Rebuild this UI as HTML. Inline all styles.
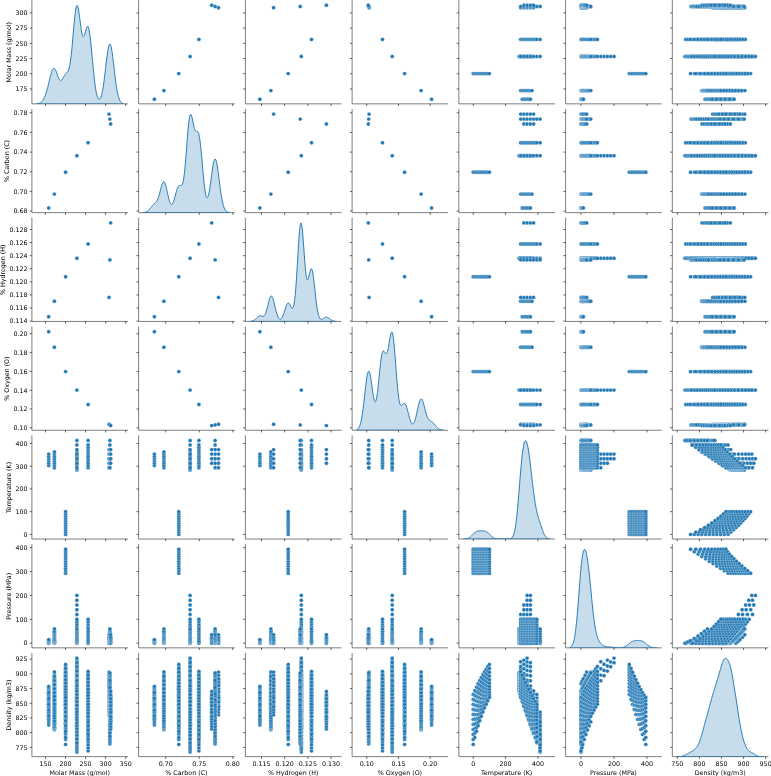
<!DOCTYPE html>
<html><head><meta charset="utf-8"><title>Pairplot</title>
<style>html,body{margin:0;padding:0;background:#fff}svg{display:block}</style></head>
<body>
<svg width="771" height="776" viewBox="0 0 771 776" font-family="'DejaVu Sans', 'Liberation Sans', sans-serif" font-size="6.33px" fill="#000">
<defs><marker id="d" markerUnits="userSpaceOnUse" markerWidth="6" markerHeight="6" refX="3" refY="3" viewBox="0 0 6 6"><circle cx="3" cy="3" r="1.95" fill="#1f77b4" stroke="#fff" stroke-width="0.3"/></marker></defs>
<rect width="771" height="776" fill="#fff"/>
<g>
<path d="M31.90,0.60V103.85H127.50" fill="none" stroke="#000" stroke-width="0.507" stroke-linecap="square"/>
<clipPath id="c0"><rect x="31.90" y="0.60" width="95.6" height="103.25"/></clipPath>
<path d="M36.25,103.76 36.25,103.85 36.68,103.85 37.12,103.85 37.56,103.85 37.99,103.85 38.43,103.85 38.87,103.85 39.30,103.85 39.74,103.85 40.18,103.85 40.61,103.85 41.05,103.85 41.49,103.85 41.92,103.85 42.36,103.85 42.80,103.85 43.23,103.85 43.67,103.85 44.11,103.85 44.54,103.85 44.98,103.85 45.42,103.85 45.85,103.85 46.29,103.85 46.73,103.85 47.16,103.85 47.60,103.85 48.04,103.85 48.47,103.85 48.91,103.85 49.35,103.85 49.78,103.85 50.22,103.85 50.66,103.85 51.09,103.85 51.53,103.85 51.97,103.85 52.40,103.85 52.84,103.85 53.28,103.85 53.71,103.85 54.15,103.85 54.59,103.85 55.02,103.85 55.46,103.85 55.90,103.85 56.33,103.85 56.77,103.85 57.21,103.85 57.65,103.85 58.08,103.85 58.52,103.85 58.96,103.85 59.39,103.85 59.83,103.85 60.27,103.85 60.70,103.85 61.14,103.85 61.58,103.85 62.01,103.85 62.45,103.85 62.89,103.85 63.32,103.85 63.76,103.85 64.20,103.85 64.63,103.85 65.07,103.85 65.51,103.85 65.94,103.85 66.38,103.85 66.82,103.85 67.25,103.85 67.69,103.85 68.13,103.85 68.56,103.85 69.00,103.85 69.44,103.85 69.87,103.85 70.31,103.85 70.75,103.85 71.18,103.85 71.62,103.85 72.06,103.85 72.49,103.85 72.93,103.85 73.37,103.85 73.80,103.85 74.24,103.85 74.68,103.85 75.11,103.85 75.55,103.85 75.99,103.85 76.42,103.85 76.86,103.85 77.30,103.85 77.73,103.85 78.17,103.85 78.61,103.85 79.04,103.85 79.48,103.85 79.92,103.85 80.36,103.85 80.79,103.85 81.23,103.85 81.67,103.85 82.10,103.85 82.54,103.85 82.98,103.85 83.41,103.85 83.85,103.85 84.29,103.85 84.72,103.85 85.16,103.85 85.60,103.85 86.03,103.85 86.47,103.85 86.91,103.85 87.34,103.85 87.78,103.85 88.22,103.85 88.65,103.85 89.09,103.85 89.53,103.85 89.96,103.85 90.40,103.85 90.84,103.85 91.27,103.85 91.71,103.85 92.15,103.85 92.58,103.85 93.02,103.85 93.46,103.85 93.89,103.85 94.33,103.85 94.77,103.85 95.20,103.85 95.64,103.85 96.08,103.85 96.51,103.85 96.95,103.85 97.39,103.85 97.82,103.85 98.26,103.85 98.70,103.85 99.13,103.85 99.57,103.85 100.01,103.85 100.44,103.85 100.88,103.85 101.32,103.85 101.75,103.85 102.19,103.85 102.63,103.85 103.07,103.85 103.50,103.85 103.94,103.85 104.38,103.85 104.81,103.85 105.25,103.85 105.69,103.85 106.12,103.85 106.56,103.85 107.00,103.85 107.43,103.85 107.87,103.85 108.31,103.85 108.74,103.85 109.18,103.85 109.62,103.85 110.05,103.85 110.49,103.85 110.93,103.85 111.36,103.85 111.80,103.85 112.24,103.85 112.67,103.85 113.11,103.85 113.55,103.85 113.98,103.85 114.42,103.85 114.86,103.85 115.29,103.85 115.73,103.85 116.17,103.85 116.60,103.85 117.04,103.85 117.48,103.85 117.91,103.85 118.35,103.85 118.79,103.85 119.22,103.85 119.66,103.85 120.10,103.85 120.53,103.85 120.97,103.85 121.41,103.85 121.84,103.85 122.28,103.85 122.72,103.85 123.15,103.85 123.15,103.47 123.15,103.47 122.72,103.33 122.28,103.13 121.84,102.88 121.41,102.55 120.97,102.12 120.53,101.58 120.10,100.90 119.66,100.05 119.22,99.03 118.79,97.79 118.35,96.31 117.91,94.58 117.48,92.57 117.04,90.27 116.60,87.68 116.17,84.81 115.73,81.68 115.29,78.31 114.86,74.74 114.42,71.04 113.98,67.27 113.55,63.50 113.11,59.83 112.67,56.35 112.24,53.15 111.80,50.32 111.36,47.95 110.93,46.11 110.49,44.85 110.05,44.22 109.62,44.23 109.18,44.90 108.74,46.18 108.31,48.06 107.87,50.45 107.43,53.30 107.00,56.52 106.56,60.01 106.12,63.68 105.69,67.44 105.25,71.21 104.81,74.90 104.38,78.44 103.94,81.78 103.50,84.88 103.07,87.70 102.63,90.21 102.19,92.42 101.75,94.31 101.32,95.89 100.88,97.16 100.44,98.13 100.01,98.81 99.57,99.20 99.13,99.31 98.70,99.13 98.26,98.66 97.82,97.88 97.39,96.79 96.95,95.36 96.51,93.57 96.08,91.42 95.64,88.89 95.20,85.98 94.77,82.68 94.33,79.01 93.89,75.01 93.46,70.71 93.02,66.17 92.58,61.47 92.15,56.69 91.71,51.94 91.27,47.31 90.84,42.93 90.40,38.89 89.96,35.30 89.53,32.24 89.09,29.79 88.65,27.98 88.22,26.84 87.78,26.35 87.34,26.47 86.91,27.12 86.47,28.21 86.03,29.61 85.60,31.19 85.16,32.79 84.72,34.27 84.29,35.49 83.85,36.31 83.41,36.65 82.98,36.40 82.54,35.55 82.10,34.07 81.67,32.01 81.23,29.42 80.79,26.42 80.36,23.13 79.92,19.71 79.48,16.32 79.04,13.13 78.61,10.32 78.17,8.03 77.73,6.41 77.30,5.54 76.86,5.52 76.42,6.36 75.99,8.06 75.55,10.59 75.11,13.86 74.68,17.78 74.24,22.20 73.80,26.99 73.37,32.00 72.93,37.08 72.49,42.08 72.06,46.87 71.62,51.35 71.18,55.44 70.75,59.06 70.31,62.20 69.87,64.84 69.44,67.00 69.00,68.72 68.56,70.05 68.13,71.05 67.69,71.81 67.25,72.38 66.82,72.84 66.38,73.25 65.94,73.66 65.51,74.12 65.07,74.64 64.63,75.24 64.20,75.92 63.76,76.65 63.32,77.42 62.89,78.19 62.45,78.90 62.01,79.54 61.58,80.04 61.14,80.38 60.70,80.52 60.27,80.44 59.83,80.13 59.39,79.59 58.96,78.84 58.52,77.90 58.08,76.81 57.65,75.61 57.21,74.34 56.77,73.08 56.33,71.86 55.90,70.75 55.46,69.80 55.02,69.05 54.59,68.53 54.15,68.28 53.71,68.30 53.28,68.61 52.84,69.18 52.40,70.02 51.97,71.10 51.53,72.38 51.09,73.84 50.66,75.45 50.22,77.15 49.78,78.92 49.35,80.73 48.91,82.55 48.47,84.35 48.04,86.10 47.60,87.79 47.16,89.41 46.73,90.94 46.29,92.38 45.85,93.72 45.42,94.96 44.98,96.10 44.54,97.14 44.11,98.07 43.67,98.92 43.23,99.67 42.80,100.33 42.36,100.91 41.92,101.42 41.49,101.85 41.05,102.22 40.61,102.54 40.18,102.80 39.74,103.02 39.30,103.20 38.87,103.34 38.43,103.46 37.99,103.55 37.56,103.63 37.12,103.68 36.68,103.73 36.25,103.76 36.25,103.76Z" clip-path="url(#c0)" fill="#1f77b4" fill-opacity="0.25" stroke="#1f77b4" stroke-width="0.95" stroke-linejoin="round"/>
<path d="M45.43,103.85v2.2M65.50,103.85v2.2M85.56,103.85v2.2M105.63,103.85v2.2M125.69,103.85v2.2M31.90,88.96h-2.2M31.90,73.75h-2.2M31.90,58.55h-2.2M31.90,43.34h-2.2M31.90,28.13h-2.2M31.90,12.92h-2.2" stroke="#000" stroke-width="0.6" fill="none"/>
<text x="27.50" y="91.27" text-anchor="end">175</text>
<text x="27.50" y="76.06" text-anchor="end">200</text>
<text x="27.50" y="60.86" text-anchor="end">225</text>
<text x="27.50" y="45.65" text-anchor="end">250</text>
<text x="27.50" y="30.44" text-anchor="end">275</text>
<text x="27.50" y="15.23" text-anchor="end">300</text>
<text transform="translate(11.40,52.22) rotate(-90)" text-anchor="middle">Molar Mass (g/mol)</text>
</g>
<g>
<polyline points="154.4,99.2 163.9,90.6 178.8,73.6 190.1,56.5 218.5,7.7 215.1,6.5 211.7,5.3 198.9,39.4" fill="none" stroke="none" marker-start="url(#d)" marker-mid="url(#d)" marker-end="url(#d)"/>
<path d="M138.64,0.60V103.85H234.24" fill="none" stroke="#000" stroke-width="0.507" stroke-linecap="square"/>
<path d="M165.72,103.85v2.2M199.25,103.85v2.2M232.78,103.85v2.2M138.64,88.96h-2.2M138.64,73.75h-2.2M138.64,58.55h-2.2M138.64,43.34h-2.2M138.64,28.13h-2.2M138.64,12.92h-2.2" stroke="#000" stroke-width="0.6" fill="none"/>
</g>
<g>
<polyline points="259.9,99.2 270.9,90.6 288.2,73.6 301.3,56.5 273.6,7.7 300.2,6.5 326.4,5.3 311.5,39.4" fill="none" stroke="none" marker-start="url(#d)" marker-mid="url(#d)" marker-end="url(#d)"/>
<path d="M245.38,0.60V103.85H340.98" fill="none" stroke="#000" stroke-width="0.507" stroke-linecap="square"/>
<path d="M261.49,103.85v2.2M284.67,103.85v2.2M307.86,103.85v2.2M331.04,103.85v2.2M245.38,88.96h-2.2M245.38,73.75h-2.2M245.38,58.55h-2.2M245.38,43.34h-2.2M245.38,28.13h-2.2M245.38,12.92h-2.2" stroke="#000" stroke-width="0.6" fill="none"/>
</g>
<g>
<polyline points="431.6,99.2 421.1,90.6 404.6,73.6 392.2,56.5 369.1,7.7 368.7,6.5 368.3,5.3 382.5,39.4" fill="none" stroke="none" marker-start="url(#d)" marker-mid="url(#d)" marker-end="url(#d)"/>
<path d="M352.12,0.60V103.85H447.72" fill="none" stroke="#000" stroke-width="0.507" stroke-linecap="square"/>
<path d="M366.76,103.85v2.2M398.46,103.85v2.2M430.17,103.85v2.2M352.12,88.96h-2.2M352.12,73.75h-2.2M352.12,58.55h-2.2M352.12,43.34h-2.2M352.12,28.13h-2.2M352.12,12.92h-2.2" stroke="#000" stroke-width="0.6" fill="none"/>
</g>
<g>
<polyline points="522.3,99.2 523.9,99.2 525.5,99.2 527.1,99.2 528.8,99.2 530.4,99.2 520.7,90.6 522.3,90.6 523.9,90.6 525.5,90.6 527.1,90.6 528.8,90.6 530.4,90.6 532,90.6 473.2,73.6 474.8,73.6 476.5,73.6 478.1,73.6 479.7,73.6 481.3,73.6 482.9,73.6 484.5,73.6 486.2,73.6 487.8,73.6 489.4,73.6 519,56.5 519.9,56.5 521.5,56.5 522.3,56.5 523.1,56.5 524.7,56.5 525.5,56.5 526.3,56.5 527.9,56.5 528.8,56.5 529.6,56.5 531.2,56.5 532,56.5 520.7,56.5 523.9,56.5 527.1,56.5 530.4,56.5 533.6,56.5 536.8,56.5 540.1,56.5 520.7,7.7 523.9,7.7 527.1,7.7 530.4,7.7 533.6,7.7 520.7,6.5 523.9,6.5 527.1,6.5 530.4,6.5 533.6,6.5 536.8,6.5 540.1,6.5 523.9,5.3 527.1,5.3 530.4,5.3 533.6,5.3 520.7,39.4 522.3,39.4 523.9,39.4 525.5,39.4 527.1,39.4 528.8,39.4 530.4,39.4 532,39.4 533.6,39.4 535.2,39.4 536.8,39.4 540.1,39.4" fill="none" stroke="none" marker-start="url(#d)" marker-mid="url(#d)" marker-end="url(#d)"/>
<path d="M458.86,0.60V103.85H554.46" fill="none" stroke="#000" stroke-width="0.507" stroke-linecap="square"/>
<path d="M473.22,103.85v2.2M505.59,103.85v2.2M537.96,103.85v2.2M458.86,88.96h-2.2M458.86,73.75h-2.2M458.86,58.55h-2.2M458.86,43.34h-2.2M458.86,28.13h-2.2M458.86,12.92h-2.2" stroke="#000" stroke-width="0.6" fill="none"/>
</g>
<g>
<polyline points="581,99.2 581.4,99.2 581.9,99.2 582.4,99.2 582.9,99.2 583.4,99.2 581,90.6 581.1,90.6 581.3,90.6 581.4,90.6 581.6,90.6 581.8,90.6 582.2,90.6 582.6,90.6 583,90.6 583.4,90.6 584.2,90.6 585.1,90.6 585.9,90.6 586.7,90.6 587.5,90.6 588.4,90.6 589.2,90.6 590.8,90.6 629.3,73.6 631,73.6 632.6,73.6 634.3,73.6 635.9,73.6 637.6,73.6 639.2,73.6 640.9,73.6 642.5,73.6 644.2,73.6 645.8,73.6 600.8,56.5 604.1,56.5 607.4,56.5 610.7,56.5 614,56.5 592.5,56.5 594.1,56.5 595.8,56.5 597.4,56.5 581,56.5 581.3,56.5 581.6,56.5 581.9,56.5 582.3,56.5 582.6,56.5 583.4,56.5 584.2,56.5 585.1,56.5 585.9,56.5 586.7,56.5 587.5,56.5 588.4,56.5 589.2,56.5 590,56.5 590.8,56.5 581,7.7 581.8,7.7 582.6,7.7 583.4,7.7 585.1,7.7 586.7,7.7 587.5,6.5 588.4,6.5 589.2,6.5 590,6.5 590.8,6.5 581,6.5 581.3,6.5 581.6,6.5 581.9,6.5 582.3,6.5 582.6,6.5 583.4,6.5 584.2,6.5 585.1,6.5 585.9,6.5 586.7,6.5 581,5.3 581.8,5.3 582.6,5.3 583.4,5.3 584.2,5.3 585.1,5.3 586.7,5.3 592.5,39.4 594.1,39.4 595.8,39.4 597.4,39.4 581,39.4 581.8,39.4 582.6,39.4 584.2,39.4 585.9,39.4 587.5,39.4 589.2,39.4 590.8,39.4" fill="none" stroke="none" marker-start="url(#d)" marker-mid="url(#d)" marker-end="url(#d)"/>
<path d="M565.60,0.60V103.85H661.20" fill="none" stroke="#000" stroke-width="0.507" stroke-linecap="square"/>
<path d="M580.94,103.85v2.2M613.96,103.85v2.2M646.97,103.85v2.2M565.60,88.96h-2.2M565.60,73.75h-2.2M565.60,58.55h-2.2M565.60,43.34h-2.2M565.60,28.13h-2.2M565.60,12.92h-2.2" stroke="#000" stroke-width="0.6" fill="none"/>
</g>
<g>
<polyline points="729,99.2 730,99.2 731.1,99.2 732.1,99.2 733.1,99.2 734.1,99.2 724.2,99.2 725.3,99.2 726.4,99.2 727.5,99.2 728.6,99.2 729.6,99.2 719.4,99.2 720.6,99.2 721.8,99.2 722.9,99.2 724.1,99.2 725.2,99.2 714.7,99.2 715.9,99.2 717.2,99.2 718.4,99.2 719.6,99.2 720.8,99.2 709.9,99.2 711.3,99.2 712.6,99.2 713.9,99.2 715.2,99.2 716.4,99.2 705.1,99.2 706.6,99.2 708.1,99.2 709.5,99.2 710.8,99.2 712.2,99.2 729,90.6 729.9,90.6 730.2,90.6 730.5,90.6 732.1,90.6 733.5,90.6 735,90.6 736.3,90.6 737.7,90.6 739,90.6 740.2,90.6 741.5,90.6 742.6,90.6 744.9,90.6 726,90.6 726.4,90.6 726.7,90.6 727.5,90.6 728.3,90.6 729.1,90.6 729.8,90.6 731.3,90.6 732.7,90.6 734.1,90.6 735.5,90.6 736.8,90.6 738.1,90.6 739.3,90.6 741.7,90.6 721.2,90.6 721.5,90.6 721.8,90.6 722.9,90.6 724.5,90.6 725.4,90.6 726.2,90.6 727.7,90.6 729.2,90.6 730.6,90.6 732,90.6 733.4,90.6 734.7,90.6 736,90.6 738.4,90.6 717.2,90.6 717.6,90.6 718.3,90.6 718.7,90.6 719.1,90.6 719.9,90.6 720.8,90.6 721.7,90.6 722.5,90.6 724.1,90.6 725.7,90.6 727.2,90.6 728.7,90.6 730.1,90.6 731.4,90.6 732.8,90.6 735.3,90.6 713.3,90.6 714.1,90.6 714.5,90.6 714.9,90.6 715.2,90.6 716.2,90.6 718,90.6 722.2,90.6 723.8,90.6 725.3,90.6 726.8,90.6 728.2,90.6 729.6,90.6 732.2,90.6 709.4,90.6 710.2,90.6 710.6,90.6 711.1,90.6 711.5,90.6 712.5,90.6 713.4,90.6 714.4,90.6 715.3,90.6 717.1,90.6 718.9,90.6 720.5,90.6 723.6,90.6 725.1,90.6 726.6,90.6 729.3,90.6 705.5,90.6 705.9,90.6 706.4,90.6 706.8,90.6 707.7,90.6 708.8,90.6 709.8,90.6 710.8,90.6 711.8,90.6 713.7,90.6 715.5,90.6 717.3,90.6 719,90.6 720.6,90.6 722.1,90.6 723.7,90.6 726.5,90.6 701.6,90.6 702,90.6 702.5,90.6 703,90.6 703.5,90.6 704,90.6 705.1,90.6 706.2,90.6 707.3,90.6 708.4,90.6 710.4,90.6 712.3,90.6 714.2,90.6 716,90.6 717.7,90.6 719.3,90.6 720.9,90.6 723.9,90.6 728.1,73.6 730.9,73.6 733.6,73.6 736.1,73.6 738.5,73.6 742.9,73.6 745,73.6 746.9,73.6 748.8,73.6 750.6,73.6 724.3,73.6 727.3,73.6 730.1,73.6 732.7,73.6 735.2,73.6 737.5,73.6 739.7,73.6 743.8,73.6 745.8,73.6 747.6,73.6 720.6,73.6 723.7,73.6 726.6,73.6 729.3,73.6 734.3,73.6 736.5,73.6 738.7,73.6 740.8,73.6 742.8,73.6 744.7,73.6 716.8,73.6 720.1,73.6 723.1,73.6 728.6,73.6 731.1,73.6 733.4,73.6 735.7,73.6 737.8,73.6 739.9,73.6 741.8,73.6 719.7,73.6 725.4,73.6 728,73.6 730.4,73.6 732.8,73.6 735,73.6 737.1,73.6 739.1,73.6 709.3,73.6 722.3,73.6 725,73.6 729.9,73.6 732.2,73.6 734.4,73.6 736.4,73.6 705.6,73.6 709.4,73.6 712.9,73.6 716.2,73.6 727.2,73.6 729.5,73.6 731.8,73.6 733.9,73.6 701.8,73.6 705.9,73.6 709.7,73.6 713.1,73.6 716.3,73.6 719.2,73.6 722,73.6 724.6,73.6 727,73.6 731.6,73.6 698.1,73.6 702.5,73.6 706.5,73.6 710.1,73.6 713.5,73.6 716.5,73.6 719.4,73.6 722.1,73.6 724.7,73.6 727.1,73.6 729.4,73.6 694.3,73.6 699.1,73.6 703.4,73.6 707.3,73.6 710.8,73.6 714.1,73.6 717.1,73.6 719.9,73.6 722.6,73.6 725.1,73.6 727.5,73.6 690.6,73.6 695.8,73.6 700.4,73.6 704.6,73.6 708.3,73.6 711.8,73.6 715,73.6 718,73.6 720.8,73.6 723.4,73.6 725.9,73.6 732.4,56.5 733,56.5 734.2,56.5 735.5,56.5 739.1,56.5 740.2,56.5 741.3,56.5 742.4,56.5 743.4,56.5 744.4,56.5 730.7,56.5 732.6,56.5 733.9,56.5 735.1,56.5 736.3,56.5 739.8,56.5 740.9,56.5 743,56.5 729.6,56.5 730.9,56.5 733.5,56.5 735.9,56.5 738.2,56.5 739.3,56.5 740.4,56.5 741.5,56.5 726.8,56.5 727.3,56.5 731.9,56.5 735.6,56.5 736.7,56.5 737.8,56.5 740,56.5 726.2,56.5 730.3,56.5 731.6,56.5 732.8,56.5 734,56.5 735.2,56.5 736.4,56.5 737.5,56.5 738.6,56.5 721.5,56.5 722.1,56.5 723.4,56.5 724.5,56.5 726,56.5 727.4,56.5 728.7,56.5 731.3,56.5 733.7,56.5 734.9,56.5 736,56.5 737.1,56.5 719.8,56.5 720.4,56.5 721.7,56.5 722.9,56.5 724.3,56.5 725.8,56.5 727.1,56.5 728.5,56.5 729.8,56.5 731,56.5 733.4,56.5 734.6,56.5 735.7,56.5 718.7,56.5 719.3,56.5 724.2,56.5 725.6,56.5 726.9,56.5 728.2,56.5 729.5,56.5 730.8,56.5 732,56.5 733.2,56.5 734.3,56.5 718.9,56.5 721.1,56.5 724,56.5 725.4,56.5 726.7,56.5 728.1,56.5 729.3,56.5 730.5,56.5 731.7,56.5 732.9,56.5 715.9,56.5 717.2,56.5 722.5,56.5 725.3,56.5 726.6,56.5 727.9,56.5 729.1,56.5 730.4,56.5 731.5,56.5 714.2,56.5 715.6,56.5 716.2,56.5 725.2,56.5 726.5,56.5 727.7,56.5 729,56.5 730.2,56.5 712.5,56.5 713.2,56.5 713.9,56.5 714.6,56.5 726.4,56.5 728.9,56.5 710.8,56.5 712.3,56.5 714.7,56.5 716.3,56.5 717.9,56.5 719.4,56.5 722.3,56.5 707.6,56.5 708.3,56.5 709.9,56.5 710.6,56.5 711.3,56.5 713.1,56.5 716.4,56.5 718,56.5 719.5,56.5 720.9,56.5 723.7,56.5 725,56.5 726.3,56.5 705.8,56.5 706.6,56.5 709,56.5 709.7,56.5 711.5,56.5 713.3,56.5 714.9,56.5 716.6,56.5 718.1,56.5 719.6,56.5 721,56.5 722.4,56.5 723.8,56.5 725.1,56.5 704.1,56.5 707.3,56.5 708.1,56.5 710,56.5 711.8,56.5 713.5,56.5 715.2,56.5 716.7,56.5 718.3,56.5 719.7,56.5 721.2,56.5 722.6,56.5 723.9,56.5 702.4,56.5 703.2,56.5 704,56.5 704.9,56.5 705.7,56.5 706.5,56.5 708.4,56.5 710.3,56.5 712.1,56.5 713.8,56.5 715.4,56.5 717,56.5 718.5,56.5 721.4,56.5 722.7,56.5 743.5,56.5 745.5,56.5 747.3,56.5 749.1,56.5 737.9,56.5 739.9,56.5 741.9,56.5 743.8,56.5 747.4,56.5 750.7,56.5 753.8,56.5 732.5,56.5 734.7,56.5 736.8,56.5 738.9,56.5 742.6,56.5 746.1,56.5 749.4,56.5 752.5,56.5 755.4,56.5 727.6,56.5 730,56.5 732.2,56.5 734.4,56.5 738.4,56.5 742.1,56.5 745.6,56.5 748.8,56.5 751.8,56.5 698.9,56.5 699.8,56.5 700.7,56.5 701.6,56.5 703.4,56.5 705.4,56.5 707.4,56.5 709.3,56.5 712.8,56.5 714.5,56.5 716.1,56.5 717.6,56.5 719.1,56.5 720.6,56.5 723.3,56.5 725.9,56.5 728.3,56.5 730.6,56.5 691.9,56.5 693,56.5 694.1,56.5 695.2,56.5 696.2,56.5 697.3,56.5 699.7,56.5 702,56.5 704.2,56.5 706.3,56.5 708.2,56.5 710.1,56.5 711.9,56.5 713.7,56.5 715.3,56.5 716.9,56.5 720,56.5 722.8,56.5 725.5,56.5 728,56.5 684.9,56.5 686.3,56.5 687.7,56.5 689.1,56.5 690.4,56.5 691.7,56.5 694.7,56.5 697.5,56.5 700.1,56.5 702.5,56.5 704.8,56.5 707,56.5 709.1,56.5 711.1,56.5 713,56.5 714.8,56.5 736,7.7 737.4,7.7 738.7,7.7 740,7.7 742.5,7.7 744.8,7.7 730.2,7.7 731.7,7.7 733.1,7.7 734.5,7.7 737.2,7.7 739.7,7.7 724.4,7.7 726,7.7 727.6,7.7 729.2,7.7 732.1,7.7 734.8,7.7 718.6,7.7 720.4,7.7 722.2,7.7 723.9,7.7 727.1,7.7 730.1,7.7 712.7,7.7 714.8,7.7 716.9,7.7 718.8,7.7 722.4,7.7 725.7,7.7 730.3,6.5 730.8,6.5 731.4,6.5 732.4,6.5 732.9,6.5 734.2,6.5 737.8,6.5 738.9,6.5 740.1,6.5 741.1,6.5 742.2,6.5 743.2,6.5 744.2,6.5 723.8,6.5 724.3,6.5 724.9,6.5 725.5,6.5 726.6,6.5 728,6.5 729.3,6.5 730.6,6.5 731.9,6.5 733.1,6.5 734.3,6.5 735.4,6.5 736.6,6.5 737.7,6.5 738.7,6.5 717.2,6.5 717.8,6.5 718.5,6.5 719.1,6.5 719.7,6.5 720.4,6.5 726.1,6.5 727.4,6.5 728.7,6.5 729.9,6.5 731.1,6.5 732.3,6.5 733.5,6.5 710.7,6.5 711.4,6.5 712.8,6.5 714.2,6.5 715.9,6.5 717.5,6.5 719,6.5 720.5,6.5 721.9,6.5 723.3,6.5 724.7,6.5 726,6.5 727.3,6.5 728.5,6.5 704.1,6.5 704.9,6.5 705.7,6.5 707.3,6.5 708.1,6.5 710,6.5 711.8,6.5 713.5,6.5 715.2,6.5 716.8,6.5 718.3,6.5 719.8,6.5 721.3,6.5 722.6,6.5 724,6.5 697.5,6.5 698.5,6.5 699.5,6.5 700.4,6.5 701.3,6.5 702.3,6.5 704.4,6.5 706.5,6.5 708.5,6.5 710.3,6.5 712.1,6.5 713.9,6.5 715.5,6.5 717.1,6.5 718.6,6.5 720.1,6.5 691,6.5 692.2,6.5 693.3,6.5 694.5,6.5 695.6,6.5 696.7,6.5 699.3,6.5 701.7,6.5 704,6.5 706.2,6.5 708.3,6.5 721,5.3 722.4,5.3 723.8,5.3 725.2,5.3 726.5,5.3 727.8,5.3 730.3,5.3 716.3,5.3 717.8,5.3 719.3,5.3 720.8,5.3 722.2,5.3 724.8,5.3 708.4,5.3 710.1,5.3 711.9,5.3 713.5,5.3 715.1,5.3 716.7,5.3 719.6,5.3 702,5.3 704.1,5.3 706.1,5.3 707.9,5.3 709.7,5.3 711.4,5.3 714.7,5.3 725.9,39.4 730.5,39.4 734.7,39.4 736.7,39.4 738.5,39.4 740.3,39.4 742,39.4 743.7,39.4 745.3,39.4 722.5,39.4 725,39.4 727.3,39.4 729.6,39.4 731.7,39.4 733.7,39.4 735.6,39.4 737.4,39.4 739.2,39.4 740.9,39.4 742.5,39.4 719.2,39.4 721.7,39.4 726.5,39.4 728.6,39.4 730.7,39.4 734.6,39.4 736.4,39.4 738.1,39.4 739.8,39.4 715.9,39.4 721,39.4 723.4,39.4 725.6,39.4 727.8,39.4 729.8,39.4 731.8,39.4 733.6,39.4 735.4,39.4 737.1,39.4 712.5,39.4 715.3,39.4 717.9,39.4 720.4,39.4 727,39.4 729,39.4 730.9,39.4 732.7,39.4 734.5,39.4 709.2,39.4 712.1,39.4 714.8,39.4 717.4,39.4 719.8,39.4 722.1,39.4 724.2,39.4 726.3,39.4 728.3,39.4 730.2,39.4 732,39.4 711.7,39.4 714.4,39.4 716.9,39.4 719.3,39.4 721.5,39.4 723.7,39.4 725.7,39.4 727.6,39.4 729.5,39.4 711.5,39.4 716.6,39.4 718.9,39.4 721.1,39.4 723.2,39.4 725.2,39.4 727.1,39.4 699.1,39.4 702.5,39.4 705.7,39.4 708.6,39.4 722.9,39.4 724.9,39.4 695.8,39.4 699.4,39.4 702.7,39.4 705.8,39.4 708.7,39.4 711.4,39.4 713.9,39.4 716.3,39.4 718.5,39.4 720.7,39.4 722.7,39.4 692.4,39.4 696.3,39.4 699.9,39.4 703.1,39.4 706.1,39.4 708.9,39.4 711.6,39.4 714.1,39.4 716.4,39.4 718.6,39.4 720.8,39.4 685.7,39.4 688,39.4 690.3,39.4 694.3,39.4 698,39.4 701.4,39.4 704.5,39.4 707.4,39.4" fill="none" stroke="none" marker-start="url(#d)" marker-mid="url(#d)" marker-end="url(#d)"/>
<path d="M672.34,0.60V103.85H767.94" fill="none" stroke="#000" stroke-width="0.507" stroke-linecap="square"/>
<path d="M677.32,103.85v2.2M699.40,103.85v2.2M721.48,103.85v2.2M743.55,103.85v2.2M765.63,103.85v2.2M672.34,88.96h-2.2M672.34,73.75h-2.2M672.34,58.55h-2.2M672.34,43.34h-2.2M672.34,28.13h-2.2M672.34,12.92h-2.2" stroke="#000" stroke-width="0.6" fill="none"/>
</g>
<g>
<polyline points="48.7,208 54.4,194.1 65.6,172.2 76.9,155.7 109,114.1 109.9,119.1 110.7,124 88.1,142.8" fill="none" stroke="none" marker-start="url(#d)" marker-mid="url(#d)" marker-end="url(#d)"/>
<path d="M31.90,109.40V212.65H127.50" fill="none" stroke="#000" stroke-width="0.507" stroke-linecap="square"/>
<path d="M45.43,212.65v2.2M65.50,212.65v2.2M85.56,212.65v2.2M105.63,212.65v2.2M125.69,212.65v2.2M31.90,211.03h-2.2M31.90,191.38h-2.2M31.90,171.73h-2.2M31.90,152.08h-2.2M31.90,132.43h-2.2M31.90,112.78h-2.2" stroke="#000" stroke-width="0.6" fill="none"/>
<text x="27.50" y="213.34" text-anchor="end">0.68</text>
<text x="27.50" y="193.69" text-anchor="end">0.70</text>
<text x="27.50" y="174.04" text-anchor="end">0.72</text>
<text x="27.50" y="154.39" text-anchor="end">0.74</text>
<text x="27.50" y="134.74" text-anchor="end">0.76</text>
<text x="27.50" y="115.09" text-anchor="end">0.78</text>
<text transform="translate(9.39,161.02) rotate(-90)" text-anchor="middle">% Carbon (C)</text>
</g>
<g>
<path d="M138.64,109.40V212.65H234.24" fill="none" stroke="#000" stroke-width="0.507" stroke-linecap="square"/>
<clipPath id="c1"><rect x="138.64" y="109.40" width="95.6" height="103.25"/></clipPath>
<path d="M142.99,212.57 142.99,212.65 143.42,212.65 143.86,212.65 144.30,212.65 144.73,212.65 145.17,212.65 145.61,212.65 146.04,212.65 146.48,212.65 146.92,212.65 147.35,212.65 147.79,212.65 148.23,212.65 148.66,212.65 149.10,212.65 149.54,212.65 149.97,212.65 150.41,212.65 150.85,212.65 151.28,212.65 151.72,212.65 152.16,212.65 152.59,212.65 153.03,212.65 153.47,212.65 153.90,212.65 154.34,212.65 154.78,212.65 155.21,212.65 155.65,212.65 156.09,212.65 156.52,212.65 156.96,212.65 157.40,212.65 157.83,212.65 158.27,212.65 158.71,212.65 159.14,212.65 159.58,212.65 160.02,212.65 160.45,212.65 160.89,212.65 161.33,212.65 161.76,212.65 162.20,212.65 162.64,212.65 163.07,212.65 163.51,212.65 163.95,212.65 164.39,212.65 164.82,212.65 165.26,212.65 165.70,212.65 166.13,212.65 166.57,212.65 167.01,212.65 167.44,212.65 167.88,212.65 168.32,212.65 168.75,212.65 169.19,212.65 169.63,212.65 170.06,212.65 170.50,212.65 170.94,212.65 171.37,212.65 171.81,212.65 172.25,212.65 172.68,212.65 173.12,212.65 173.56,212.65 173.99,212.65 174.43,212.65 174.87,212.65 175.30,212.65 175.74,212.65 176.18,212.65 176.61,212.65 177.05,212.65 177.49,212.65 177.92,212.65 178.36,212.65 178.80,212.65 179.23,212.65 179.67,212.65 180.11,212.65 180.54,212.65 180.98,212.65 181.42,212.65 181.85,212.65 182.29,212.65 182.73,212.65 183.16,212.65 183.60,212.65 184.04,212.65 184.47,212.65 184.91,212.65 185.35,212.65 185.78,212.65 186.22,212.65 186.66,212.65 187.10,212.65 187.53,212.65 187.97,212.65 188.41,212.65 188.84,212.65 189.28,212.65 189.72,212.65 190.15,212.65 190.59,212.65 191.03,212.65 191.46,212.65 191.90,212.65 192.34,212.65 192.77,212.65 193.21,212.65 193.65,212.65 194.08,212.65 194.52,212.65 194.96,212.65 195.39,212.65 195.83,212.65 196.27,212.65 196.70,212.65 197.14,212.65 197.58,212.65 198.01,212.65 198.45,212.65 198.89,212.65 199.32,212.65 199.76,212.65 200.20,212.65 200.63,212.65 201.07,212.65 201.51,212.65 201.94,212.65 202.38,212.65 202.82,212.65 203.25,212.65 203.69,212.65 204.13,212.65 204.56,212.65 205.00,212.65 205.44,212.65 205.87,212.65 206.31,212.65 206.75,212.65 207.18,212.65 207.62,212.65 208.06,212.65 208.49,212.65 208.93,212.65 209.37,212.65 209.81,212.65 210.24,212.65 210.68,212.65 211.12,212.65 211.55,212.65 211.99,212.65 212.43,212.65 212.86,212.65 213.30,212.65 213.74,212.65 214.17,212.65 214.61,212.65 215.05,212.65 215.48,212.65 215.92,212.65 216.36,212.65 216.79,212.65 217.23,212.65 217.67,212.65 218.10,212.65 218.54,212.65 218.98,212.65 219.41,212.65 219.85,212.65 220.29,212.65 220.72,212.65 221.16,212.65 221.60,212.65 222.03,212.65 222.47,212.65 222.91,212.65 223.34,212.65 223.78,212.65 224.22,212.65 224.65,212.65 225.09,212.65 225.53,212.65 225.96,212.65 226.40,212.65 226.84,212.65 227.27,212.65 227.71,212.65 228.15,212.65 228.58,212.65 229.02,212.65 229.46,212.65 229.89,212.65 229.89,212.56 229.89,212.56 229.46,212.51 229.02,212.46 228.58,212.38 228.15,212.27 227.71,212.13 227.27,211.94 226.84,211.69 226.40,211.37 225.96,210.97 225.53,210.45 225.09,209.80 224.65,209.01 224.22,208.04 223.78,206.87 223.34,205.48 222.91,203.86 222.47,201.97 222.03,199.83 221.60,197.41 221.16,194.73 220.72,191.81 220.29,188.67 219.85,185.36 219.41,181.94 218.98,178.46 218.54,175.02 218.10,171.70 217.67,168.59 217.23,165.78 216.79,163.35 216.36,161.39 215.92,159.96 215.48,159.11 215.05,158.87 214.61,159.25 214.17,160.24 213.74,161.79 213.30,163.85 212.86,166.35 212.43,169.21 211.99,172.33 211.55,175.61 211.12,178.94 210.68,182.24 210.24,185.41 209.81,188.36 209.37,191.01 208.93,193.30 208.49,195.16 208.06,196.55 207.62,197.41 207.18,197.73 206.75,197.46 206.31,196.58 205.87,195.10 205.44,193.00 205.00,190.31 204.56,187.06 204.13,183.29 203.69,179.07 203.25,174.49 202.82,169.65 202.38,164.68 201.94,159.69 201.51,154.82 201.07,150.21 200.63,145.97 200.20,142.21 199.76,139.01 199.32,136.40 198.89,134.40 198.45,132.98 198.01,132.07 197.58,131.57 197.14,131.36 196.70,131.29 196.27,131.22 195.83,131.03 195.39,130.59 194.96,129.81 194.52,128.67 194.08,127.15 193.65,125.30 193.21,123.22 192.77,121.03 192.34,118.90 191.90,116.99 191.46,115.48 191.03,114.54 190.59,114.32 190.15,114.91 189.72,116.39 189.28,118.77 188.84,122.02 188.41,126.06 187.97,130.78 187.53,136.02 187.10,141.61 186.66,147.37 186.22,153.10 185.78,158.65 185.35,163.85 184.91,168.59 184.47,172.76 184.04,176.32 183.60,179.23 183.16,181.51 182.73,183.19 182.29,184.35 181.85,185.07 181.42,185.44 180.98,185.57 180.54,185.55 180.11,185.50 179.67,185.49 179.23,185.60 178.80,185.88 178.36,186.38 177.92,187.12 177.49,188.08 177.05,189.27 176.61,190.65 176.18,192.17 175.74,193.80 175.30,195.47 174.87,197.13 174.43,198.73 173.99,200.21 173.56,201.52 173.12,202.64 172.68,203.51 172.25,204.12 171.81,204.44 171.37,204.46 170.94,204.18 170.50,203.59 170.06,202.71 169.63,201.54 169.19,200.13 168.75,198.49 168.32,196.68 167.88,194.74 167.44,192.74 167.01,190.73 166.57,188.78 166.13,186.97 165.70,185.35 165.26,183.99 164.82,182.92 164.39,182.21 163.95,181.85 163.51,181.87 163.07,182.26 162.64,182.99 162.20,184.02 161.76,185.31 161.33,186.79 160.89,188.40 160.45,190.09 160.02,191.79 159.58,193.44 159.14,195.01 158.71,196.45 158.27,197.74 157.83,198.88 157.40,199.85 156.96,200.68 156.52,201.37 156.09,201.96 155.65,202.45 155.21,202.90 154.78,203.30 154.34,203.70 153.90,204.11 153.47,204.53 153.03,204.99 152.59,205.47 152.16,205.99 151.72,206.53 151.28,207.08 150.85,207.65 150.41,208.20 149.97,208.75 149.54,209.27 149.10,209.75 148.66,210.20 148.23,210.61 147.79,210.97 147.35,211.28 146.92,211.55 146.48,211.78 146.04,211.97 145.61,212.12 145.17,212.25 144.73,212.35 144.30,212.43 143.86,212.49 143.42,212.53 142.99,212.57 142.99,212.57Z" clip-path="url(#c1)" fill="#1f77b4" fill-opacity="0.25" stroke="#1f77b4" stroke-width="0.95" stroke-linejoin="round"/>
<path d="M165.72,212.65v2.2M199.25,212.65v2.2M232.78,212.65v2.2M138.64,211.03h-2.2M138.64,191.38h-2.2M138.64,171.73h-2.2M138.64,152.08h-2.2M138.64,132.43h-2.2M138.64,112.78h-2.2" stroke="#000" stroke-width="0.6" fill="none"/>
</g>
<g>
<polyline points="259.9,208 270.9,194.1 288.2,172.2 301.3,155.7 273.6,114.1 300.2,119.1 326.4,124 311.5,142.8" fill="none" stroke="none" marker-start="url(#d)" marker-mid="url(#d)" marker-end="url(#d)"/>
<path d="M245.38,109.40V212.65H340.98" fill="none" stroke="#000" stroke-width="0.507" stroke-linecap="square"/>
<path d="M261.49,212.65v2.2M284.67,212.65v2.2M307.86,212.65v2.2M331.04,212.65v2.2M245.38,211.03h-2.2M245.38,191.38h-2.2M245.38,171.73h-2.2M245.38,152.08h-2.2M245.38,132.43h-2.2M245.38,112.78h-2.2" stroke="#000" stroke-width="0.6" fill="none"/>
</g>
<g>
<polyline points="431.6,208 421.1,194.1 404.6,172.2 392.2,155.7 369.1,114.1 368.7,119.1 368.3,124 382.5,142.8" fill="none" stroke="none" marker-start="url(#d)" marker-mid="url(#d)" marker-end="url(#d)"/>
<path d="M352.12,109.40V212.65H447.72" fill="none" stroke="#000" stroke-width="0.507" stroke-linecap="square"/>
<path d="M366.76,212.65v2.2M398.46,212.65v2.2M430.17,212.65v2.2M352.12,211.03h-2.2M352.12,191.38h-2.2M352.12,171.73h-2.2M352.12,152.08h-2.2M352.12,132.43h-2.2M352.12,112.78h-2.2" stroke="#000" stroke-width="0.6" fill="none"/>
</g>
<g>
<polyline points="522.3,208 523.9,208 525.5,208 527.1,208 528.8,208 530.4,208 520.7,194.1 522.3,194.1 523.9,194.1 525.5,194.1 527.1,194.1 528.8,194.1 530.4,194.1 532,194.1 473.2,172.2 474.8,172.2 476.5,172.2 478.1,172.2 479.7,172.2 481.3,172.2 482.9,172.2 484.5,172.2 486.2,172.2 487.8,172.2 489.4,172.2 519,155.7 519.9,155.7 521.5,155.7 522.3,155.7 523.1,155.7 524.7,155.7 525.5,155.7 526.3,155.7 527.9,155.7 528.8,155.7 529.6,155.7 531.2,155.7 532,155.7 520.7,155.7 523.9,155.7 527.1,155.7 530.4,155.7 533.6,155.7 536.8,155.7 540.1,155.7 520.7,114.1 523.9,114.1 527.1,114.1 530.4,114.1 533.6,114.1 520.7,119.1 523.9,119.1 527.1,119.1 530.4,119.1 533.6,119.1 536.8,119.1 540.1,119.1 523.9,124 527.1,124 530.4,124 533.6,124 520.7,142.8 522.3,142.8 523.9,142.8 525.5,142.8 527.1,142.8 528.8,142.8 530.4,142.8 532,142.8 533.6,142.8 535.2,142.8 536.8,142.8 540.1,142.8" fill="none" stroke="none" marker-start="url(#d)" marker-mid="url(#d)" marker-end="url(#d)"/>
<path d="M458.86,109.40V212.65H554.46" fill="none" stroke="#000" stroke-width="0.507" stroke-linecap="square"/>
<path d="M473.22,212.65v2.2M505.59,212.65v2.2M537.96,212.65v2.2M458.86,211.03h-2.2M458.86,191.38h-2.2M458.86,171.73h-2.2M458.86,152.08h-2.2M458.86,132.43h-2.2M458.86,112.78h-2.2" stroke="#000" stroke-width="0.6" fill="none"/>
</g>
<g>
<polyline points="581,208 581.4,208 581.9,208 582.4,208 582.9,208 583.4,208 581,194.1 581.1,194.1 581.3,194.1 581.4,194.1 581.6,194.1 581.8,194.1 582.2,194.1 582.6,194.1 583,194.1 583.4,194.1 584.2,194.1 585.1,194.1 585.9,194.1 586.7,194.1 587.5,194.1 588.4,194.1 589.2,194.1 590.8,194.1 629.3,172.2 631,172.2 632.6,172.2 634.3,172.2 635.9,172.2 637.6,172.2 639.2,172.2 640.9,172.2 642.5,172.2 644.2,172.2 645.8,172.2 600.8,155.7 604.1,155.7 607.4,155.7 610.7,155.7 614,155.7 592.5,155.7 594.1,155.7 595.8,155.7 597.4,155.7 581,155.7 581.3,155.7 581.6,155.7 581.9,155.7 582.3,155.7 582.6,155.7 583.4,155.7 584.2,155.7 585.1,155.7 585.9,155.7 586.7,155.7 587.5,155.7 588.4,155.7 589.2,155.7 590,155.7 590.8,155.7 581,114.1 581.8,114.1 582.6,114.1 583.4,114.1 585.1,114.1 586.7,114.1 587.5,119.1 588.4,119.1 589.2,119.1 590,119.1 590.8,119.1 581,119.1 581.3,119.1 581.6,119.1 581.9,119.1 582.3,119.1 582.6,119.1 583.4,119.1 584.2,119.1 585.1,119.1 585.9,119.1 586.7,119.1 581,124 581.8,124 582.6,124 583.4,124 584.2,124 585.1,124 586.7,124 592.5,142.8 594.1,142.8 595.8,142.8 597.4,142.8 581,142.8 581.8,142.8 582.6,142.8 584.2,142.8 585.9,142.8 587.5,142.8 589.2,142.8 590.8,142.8" fill="none" stroke="none" marker-start="url(#d)" marker-mid="url(#d)" marker-end="url(#d)"/>
<path d="M565.60,109.40V212.65H661.20" fill="none" stroke="#000" stroke-width="0.507" stroke-linecap="square"/>
<path d="M580.94,212.65v2.2M613.96,212.65v2.2M646.97,212.65v2.2M565.60,211.03h-2.2M565.60,191.38h-2.2M565.60,171.73h-2.2M565.60,152.08h-2.2M565.60,132.43h-2.2M565.60,112.78h-2.2" stroke="#000" stroke-width="0.6" fill="none"/>
</g>
<g>
<polyline points="729,208 730,208 731.1,208 732.1,208 733.1,208 734.1,208 724.2,208 725.3,208 726.4,208 727.5,208 728.6,208 729.6,208 719.4,208 720.6,208 721.8,208 722.9,208 724.1,208 725.2,208 714.7,208 715.9,208 717.2,208 718.4,208 719.6,208 720.8,208 709.9,208 711.3,208 712.6,208 713.9,208 715.2,208 716.4,208 705.1,208 706.6,208 708.1,208 709.5,208 710.8,208 712.2,208 729,194.1 729.9,194.1 730.2,194.1 730.5,194.1 732.1,194.1 733.5,194.1 735,194.1 736.3,194.1 737.7,194.1 739,194.1 740.2,194.1 741.5,194.1 742.6,194.1 744.9,194.1 726,194.1 726.4,194.1 726.7,194.1 727.5,194.1 728.3,194.1 729.1,194.1 729.8,194.1 731.3,194.1 732.7,194.1 734.1,194.1 735.5,194.1 736.8,194.1 738.1,194.1 739.3,194.1 741.7,194.1 721.2,194.1 721.5,194.1 721.8,194.1 722.9,194.1 724.5,194.1 725.4,194.1 726.2,194.1 727.7,194.1 729.2,194.1 730.6,194.1 732,194.1 733.4,194.1 734.7,194.1 736,194.1 738.4,194.1 717.2,194.1 717.6,194.1 718.3,194.1 718.7,194.1 719.1,194.1 719.9,194.1 720.8,194.1 721.7,194.1 722.5,194.1 724.1,194.1 725.7,194.1 727.2,194.1 728.7,194.1 730.1,194.1 731.4,194.1 732.8,194.1 735.3,194.1 713.3,194.1 714.1,194.1 714.5,194.1 714.9,194.1 715.2,194.1 716.2,194.1 718,194.1 722.2,194.1 723.8,194.1 725.3,194.1 726.8,194.1 728.2,194.1 729.6,194.1 732.2,194.1 709.4,194.1 710.2,194.1 710.6,194.1 711.1,194.1 711.5,194.1 712.5,194.1 713.4,194.1 714.4,194.1 715.3,194.1 717.1,194.1 718.9,194.1 720.5,194.1 723.6,194.1 725.1,194.1 726.6,194.1 729.3,194.1 705.5,194.1 705.9,194.1 706.4,194.1 706.8,194.1 707.7,194.1 708.8,194.1 709.8,194.1 710.8,194.1 711.8,194.1 713.7,194.1 715.5,194.1 717.3,194.1 719,194.1 720.6,194.1 722.1,194.1 723.7,194.1 726.5,194.1 701.6,194.1 702,194.1 702.5,194.1 703,194.1 703.5,194.1 704,194.1 705.1,194.1 706.2,194.1 707.3,194.1 708.4,194.1 710.4,194.1 712.3,194.1 714.2,194.1 716,194.1 717.7,194.1 719.3,194.1 720.9,194.1 723.9,194.1 728.1,172.2 730.9,172.2 733.6,172.2 736.1,172.2 738.5,172.2 742.9,172.2 745,172.2 746.9,172.2 748.8,172.2 750.6,172.2 724.3,172.2 727.3,172.2 730.1,172.2 732.7,172.2 735.2,172.2 737.5,172.2 739.7,172.2 743.8,172.2 745.8,172.2 747.6,172.2 720.6,172.2 723.7,172.2 726.6,172.2 729.3,172.2 734.3,172.2 736.5,172.2 738.7,172.2 740.8,172.2 742.8,172.2 744.7,172.2 716.8,172.2 720.1,172.2 723.1,172.2 728.6,172.2 731.1,172.2 733.4,172.2 735.7,172.2 737.8,172.2 739.9,172.2 741.8,172.2 719.7,172.2 725.4,172.2 728,172.2 730.4,172.2 732.8,172.2 735,172.2 737.1,172.2 739.1,172.2 709.3,172.2 722.3,172.2 725,172.2 729.9,172.2 732.2,172.2 734.4,172.2 736.4,172.2 705.6,172.2 709.4,172.2 712.9,172.2 716.2,172.2 727.2,172.2 729.5,172.2 731.8,172.2 733.9,172.2 701.8,172.2 705.9,172.2 709.7,172.2 713.1,172.2 716.3,172.2 719.2,172.2 722,172.2 724.6,172.2 727,172.2 731.6,172.2 698.1,172.2 702.5,172.2 706.5,172.2 710.1,172.2 713.5,172.2 716.5,172.2 719.4,172.2 722.1,172.2 724.7,172.2 727.1,172.2 729.4,172.2 694.3,172.2 699.1,172.2 703.4,172.2 707.3,172.2 710.8,172.2 714.1,172.2 717.1,172.2 719.9,172.2 722.6,172.2 725.1,172.2 727.5,172.2 690.6,172.2 695.8,172.2 700.4,172.2 704.6,172.2 708.3,172.2 711.8,172.2 715,172.2 718,172.2 720.8,172.2 723.4,172.2 725.9,172.2 732.4,155.7 733,155.7 734.2,155.7 735.5,155.7 739.1,155.7 740.2,155.7 741.3,155.7 742.4,155.7 743.4,155.7 744.4,155.7 730.7,155.7 732.6,155.7 733.9,155.7 735.1,155.7 736.3,155.7 739.8,155.7 740.9,155.7 743,155.7 729.6,155.7 730.9,155.7 733.5,155.7 735.9,155.7 738.2,155.7 739.3,155.7 740.4,155.7 741.5,155.7 726.8,155.7 727.3,155.7 731.9,155.7 735.6,155.7 736.7,155.7 737.8,155.7 740,155.7 726.2,155.7 730.3,155.7 731.6,155.7 732.8,155.7 734,155.7 735.2,155.7 736.4,155.7 737.5,155.7 738.6,155.7 721.5,155.7 722.1,155.7 723.4,155.7 724.5,155.7 726,155.7 727.4,155.7 728.7,155.7 731.3,155.7 733.7,155.7 734.9,155.7 736,155.7 737.1,155.7 719.8,155.7 720.4,155.7 721.7,155.7 722.9,155.7 724.3,155.7 725.8,155.7 727.1,155.7 728.5,155.7 729.8,155.7 731,155.7 733.4,155.7 734.6,155.7 735.7,155.7 718.7,155.7 719.3,155.7 724.2,155.7 725.6,155.7 726.9,155.7 728.2,155.7 729.5,155.7 730.8,155.7 732,155.7 733.2,155.7 734.3,155.7 718.9,155.7 721.1,155.7 724,155.7 725.4,155.7 726.7,155.7 728.1,155.7 729.3,155.7 730.5,155.7 731.7,155.7 732.9,155.7 715.9,155.7 717.2,155.7 722.5,155.7 725.3,155.7 726.6,155.7 727.9,155.7 729.1,155.7 730.4,155.7 731.5,155.7 714.2,155.7 715.6,155.7 716.2,155.7 725.2,155.7 726.5,155.7 727.7,155.7 729,155.7 730.2,155.7 712.5,155.7 713.2,155.7 713.9,155.7 714.6,155.7 726.4,155.7 728.9,155.7 710.8,155.7 712.3,155.7 714.7,155.7 716.3,155.7 717.9,155.7 719.4,155.7 722.3,155.7 707.6,155.7 708.3,155.7 709.9,155.7 710.6,155.7 711.3,155.7 713.1,155.7 716.4,155.7 718,155.7 719.5,155.7 720.9,155.7 723.7,155.7 725,155.7 726.3,155.7 705.8,155.7 706.6,155.7 709,155.7 709.7,155.7 711.5,155.7 713.3,155.7 714.9,155.7 716.6,155.7 718.1,155.7 719.6,155.7 721,155.7 722.4,155.7 723.8,155.7 725.1,155.7 704.1,155.7 707.3,155.7 708.1,155.7 710,155.7 711.8,155.7 713.5,155.7 715.2,155.7 716.7,155.7 718.3,155.7 719.7,155.7 721.2,155.7 722.6,155.7 723.9,155.7 702.4,155.7 703.2,155.7 704,155.7 704.9,155.7 705.7,155.7 706.5,155.7 708.4,155.7 710.3,155.7 712.1,155.7 713.8,155.7 715.4,155.7 717,155.7 718.5,155.7 721.4,155.7 722.7,155.7 743.5,155.7 745.5,155.7 747.3,155.7 749.1,155.7 737.9,155.7 739.9,155.7 741.9,155.7 743.8,155.7 747.4,155.7 750.7,155.7 753.8,155.7 732.5,155.7 734.7,155.7 736.8,155.7 738.9,155.7 742.6,155.7 746.1,155.7 749.4,155.7 752.5,155.7 755.4,155.7 727.6,155.7 730,155.7 732.2,155.7 734.4,155.7 738.4,155.7 742.1,155.7 745.6,155.7 748.8,155.7 751.8,155.7 698.9,155.7 699.8,155.7 700.7,155.7 701.6,155.7 703.4,155.7 705.4,155.7 707.4,155.7 709.3,155.7 712.8,155.7 714.5,155.7 716.1,155.7 717.6,155.7 719.1,155.7 720.6,155.7 723.3,155.7 725.9,155.7 728.3,155.7 730.6,155.7 691.9,155.7 693,155.7 694.1,155.7 695.2,155.7 696.2,155.7 697.3,155.7 699.7,155.7 702,155.7 704.2,155.7 706.3,155.7 708.2,155.7 710.1,155.7 711.9,155.7 713.7,155.7 715.3,155.7 716.9,155.7 720,155.7 722.8,155.7 725.5,155.7 728,155.7 684.9,155.7 686.3,155.7 687.7,155.7 689.1,155.7 690.4,155.7 691.7,155.7 694.7,155.7 697.5,155.7 700.1,155.7 702.5,155.7 704.8,155.7 707,155.7 709.1,155.7 711.1,155.7 713,155.7 714.8,155.7 736,114.1 737.4,114.1 738.7,114.1 740,114.1 742.5,114.1 744.8,114.1 730.2,114.1 731.7,114.1 733.1,114.1 734.5,114.1 737.2,114.1 739.7,114.1 724.4,114.1 726,114.1 727.6,114.1 729.2,114.1 732.1,114.1 734.8,114.1 718.6,114.1 720.4,114.1 722.2,114.1 723.9,114.1 727.1,114.1 730.1,114.1 712.7,114.1 714.8,114.1 716.9,114.1 718.8,114.1 722.4,114.1 725.7,114.1 730.3,119.1 730.8,119.1 731.4,119.1 732.4,119.1 732.9,119.1 734.2,119.1 737.8,119.1 738.9,119.1 740.1,119.1 741.1,119.1 742.2,119.1 743.2,119.1 744.2,119.1 723.8,119.1 724.3,119.1 724.9,119.1 725.5,119.1 726.6,119.1 728,119.1 729.3,119.1 730.6,119.1 731.9,119.1 733.1,119.1 734.3,119.1 735.4,119.1 736.6,119.1 737.7,119.1 738.7,119.1 717.2,119.1 717.8,119.1 718.5,119.1 719.1,119.1 719.7,119.1 720.4,119.1 726.1,119.1 727.4,119.1 728.7,119.1 729.9,119.1 731.1,119.1 732.3,119.1 733.5,119.1 710.7,119.1 711.4,119.1 712.8,119.1 714.2,119.1 715.9,119.1 717.5,119.1 719,119.1 720.5,119.1 721.9,119.1 723.3,119.1 724.7,119.1 726,119.1 727.3,119.1 728.5,119.1 704.1,119.1 704.9,119.1 705.7,119.1 707.3,119.1 708.1,119.1 710,119.1 711.8,119.1 713.5,119.1 715.2,119.1 716.8,119.1 718.3,119.1 719.8,119.1 721.3,119.1 722.6,119.1 724,119.1 697.5,119.1 698.5,119.1 699.5,119.1 700.4,119.1 701.3,119.1 702.3,119.1 704.4,119.1 706.5,119.1 708.5,119.1 710.3,119.1 712.1,119.1 713.9,119.1 715.5,119.1 717.1,119.1 718.6,119.1 720.1,119.1 691,119.1 692.2,119.1 693.3,119.1 694.5,119.1 695.6,119.1 696.7,119.1 699.3,119.1 701.7,119.1 704,119.1 706.2,119.1 708.3,119.1 721,124 722.4,124 723.8,124 725.2,124 726.5,124 727.8,124 730.3,124 716.3,124 717.8,124 719.3,124 720.8,124 722.2,124 724.8,124 708.4,124 710.1,124 711.9,124 713.5,124 715.1,124 716.7,124 719.6,124 702,124 704.1,124 706.1,124 707.9,124 709.7,124 711.4,124 714.7,124 725.9,142.8 730.5,142.8 734.7,142.8 736.7,142.8 738.5,142.8 740.3,142.8 742,142.8 743.7,142.8 745.3,142.8 722.5,142.8 725,142.8 727.3,142.8 729.6,142.8 731.7,142.8 733.7,142.8 735.6,142.8 737.4,142.8 739.2,142.8 740.9,142.8 742.5,142.8 719.2,142.8 721.7,142.8 726.5,142.8 728.6,142.8 730.7,142.8 734.6,142.8 736.4,142.8 738.1,142.8 739.8,142.8 715.9,142.8 721,142.8 723.4,142.8 725.6,142.8 727.8,142.8 729.8,142.8 731.8,142.8 733.6,142.8 735.4,142.8 737.1,142.8 712.5,142.8 715.3,142.8 717.9,142.8 720.4,142.8 727,142.8 729,142.8 730.9,142.8 732.7,142.8 734.5,142.8 709.2,142.8 712.1,142.8 714.8,142.8 717.4,142.8 719.8,142.8 722.1,142.8 724.2,142.8 726.3,142.8 728.3,142.8 730.2,142.8 732,142.8 711.7,142.8 714.4,142.8 716.9,142.8 719.3,142.8 721.5,142.8 723.7,142.8 725.7,142.8 727.6,142.8 729.5,142.8 711.5,142.8 716.6,142.8 718.9,142.8 721.1,142.8 723.2,142.8 725.2,142.8 727.1,142.8 699.1,142.8 702.5,142.8 705.7,142.8 708.6,142.8 722.9,142.8 724.9,142.8 695.8,142.8 699.4,142.8 702.7,142.8 705.8,142.8 708.7,142.8 711.4,142.8 713.9,142.8 716.3,142.8 718.5,142.8 720.7,142.8 722.7,142.8 692.4,142.8 696.3,142.8 699.9,142.8 703.1,142.8 706.1,142.8 708.9,142.8 711.6,142.8 714.1,142.8 716.4,142.8 718.6,142.8 720.8,142.8 685.7,142.8 688,142.8 690.3,142.8 694.3,142.8 698,142.8 701.4,142.8 704.5,142.8 707.4,142.8" fill="none" stroke="none" marker-start="url(#d)" marker-mid="url(#d)" marker-end="url(#d)"/>
<path d="M672.34,109.40V212.65H767.94" fill="none" stroke="#000" stroke-width="0.507" stroke-linecap="square"/>
<path d="M677.32,212.65v2.2M699.40,212.65v2.2M721.48,212.65v2.2M743.55,212.65v2.2M765.63,212.65v2.2M672.34,211.03h-2.2M672.34,191.38h-2.2M672.34,171.73h-2.2M672.34,152.08h-2.2M672.34,132.43h-2.2M672.34,112.78h-2.2" stroke="#000" stroke-width="0.6" fill="none"/>
</g>
<g>
<polyline points="48.7,316.8 54.4,301.3 65.6,276.8 76.9,258.3 109,297.4 109.9,259.9 110.7,222.9 88.1,244" fill="none" stroke="none" marker-start="url(#d)" marker-mid="url(#d)" marker-end="url(#d)"/>
<path d="M31.90,218.20V321.45H127.50" fill="none" stroke="#000" stroke-width="0.507" stroke-linecap="square"/>
<path d="M45.43,321.45v2.2M65.50,321.45v2.2M85.56,321.45v2.2M105.63,321.45v2.2M125.69,321.45v2.2M31.90,321.07h-2.2M31.90,307.99h-2.2M31.90,294.91h-2.2M31.90,281.83h-2.2M31.90,268.75h-2.2M31.90,255.66h-2.2M31.90,242.58h-2.2M31.90,229.50h-2.2" stroke="#000" stroke-width="0.6" fill="none"/>
<text x="27.50" y="323.38" text-anchor="end">0.114</text>
<text x="27.50" y="310.30" text-anchor="end">0.116</text>
<text x="27.50" y="297.22" text-anchor="end">0.118</text>
<text x="27.50" y="284.14" text-anchor="end">0.120</text>
<text x="27.50" y="271.06" text-anchor="end">0.122</text>
<text x="27.50" y="257.97" text-anchor="end">0.124</text>
<text x="27.50" y="244.89" text-anchor="end">0.126</text>
<text x="27.50" y="231.81" text-anchor="end">0.128</text>
<text transform="translate(5.36,269.82) rotate(-90)" text-anchor="middle">% Hydrogen (H)</text>
</g>
<g>
<polyline points="154.4,316.8 163.9,301.3 178.8,276.8 190.1,258.3 218.5,297.4 215.1,259.9 211.7,222.9 198.9,244" fill="none" stroke="none" marker-start="url(#d)" marker-mid="url(#d)" marker-end="url(#d)"/>
<path d="M138.64,218.20V321.45H234.24" fill="none" stroke="#000" stroke-width="0.507" stroke-linecap="square"/>
<path d="M165.72,321.45v2.2M199.25,321.45v2.2M232.78,321.45v2.2M138.64,321.07h-2.2M138.64,307.99h-2.2M138.64,294.91h-2.2M138.64,281.83h-2.2M138.64,268.75h-2.2M138.64,255.66h-2.2M138.64,242.58h-2.2M138.64,229.50h-2.2" stroke="#000" stroke-width="0.6" fill="none"/>
</g>
<g>
<path d="M245.38,218.20V321.45H340.98" fill="none" stroke="#000" stroke-width="0.507" stroke-linecap="square"/>
<clipPath id="c2"><rect x="245.38" y="218.20" width="95.6" height="103.25"/></clipPath>
<path d="M249.73,321.39 249.73,321.45 250.16,321.45 250.60,321.45 251.04,321.45 251.47,321.45 251.91,321.45 252.35,321.45 252.78,321.45 253.22,321.45 253.66,321.45 254.09,321.45 254.53,321.45 254.97,321.45 255.40,321.45 255.84,321.45 256.28,321.45 256.71,321.45 257.15,321.45 257.59,321.45 258.02,321.45 258.46,321.45 258.90,321.45 259.33,321.45 259.77,321.45 260.21,321.45 260.64,321.45 261.08,321.45 261.52,321.45 261.95,321.45 262.39,321.45 262.83,321.45 263.26,321.45 263.70,321.45 264.14,321.45 264.57,321.45 265.01,321.45 265.45,321.45 265.88,321.45 266.32,321.45 266.76,321.45 267.19,321.45 267.63,321.45 268.07,321.45 268.50,321.45 268.94,321.45 269.38,321.45 269.81,321.45 270.25,321.45 270.69,321.45 271.13,321.45 271.56,321.45 272.00,321.45 272.44,321.45 272.87,321.45 273.31,321.45 273.75,321.45 274.18,321.45 274.62,321.45 275.06,321.45 275.49,321.45 275.93,321.45 276.37,321.45 276.80,321.45 277.24,321.45 277.68,321.45 278.11,321.45 278.55,321.45 278.99,321.45 279.42,321.45 279.86,321.45 280.30,321.45 280.73,321.45 281.17,321.45 281.61,321.45 282.04,321.45 282.48,321.45 282.92,321.45 283.35,321.45 283.79,321.45 284.23,321.45 284.66,321.45 285.10,321.45 285.54,321.45 285.97,321.45 286.41,321.45 286.85,321.45 287.28,321.45 287.72,321.45 288.16,321.45 288.59,321.45 289.03,321.45 289.47,321.45 289.90,321.45 290.34,321.45 290.78,321.45 291.21,321.45 291.65,321.45 292.09,321.45 292.52,321.45 292.96,321.45 293.40,321.45 293.84,321.45 294.27,321.45 294.71,321.45 295.15,321.45 295.58,321.45 296.02,321.45 296.46,321.45 296.89,321.45 297.33,321.45 297.77,321.45 298.20,321.45 298.64,321.45 299.08,321.45 299.51,321.45 299.95,321.45 300.39,321.45 300.82,321.45 301.26,321.45 301.70,321.45 302.13,321.45 302.57,321.45 303.01,321.45 303.44,321.45 303.88,321.45 304.32,321.45 304.75,321.45 305.19,321.45 305.63,321.45 306.06,321.45 306.50,321.45 306.94,321.45 307.37,321.45 307.81,321.45 308.25,321.45 308.68,321.45 309.12,321.45 309.56,321.45 309.99,321.45 310.43,321.45 310.87,321.45 311.30,321.45 311.74,321.45 312.18,321.45 312.61,321.45 313.05,321.45 313.49,321.45 313.92,321.45 314.36,321.45 314.80,321.45 315.23,321.45 315.67,321.45 316.11,321.45 316.55,321.45 316.98,321.45 317.42,321.45 317.86,321.45 318.29,321.45 318.73,321.45 319.17,321.45 319.60,321.45 320.04,321.45 320.48,321.45 320.91,321.45 321.35,321.45 321.79,321.45 322.22,321.45 322.66,321.45 323.10,321.45 323.53,321.45 323.97,321.45 324.41,321.45 324.84,321.45 325.28,321.45 325.72,321.45 326.15,321.45 326.59,321.45 327.03,321.45 327.46,321.45 327.90,321.45 328.34,321.45 328.77,321.45 329.21,321.45 329.65,321.45 330.08,321.45 330.52,321.45 330.96,321.45 331.39,321.45 331.83,321.45 332.27,321.45 332.70,321.45 333.14,321.45 333.58,321.45 334.01,321.45 334.45,321.45 334.89,321.45 335.32,321.45 335.76,321.45 336.20,321.45 336.63,321.45 336.63,321.40 336.63,321.40 336.20,321.38 335.76,321.35 335.32,321.31 334.89,321.26 334.45,321.18 334.01,321.09 333.58,320.98 333.14,320.84 332.70,320.67 332.27,320.47 331.83,320.24 331.39,319.97 330.96,319.68 330.52,319.37 330.08,319.04 329.65,318.71 329.21,318.39 328.77,318.08 328.34,317.79 327.90,317.56 327.46,317.37 327.03,317.24 326.59,317.18 326.15,317.20 325.72,317.27 325.28,317.42 324.84,317.61 324.41,317.85 323.97,318.12 323.53,318.40 323.10,318.67 322.66,318.92 322.22,319.12 321.79,319.25 321.35,319.29 320.91,319.19 320.48,318.95 320.04,318.51 319.60,317.85 319.17,316.92 318.73,315.69 318.29,314.13 317.86,312.20 317.42,309.88 316.98,307.17 316.55,304.07 316.11,300.63 315.67,296.90 315.23,292.96 314.80,288.92 314.36,284.91 313.92,281.07 313.49,277.54 313.05,274.47 312.61,271.97 312.18,270.15 311.74,269.06 311.30,268.71 310.87,269.08 310.43,270.07 309.99,271.56 309.56,273.37 309.12,275.30 308.68,277.12 308.25,278.62 307.81,279.57 307.37,279.79 306.94,279.13 306.50,277.47 306.06,274.79 305.63,271.11 305.19,266.51 304.75,261.16 304.32,255.28 303.88,249.12 303.44,242.99 303.01,237.20 302.57,232.07 302.13,227.89 301.70,224.89 301.26,223.26 300.82,223.12 300.39,224.49 299.95,227.33 299.51,231.51 299.08,236.85 298.64,243.11 298.20,250.03 297.77,257.33 297.33,264.72 296.89,271.96 296.46,278.82 296.02,285.13 295.58,290.75 295.15,295.59 294.71,299.61 294.27,302.81 293.84,305.20 293.40,306.86 292.96,307.85 292.52,308.27 292.09,308.21 291.65,307.79 291.21,307.10 290.78,306.27 290.34,305.38 289.90,304.53 289.47,303.81 289.03,303.26 288.59,302.96 288.16,302.92 287.72,303.17 287.28,303.69 286.85,304.48 286.41,305.49 285.97,306.69 285.54,308.01 285.10,309.41 284.66,310.84 284.23,312.24 283.79,313.58 283.35,314.81 282.92,315.91 282.48,316.86 282.04,317.65 281.61,318.28 281.17,318.73 280.73,319.01 280.30,319.11 279.86,319.05 279.42,318.81 278.99,318.39 278.55,317.80 278.11,317.02 277.68,316.06 277.24,314.91 276.80,313.58 276.37,312.09 275.93,310.46 275.49,308.70 275.06,306.87 274.62,305.01 274.18,303.18 273.75,301.43 273.31,299.83 272.87,298.45 272.44,297.34 272.00,296.55 271.56,296.11 271.13,296.06 270.69,296.38 270.25,297.07 269.81,298.10 269.38,299.41 268.94,300.96 268.50,302.66 268.07,304.46 267.63,306.28 267.19,308.05 266.76,309.72 266.32,311.24 265.88,312.58 265.45,313.71 265.01,314.62 264.57,315.32 264.14,315.81 263.70,316.13 263.26,316.29 262.83,316.33 262.39,316.28 261.95,316.18 261.52,316.06 261.08,315.94 260.64,315.86 260.21,315.83 259.77,315.87 259.33,315.98 258.90,316.16 258.46,316.42 258.02,316.73 257.59,317.10 257.15,317.50 256.71,317.93 256.28,318.36 255.84,318.78 255.40,319.18 254.97,319.55 254.53,319.89 254.09,320.19 253.66,320.45 253.22,320.66 252.78,320.84 252.35,320.99 251.91,321.11 251.47,321.20 251.04,321.27 250.60,321.32 250.16,321.36 249.73,321.39 249.73,321.39Z" clip-path="url(#c2)" fill="#1f77b4" fill-opacity="0.25" stroke="#1f77b4" stroke-width="0.95" stroke-linejoin="round"/>
<path d="M261.49,321.45v2.2M284.67,321.45v2.2M307.86,321.45v2.2M331.04,321.45v2.2M245.38,321.07h-2.2M245.38,307.99h-2.2M245.38,294.91h-2.2M245.38,281.83h-2.2M245.38,268.75h-2.2M245.38,255.66h-2.2M245.38,242.58h-2.2M245.38,229.50h-2.2" stroke="#000" stroke-width="0.6" fill="none"/>
</g>
<g>
<polyline points="431.6,316.8 421.1,301.3 404.6,276.8 392.2,258.3 369.1,297.4 368.7,259.9 368.3,222.9 382.5,244" fill="none" stroke="none" marker-start="url(#d)" marker-mid="url(#d)" marker-end="url(#d)"/>
<path d="M352.12,218.20V321.45H447.72" fill="none" stroke="#000" stroke-width="0.507" stroke-linecap="square"/>
<path d="M366.76,321.45v2.2M398.46,321.45v2.2M430.17,321.45v2.2M352.12,321.07h-2.2M352.12,307.99h-2.2M352.12,294.91h-2.2M352.12,281.83h-2.2M352.12,268.75h-2.2M352.12,255.66h-2.2M352.12,242.58h-2.2M352.12,229.50h-2.2" stroke="#000" stroke-width="0.6" fill="none"/>
</g>
<g>
<polyline points="522.3,316.8 523.9,316.8 525.5,316.8 527.1,316.8 528.8,316.8 530.4,316.8 520.7,301.3 522.3,301.3 523.9,301.3 525.5,301.3 527.1,301.3 528.8,301.3 530.4,301.3 532,301.3 473.2,276.8 474.8,276.8 476.5,276.8 478.1,276.8 479.7,276.8 481.3,276.8 482.9,276.8 484.5,276.8 486.2,276.8 487.8,276.8 489.4,276.8 519,258.3 519.9,258.3 521.5,258.3 522.3,258.3 523.1,258.3 524.7,258.3 525.5,258.3 526.3,258.3 527.9,258.3 528.8,258.3 529.6,258.3 531.2,258.3 532,258.3 520.7,258.3 523.9,258.3 527.1,258.3 530.4,258.3 533.6,258.3 536.8,258.3 540.1,258.3 520.7,297.4 523.9,297.4 527.1,297.4 530.4,297.4 533.6,297.4 520.7,259.9 523.9,259.9 527.1,259.9 530.4,259.9 533.6,259.9 536.8,259.9 540.1,259.9 523.9,222.9 527.1,222.9 530.4,222.9 533.6,222.9 520.7,244 522.3,244 523.9,244 525.5,244 527.1,244 528.8,244 530.4,244 532,244 533.6,244 535.2,244 536.8,244 540.1,244" fill="none" stroke="none" marker-start="url(#d)" marker-mid="url(#d)" marker-end="url(#d)"/>
<path d="M458.86,218.20V321.45H554.46" fill="none" stroke="#000" stroke-width="0.507" stroke-linecap="square"/>
<path d="M473.22,321.45v2.2M505.59,321.45v2.2M537.96,321.45v2.2M458.86,321.07h-2.2M458.86,307.99h-2.2M458.86,294.91h-2.2M458.86,281.83h-2.2M458.86,268.75h-2.2M458.86,255.66h-2.2M458.86,242.58h-2.2M458.86,229.50h-2.2" stroke="#000" stroke-width="0.6" fill="none"/>
</g>
<g>
<polyline points="581,316.8 581.4,316.8 581.9,316.8 582.4,316.8 582.9,316.8 583.4,316.8 581,301.3 581.1,301.3 581.3,301.3 581.4,301.3 581.6,301.3 581.8,301.3 582.2,301.3 582.6,301.3 583,301.3 583.4,301.3 584.2,301.3 585.1,301.3 585.9,301.3 586.7,301.3 587.5,301.3 588.4,301.3 589.2,301.3 590.8,301.3 629.3,276.8 631,276.8 632.6,276.8 634.3,276.8 635.9,276.8 637.6,276.8 639.2,276.8 640.9,276.8 642.5,276.8 644.2,276.8 645.8,276.8 600.8,258.3 604.1,258.3 607.4,258.3 610.7,258.3 614,258.3 592.5,258.3 594.1,258.3 595.8,258.3 597.4,258.3 581,258.3 581.3,258.3 581.6,258.3 581.9,258.3 582.3,258.3 582.6,258.3 583.4,258.3 584.2,258.3 585.1,258.3 585.9,258.3 586.7,258.3 587.5,258.3 588.4,258.3 589.2,258.3 590,258.3 590.8,258.3 581,297.4 581.8,297.4 582.6,297.4 583.4,297.4 585.1,297.4 586.7,297.4 587.5,259.9 588.4,259.9 589.2,259.9 590,259.9 590.8,259.9 581,259.9 581.3,259.9 581.6,259.9 581.9,259.9 582.3,259.9 582.6,259.9 583.4,259.9 584.2,259.9 585.1,259.9 585.9,259.9 586.7,259.9 581,222.9 581.8,222.9 582.6,222.9 583.4,222.9 584.2,222.9 585.1,222.9 586.7,222.9 592.5,244 594.1,244 595.8,244 597.4,244 581,244 581.8,244 582.6,244 584.2,244 585.9,244 587.5,244 589.2,244 590.8,244" fill="none" stroke="none" marker-start="url(#d)" marker-mid="url(#d)" marker-end="url(#d)"/>
<path d="M565.60,218.20V321.45H661.20" fill="none" stroke="#000" stroke-width="0.507" stroke-linecap="square"/>
<path d="M580.94,321.45v2.2M613.96,321.45v2.2M646.97,321.45v2.2M565.60,321.07h-2.2M565.60,307.99h-2.2M565.60,294.91h-2.2M565.60,281.83h-2.2M565.60,268.75h-2.2M565.60,255.66h-2.2M565.60,242.58h-2.2M565.60,229.50h-2.2" stroke="#000" stroke-width="0.6" fill="none"/>
</g>
<g>
<polyline points="729,316.8 730,316.8 731.1,316.8 732.1,316.8 733.1,316.8 734.1,316.8 724.2,316.8 725.3,316.8 726.4,316.8 727.5,316.8 728.6,316.8 729.6,316.8 719.4,316.8 720.6,316.8 721.8,316.8 722.9,316.8 724.1,316.8 725.2,316.8 714.7,316.8 715.9,316.8 717.2,316.8 718.4,316.8 719.6,316.8 720.8,316.8 709.9,316.8 711.3,316.8 712.6,316.8 713.9,316.8 715.2,316.8 716.4,316.8 705.1,316.8 706.6,316.8 708.1,316.8 709.5,316.8 710.8,316.8 712.2,316.8 729,301.3 729.9,301.3 730.2,301.3 730.5,301.3 732.1,301.3 733.5,301.3 735,301.3 736.3,301.3 737.7,301.3 739,301.3 740.2,301.3 741.5,301.3 742.6,301.3 744.9,301.3 726,301.3 726.4,301.3 726.7,301.3 727.5,301.3 728.3,301.3 729.1,301.3 729.8,301.3 731.3,301.3 732.7,301.3 734.1,301.3 735.5,301.3 736.8,301.3 738.1,301.3 739.3,301.3 741.7,301.3 721.2,301.3 721.5,301.3 721.8,301.3 722.9,301.3 724.5,301.3 725.4,301.3 726.2,301.3 727.7,301.3 729.2,301.3 730.6,301.3 732,301.3 733.4,301.3 734.7,301.3 736,301.3 738.4,301.3 717.2,301.3 717.6,301.3 718.3,301.3 718.7,301.3 719.1,301.3 719.9,301.3 720.8,301.3 721.7,301.3 722.5,301.3 724.1,301.3 725.7,301.3 727.2,301.3 728.7,301.3 730.1,301.3 731.4,301.3 732.8,301.3 735.3,301.3 713.3,301.3 714.1,301.3 714.5,301.3 714.9,301.3 715.2,301.3 716.2,301.3 718,301.3 722.2,301.3 723.8,301.3 725.3,301.3 726.8,301.3 728.2,301.3 729.6,301.3 732.2,301.3 709.4,301.3 710.2,301.3 710.6,301.3 711.1,301.3 711.5,301.3 712.5,301.3 713.4,301.3 714.4,301.3 715.3,301.3 717.1,301.3 718.9,301.3 720.5,301.3 723.6,301.3 725.1,301.3 726.6,301.3 729.3,301.3 705.5,301.3 705.9,301.3 706.4,301.3 706.8,301.3 707.7,301.3 708.8,301.3 709.8,301.3 710.8,301.3 711.8,301.3 713.7,301.3 715.5,301.3 717.3,301.3 719,301.3 720.6,301.3 722.1,301.3 723.7,301.3 726.5,301.3 701.6,301.3 702,301.3 702.5,301.3 703,301.3 703.5,301.3 704,301.3 705.1,301.3 706.2,301.3 707.3,301.3 708.4,301.3 710.4,301.3 712.3,301.3 714.2,301.3 716,301.3 717.7,301.3 719.3,301.3 720.9,301.3 723.9,301.3 728.1,276.8 730.9,276.8 733.6,276.8 736.1,276.8 738.5,276.8 742.9,276.8 745,276.8 746.9,276.8 748.8,276.8 750.6,276.8 724.3,276.8 727.3,276.8 730.1,276.8 732.7,276.8 735.2,276.8 737.5,276.8 739.7,276.8 743.8,276.8 745.8,276.8 747.6,276.8 720.6,276.8 723.7,276.8 726.6,276.8 729.3,276.8 734.3,276.8 736.5,276.8 738.7,276.8 740.8,276.8 742.8,276.8 744.7,276.8 716.8,276.8 720.1,276.8 723.1,276.8 728.6,276.8 731.1,276.8 733.4,276.8 735.7,276.8 737.8,276.8 739.9,276.8 741.8,276.8 719.7,276.8 725.4,276.8 728,276.8 730.4,276.8 732.8,276.8 735,276.8 737.1,276.8 739.1,276.8 709.3,276.8 722.3,276.8 725,276.8 729.9,276.8 732.2,276.8 734.4,276.8 736.4,276.8 705.6,276.8 709.4,276.8 712.9,276.8 716.2,276.8 727.2,276.8 729.5,276.8 731.8,276.8 733.9,276.8 701.8,276.8 705.9,276.8 709.7,276.8 713.1,276.8 716.3,276.8 719.2,276.8 722,276.8 724.6,276.8 727,276.8 731.6,276.8 698.1,276.8 702.5,276.8 706.5,276.8 710.1,276.8 713.5,276.8 716.5,276.8 719.4,276.8 722.1,276.8 724.7,276.8 727.1,276.8 729.4,276.8 694.3,276.8 699.1,276.8 703.4,276.8 707.3,276.8 710.8,276.8 714.1,276.8 717.1,276.8 719.9,276.8 722.6,276.8 725.1,276.8 727.5,276.8 690.6,276.8 695.8,276.8 700.4,276.8 704.6,276.8 708.3,276.8 711.8,276.8 715,276.8 718,276.8 720.8,276.8 723.4,276.8 725.9,276.8 732.4,258.3 733,258.3 734.2,258.3 735.5,258.3 739.1,258.3 740.2,258.3 741.3,258.3 742.4,258.3 743.4,258.3 744.4,258.3 730.7,258.3 732.6,258.3 733.9,258.3 735.1,258.3 736.3,258.3 739.8,258.3 740.9,258.3 743,258.3 729.6,258.3 730.9,258.3 733.5,258.3 735.9,258.3 738.2,258.3 739.3,258.3 740.4,258.3 741.5,258.3 726.8,258.3 727.3,258.3 731.9,258.3 735.6,258.3 736.7,258.3 737.8,258.3 740,258.3 726.2,258.3 730.3,258.3 731.6,258.3 732.8,258.3 734,258.3 735.2,258.3 736.4,258.3 737.5,258.3 738.6,258.3 721.5,258.3 722.1,258.3 723.4,258.3 724.5,258.3 726,258.3 727.4,258.3 728.7,258.3 731.3,258.3 733.7,258.3 734.9,258.3 736,258.3 737.1,258.3 719.8,258.3 720.4,258.3 721.7,258.3 722.9,258.3 724.3,258.3 725.8,258.3 727.1,258.3 728.5,258.3 729.8,258.3 731,258.3 733.4,258.3 734.6,258.3 735.7,258.3 718.7,258.3 719.3,258.3 724.2,258.3 725.6,258.3 726.9,258.3 728.2,258.3 729.5,258.3 730.8,258.3 732,258.3 733.2,258.3 734.3,258.3 718.9,258.3 721.1,258.3 724,258.3 725.4,258.3 726.7,258.3 728.1,258.3 729.3,258.3 730.5,258.3 731.7,258.3 732.9,258.3 715.9,258.3 717.2,258.3 722.5,258.3 725.3,258.3 726.6,258.3 727.9,258.3 729.1,258.3 730.4,258.3 731.5,258.3 714.2,258.3 715.6,258.3 716.2,258.3 725.2,258.3 726.5,258.3 727.7,258.3 729,258.3 730.2,258.3 712.5,258.3 713.2,258.3 713.9,258.3 714.6,258.3 726.4,258.3 728.9,258.3 710.8,258.3 712.3,258.3 714.7,258.3 716.3,258.3 717.9,258.3 719.4,258.3 722.3,258.3 707.6,258.3 708.3,258.3 709.9,258.3 710.6,258.3 711.3,258.3 713.1,258.3 716.4,258.3 718,258.3 719.5,258.3 720.9,258.3 723.7,258.3 725,258.3 726.3,258.3 705.8,258.3 706.6,258.3 709,258.3 709.7,258.3 711.5,258.3 713.3,258.3 714.9,258.3 716.6,258.3 718.1,258.3 719.6,258.3 721,258.3 722.4,258.3 723.8,258.3 725.1,258.3 704.1,258.3 707.3,258.3 708.1,258.3 710,258.3 711.8,258.3 713.5,258.3 715.2,258.3 716.7,258.3 718.3,258.3 719.7,258.3 721.2,258.3 722.6,258.3 723.9,258.3 702.4,258.3 703.2,258.3 704,258.3 704.9,258.3 705.7,258.3 706.5,258.3 708.4,258.3 710.3,258.3 712.1,258.3 713.8,258.3 715.4,258.3 717,258.3 718.5,258.3 721.4,258.3 722.7,258.3 743.5,258.3 745.5,258.3 747.3,258.3 749.1,258.3 737.9,258.3 739.9,258.3 741.9,258.3 743.8,258.3 747.4,258.3 750.7,258.3 753.8,258.3 732.5,258.3 734.7,258.3 736.8,258.3 738.9,258.3 742.6,258.3 746.1,258.3 749.4,258.3 752.5,258.3 755.4,258.3 727.6,258.3 730,258.3 732.2,258.3 734.4,258.3 738.4,258.3 742.1,258.3 745.6,258.3 748.8,258.3 751.8,258.3 698.9,258.3 699.8,258.3 700.7,258.3 701.6,258.3 703.4,258.3 705.4,258.3 707.4,258.3 709.3,258.3 712.8,258.3 714.5,258.3 716.1,258.3 717.6,258.3 719.1,258.3 720.6,258.3 723.3,258.3 725.9,258.3 728.3,258.3 730.6,258.3 691.9,258.3 693,258.3 694.1,258.3 695.2,258.3 696.2,258.3 697.3,258.3 699.7,258.3 702,258.3 704.2,258.3 706.3,258.3 708.2,258.3 710.1,258.3 711.9,258.3 713.7,258.3 715.3,258.3 716.9,258.3 720,258.3 722.8,258.3 725.5,258.3 728,258.3 684.9,258.3 686.3,258.3 687.7,258.3 689.1,258.3 690.4,258.3 691.7,258.3 694.7,258.3 697.5,258.3 700.1,258.3 702.5,258.3 704.8,258.3 707,258.3 709.1,258.3 711.1,258.3 713,258.3 714.8,258.3 736,297.4 737.4,297.4 738.7,297.4 740,297.4 742.5,297.4 744.8,297.4 730.2,297.4 731.7,297.4 733.1,297.4 734.5,297.4 737.2,297.4 739.7,297.4 724.4,297.4 726,297.4 727.6,297.4 729.2,297.4 732.1,297.4 734.8,297.4 718.6,297.4 720.4,297.4 722.2,297.4 723.9,297.4 727.1,297.4 730.1,297.4 712.7,297.4 714.8,297.4 716.9,297.4 718.8,297.4 722.4,297.4 725.7,297.4 730.3,259.9 730.8,259.9 731.4,259.9 732.4,259.9 732.9,259.9 734.2,259.9 737.8,259.9 738.9,259.9 740.1,259.9 741.1,259.9 742.2,259.9 743.2,259.9 744.2,259.9 723.8,259.9 724.3,259.9 724.9,259.9 725.5,259.9 726.6,259.9 728,259.9 729.3,259.9 730.6,259.9 731.9,259.9 733.1,259.9 734.3,259.9 735.4,259.9 736.6,259.9 737.7,259.9 738.7,259.9 717.2,259.9 717.8,259.9 718.5,259.9 719.1,259.9 719.7,259.9 720.4,259.9 726.1,259.9 727.4,259.9 728.7,259.9 729.9,259.9 731.1,259.9 732.3,259.9 733.5,259.9 710.7,259.9 711.4,259.9 712.8,259.9 714.2,259.9 715.9,259.9 717.5,259.9 719,259.9 720.5,259.9 721.9,259.9 723.3,259.9 724.7,259.9 726,259.9 727.3,259.9 728.5,259.9 704.1,259.9 704.9,259.9 705.7,259.9 707.3,259.9 708.1,259.9 710,259.9 711.8,259.9 713.5,259.9 715.2,259.9 716.8,259.9 718.3,259.9 719.8,259.9 721.3,259.9 722.6,259.9 724,259.9 697.5,259.9 698.5,259.9 699.5,259.9 700.4,259.9 701.3,259.9 702.3,259.9 704.4,259.9 706.5,259.9 708.5,259.9 710.3,259.9 712.1,259.9 713.9,259.9 715.5,259.9 717.1,259.9 718.6,259.9 720.1,259.9 691,259.9 692.2,259.9 693.3,259.9 694.5,259.9 695.6,259.9 696.7,259.9 699.3,259.9 701.7,259.9 704,259.9 706.2,259.9 708.3,259.9 721,222.9 722.4,222.9 723.8,222.9 725.2,222.9 726.5,222.9 727.8,222.9 730.3,222.9 716.3,222.9 717.8,222.9 719.3,222.9 720.8,222.9 722.2,222.9 724.8,222.9 708.4,222.9 710.1,222.9 711.9,222.9 713.5,222.9 715.1,222.9 716.7,222.9 719.6,222.9 702,222.9 704.1,222.9 706.1,222.9 707.9,222.9 709.7,222.9 711.4,222.9 714.7,222.9 725.9,244 730.5,244 734.7,244 736.7,244 738.5,244 740.3,244 742,244 743.7,244 745.3,244 722.5,244 725,244 727.3,244 729.6,244 731.7,244 733.7,244 735.6,244 737.4,244 739.2,244 740.9,244 742.5,244 719.2,244 721.7,244 726.5,244 728.6,244 730.7,244 734.6,244 736.4,244 738.1,244 739.8,244 715.9,244 721,244 723.4,244 725.6,244 727.8,244 729.8,244 731.8,244 733.6,244 735.4,244 737.1,244 712.5,244 715.3,244 717.9,244 720.4,244 727,244 729,244 730.9,244 732.7,244 734.5,244 709.2,244 712.1,244 714.8,244 717.4,244 719.8,244 722.1,244 724.2,244 726.3,244 728.3,244 730.2,244 732,244 711.7,244 714.4,244 716.9,244 719.3,244 721.5,244 723.7,244 725.7,244 727.6,244 729.5,244 711.5,244 716.6,244 718.9,244 721.1,244 723.2,244 725.2,244 727.1,244 699.1,244 702.5,244 705.7,244 708.6,244 722.9,244 724.9,244 695.8,244 699.4,244 702.7,244 705.8,244 708.7,244 711.4,244 713.9,244 716.3,244 718.5,244 720.7,244 722.7,244 692.4,244 696.3,244 699.9,244 703.1,244 706.1,244 708.9,244 711.6,244 714.1,244 716.4,244 718.6,244 720.8,244 685.7,244 688,244 690.3,244 694.3,244 698,244 701.4,244 704.5,244 707.4,244" fill="none" stroke="none" marker-start="url(#d)" marker-mid="url(#d)" marker-end="url(#d)"/>
<path d="M672.34,218.20V321.45H767.94" fill="none" stroke="#000" stroke-width="0.507" stroke-linecap="square"/>
<path d="M677.32,321.45v2.2M699.40,321.45v2.2M721.48,321.45v2.2M743.55,321.45v2.2M765.63,321.45v2.2M672.34,321.07h-2.2M672.34,307.99h-2.2M672.34,294.91h-2.2M672.34,281.83h-2.2M672.34,268.75h-2.2M672.34,255.66h-2.2M672.34,242.58h-2.2M672.34,229.50h-2.2" stroke="#000" stroke-width="0.6" fill="none"/>
</g>
<g>
<polyline points="48.7,331.7 54.4,347.2 65.6,371.6 76.9,390.1 109,424.3 109.9,424.9 110.7,425.6 88.1,404.5" fill="none" stroke="none" marker-start="url(#d)" marker-mid="url(#d)" marker-end="url(#d)"/>
<path d="M31.90,327.00V430.25H127.50" fill="none" stroke="#000" stroke-width="0.507" stroke-linecap="square"/>
<path d="M45.43,430.25v2.2M65.50,430.25v2.2M85.56,430.25v2.2M105.63,430.25v2.2M125.69,430.25v2.2M31.90,427.79h-2.2M31.90,408.99h-2.2M31.90,390.19h-2.2M31.90,371.38h-2.2M31.90,352.58h-2.2M31.90,333.77h-2.2" stroke="#000" stroke-width="0.6" fill="none"/>
<text x="27.50" y="430.11" text-anchor="end">0.10</text>
<text x="27.50" y="411.30" text-anchor="end">0.12</text>
<text x="27.50" y="392.50" text-anchor="end">0.14</text>
<text x="27.50" y="373.69" text-anchor="end">0.16</text>
<text x="27.50" y="354.89" text-anchor="end">0.18</text>
<text x="27.50" y="336.08" text-anchor="end">0.20</text>
<text transform="translate(9.39,378.62) rotate(-90)" text-anchor="middle">% Oxygen (O)</text>
</g>
<g>
<polyline points="154.4,331.7 163.9,347.2 178.8,371.6 190.1,390.1 218.5,424.3 215.1,424.9 211.7,425.6 198.9,404.5" fill="none" stroke="none" marker-start="url(#d)" marker-mid="url(#d)" marker-end="url(#d)"/>
<path d="M138.64,327.00V430.25H234.24" fill="none" stroke="#000" stroke-width="0.507" stroke-linecap="square"/>
<path d="M165.72,430.25v2.2M199.25,430.25v2.2M232.78,430.25v2.2M138.64,427.79h-2.2M138.64,408.99h-2.2M138.64,390.19h-2.2M138.64,371.38h-2.2M138.64,352.58h-2.2M138.64,333.77h-2.2" stroke="#000" stroke-width="0.6" fill="none"/>
</g>
<g>
<polyline points="259.9,331.7 270.9,347.2 288.2,371.6 301.3,390.1 273.6,424.3 300.2,424.9 326.4,425.6 311.5,404.5" fill="none" stroke="none" marker-start="url(#d)" marker-mid="url(#d)" marker-end="url(#d)"/>
<path d="M245.38,327.00V430.25H340.98" fill="none" stroke="#000" stroke-width="0.507" stroke-linecap="square"/>
<path d="M261.49,430.25v2.2M284.67,430.25v2.2M307.86,430.25v2.2M331.04,430.25v2.2M245.38,427.79h-2.2M245.38,408.99h-2.2M245.38,390.19h-2.2M245.38,371.38h-2.2M245.38,352.58h-2.2M245.38,333.77h-2.2" stroke="#000" stroke-width="0.6" fill="none"/>
</g>
<g>
<path d="M352.12,327.00V430.25H447.72" fill="none" stroke="#000" stroke-width="0.507" stroke-linecap="square"/>
<clipPath id="c3"><rect x="352.12" y="327.00" width="95.6" height="103.25"/></clipPath>
<path d="M356.47,429.77 356.47,430.25 356.90,430.25 357.34,430.25 357.78,430.25 358.21,430.25 358.65,430.25 359.09,430.25 359.52,430.25 359.96,430.25 360.40,430.25 360.83,430.25 361.27,430.25 361.71,430.25 362.14,430.25 362.58,430.25 363.02,430.25 363.45,430.25 363.89,430.25 364.33,430.25 364.76,430.25 365.20,430.25 365.64,430.25 366.07,430.25 366.51,430.25 366.95,430.25 367.38,430.25 367.82,430.25 368.26,430.25 368.69,430.25 369.13,430.25 369.57,430.25 370.00,430.25 370.44,430.25 370.88,430.25 371.31,430.25 371.75,430.25 372.19,430.25 372.62,430.25 373.06,430.25 373.50,430.25 373.93,430.25 374.37,430.25 374.81,430.25 375.24,430.25 375.68,430.25 376.12,430.25 376.55,430.25 376.99,430.25 377.43,430.25 377.87,430.25 378.30,430.25 378.74,430.25 379.18,430.25 379.61,430.25 380.05,430.25 380.49,430.25 380.92,430.25 381.36,430.25 381.80,430.25 382.23,430.25 382.67,430.25 383.11,430.25 383.54,430.25 383.98,430.25 384.42,430.25 384.85,430.25 385.29,430.25 385.73,430.25 386.16,430.25 386.60,430.25 387.04,430.25 387.47,430.25 387.91,430.25 388.35,430.25 388.78,430.25 389.22,430.25 389.66,430.25 390.09,430.25 390.53,430.25 390.97,430.25 391.40,430.25 391.84,430.25 392.28,430.25 392.71,430.25 393.15,430.25 393.59,430.25 394.02,430.25 394.46,430.25 394.90,430.25 395.33,430.25 395.77,430.25 396.21,430.25 396.64,430.25 397.08,430.25 397.52,430.25 397.95,430.25 398.39,430.25 398.83,430.25 399.26,430.25 399.70,430.25 400.14,430.25 400.58,430.25 401.01,430.25 401.45,430.25 401.89,430.25 402.32,430.25 402.76,430.25 403.20,430.25 403.63,430.25 404.07,430.25 404.51,430.25 404.94,430.25 405.38,430.25 405.82,430.25 406.25,430.25 406.69,430.25 407.13,430.25 407.56,430.25 408.00,430.25 408.44,430.25 408.87,430.25 409.31,430.25 409.75,430.25 410.18,430.25 410.62,430.25 411.06,430.25 411.49,430.25 411.93,430.25 412.37,430.25 412.80,430.25 413.24,430.25 413.68,430.25 414.11,430.25 414.55,430.25 414.99,430.25 415.42,430.25 415.86,430.25 416.30,430.25 416.73,430.25 417.17,430.25 417.61,430.25 418.04,430.25 418.48,430.25 418.92,430.25 419.35,430.25 419.79,430.25 420.23,430.25 420.66,430.25 421.10,430.25 421.54,430.25 421.97,430.25 422.41,430.25 422.85,430.25 423.29,430.25 423.72,430.25 424.16,430.25 424.60,430.25 425.03,430.25 425.47,430.25 425.91,430.25 426.34,430.25 426.78,430.25 427.22,430.25 427.65,430.25 428.09,430.25 428.53,430.25 428.96,430.25 429.40,430.25 429.84,430.25 430.27,430.25 430.71,430.25 431.15,430.25 431.58,430.25 432.02,430.25 432.46,430.25 432.89,430.25 433.33,430.25 433.77,430.25 434.20,430.25 434.64,430.25 435.08,430.25 435.51,430.25 435.95,430.25 436.39,430.25 436.82,430.25 437.26,430.25 437.70,430.25 438.13,430.25 438.57,430.25 439.01,430.25 439.44,430.25 439.88,430.25 440.32,430.25 440.75,430.25 441.19,430.25 441.63,430.25 442.06,430.25 442.50,430.25 442.94,430.25 443.37,430.25 443.37,430.16 443.37,430.16 442.94,430.13 442.50,430.09 442.06,430.03 441.63,429.95 441.19,429.86 440.75,429.74 440.32,429.59 439.88,429.41 439.44,429.20 439.01,428.94 438.57,428.65 438.13,428.31 437.70,427.93 437.26,427.50 436.82,427.04 436.39,426.55 435.95,426.03 435.51,425.50 435.08,424.96 434.64,424.42 434.20,423.90 433.77,423.41 433.33,422.95 432.89,422.53 432.46,422.16 432.02,421.84 431.58,421.55 431.15,421.29 430.71,421.04 430.27,420.78 429.84,420.49 429.40,420.14 428.96,419.71 428.53,419.15 428.09,418.47 427.65,417.62 427.22,416.61 426.78,415.42 426.34,414.07 425.91,412.57 425.47,410.94 425.03,409.23 424.60,407.49 424.16,405.76 423.72,404.10 423.29,402.59 422.85,401.26 422.41,400.19 421.97,399.42 421.54,398.97 421.10,398.89 420.66,399.16 420.23,399.80 419.79,400.78 419.35,402.06 418.92,403.61 418.48,405.37 418.04,407.29 417.61,409.30 417.17,411.35 416.73,413.37 416.30,415.31 415.86,417.14 415.42,418.79 414.99,420.25 414.55,421.49 414.11,422.49 413.68,423.23 413.24,423.71 412.80,423.92 412.37,423.87 411.93,423.55 411.49,422.99 411.06,422.18 410.62,421.15 410.18,419.93 409.75,418.53 409.31,416.99 408.87,415.35 408.44,413.66 408.00,411.96 407.56,410.29 407.13,408.72 406.69,407.28 406.25,406.03 405.82,404.99 405.38,404.20 404.94,403.67 404.51,403.40 404.07,403.37 403.63,403.55 403.20,403.90 402.76,404.35 402.32,404.82 401.89,405.23 401.45,405.49 401.01,405.50 400.58,405.16 400.14,404.38 399.70,403.09 399.26,401.22 398.83,398.72 398.39,395.58 397.95,391.79 397.52,387.41 397.08,382.49 396.64,377.13 396.21,371.46 395.77,365.62 395.33,359.78 394.90,354.11 394.46,348.79 394.02,343.99 393.59,339.86 393.15,336.52 392.71,334.06 392.28,332.53 391.84,331.92 391.40,332.19 390.97,333.25 390.53,334.98 390.09,337.22 389.66,339.79 389.22,342.52 388.78,345.21 388.35,347.71 387.91,349.87 387.47,351.61 387.04,352.84 386.60,353.57 386.16,353.81 385.73,353.64 385.29,353.16 384.85,352.51 384.42,351.82 383.98,351.26 383.54,350.97 383.11,351.08 382.67,351.69 382.23,352.89 381.80,354.71 381.36,357.16 380.92,360.19 380.49,363.74 380.05,367.71 379.61,371.97 379.18,376.39 378.74,380.83 378.30,385.14 377.87,389.17 377.43,392.81 376.99,395.93 376.55,398.45 376.12,400.31 375.68,401.45 375.24,401.86 374.81,401.56 374.37,400.57 373.93,398.95 373.50,396.79 373.06,394.17 372.62,391.22 372.19,388.07 371.75,384.84 371.31,381.69 370.88,378.74 370.44,376.14 370.00,373.99 369.57,372.39 369.13,371.42 368.69,371.14 368.26,371.55 367.82,372.66 367.38,374.42 366.95,376.79 366.51,379.67 366.07,382.99 365.64,386.62 365.20,390.47 364.76,394.42 364.33,398.37 363.89,402.23 363.45,405.93 363.02,409.39 362.58,412.58 362.14,415.47 361.71,418.03 361.27,420.28 360.83,422.21 360.40,423.84 359.96,425.21 359.52,426.33 359.09,427.24 358.65,427.97 358.21,428.54 357.78,428.99 357.34,429.33 356.90,429.58 356.47,429.77 356.47,429.77Z" clip-path="url(#c3)" fill="#1f77b4" fill-opacity="0.25" stroke="#1f77b4" stroke-width="0.95" stroke-linejoin="round"/>
<path d="M366.76,430.25v2.2M398.46,430.25v2.2M430.17,430.25v2.2M352.12,427.79h-2.2M352.12,408.99h-2.2M352.12,390.19h-2.2M352.12,371.38h-2.2M352.12,352.58h-2.2M352.12,333.77h-2.2" stroke="#000" stroke-width="0.6" fill="none"/>
</g>
<g>
<polyline points="522.3,331.7 523.9,331.7 525.5,331.7 527.1,331.7 528.8,331.7 530.4,331.7 520.7,347.2 522.3,347.2 523.9,347.2 525.5,347.2 527.1,347.2 528.8,347.2 530.4,347.2 532,347.2 473.2,371.6 474.8,371.6 476.5,371.6 478.1,371.6 479.7,371.6 481.3,371.6 482.9,371.6 484.5,371.6 486.2,371.6 487.8,371.6 489.4,371.6 519,390.1 519.9,390.1 521.5,390.1 522.3,390.1 523.1,390.1 524.7,390.1 525.5,390.1 526.3,390.1 527.9,390.1 528.8,390.1 529.6,390.1 531.2,390.1 532,390.1 520.7,390.1 523.9,390.1 527.1,390.1 530.4,390.1 533.6,390.1 536.8,390.1 540.1,390.1 520.7,424.3 523.9,424.3 527.1,424.3 530.4,424.3 533.6,424.3 520.7,424.9 523.9,424.9 527.1,424.9 530.4,424.9 533.6,424.9 536.8,424.9 540.1,424.9 523.9,425.6 527.1,425.6 530.4,425.6 533.6,425.6 520.7,404.5 522.3,404.5 523.9,404.5 525.5,404.5 527.1,404.5 528.8,404.5 530.4,404.5 532,404.5 533.6,404.5 535.2,404.5 536.8,404.5 540.1,404.5" fill="none" stroke="none" marker-start="url(#d)" marker-mid="url(#d)" marker-end="url(#d)"/>
<path d="M458.86,327.00V430.25H554.46" fill="none" stroke="#000" stroke-width="0.507" stroke-linecap="square"/>
<path d="M473.22,430.25v2.2M505.59,430.25v2.2M537.96,430.25v2.2M458.86,427.79h-2.2M458.86,408.99h-2.2M458.86,390.19h-2.2M458.86,371.38h-2.2M458.86,352.58h-2.2M458.86,333.77h-2.2" stroke="#000" stroke-width="0.6" fill="none"/>
</g>
<g>
<polyline points="581,331.7 581.4,331.7 581.9,331.7 582.4,331.7 582.9,331.7 583.4,331.7 581,347.2 581.1,347.2 581.3,347.2 581.4,347.2 581.6,347.2 581.8,347.2 582.2,347.2 582.6,347.2 583,347.2 583.4,347.2 584.2,347.2 585.1,347.2 585.9,347.2 586.7,347.2 587.5,347.2 588.4,347.2 589.2,347.2 590.8,347.2 629.3,371.6 631,371.6 632.6,371.6 634.3,371.6 635.9,371.6 637.6,371.6 639.2,371.6 640.9,371.6 642.5,371.6 644.2,371.6 645.8,371.6 600.8,390.1 604.1,390.1 607.4,390.1 610.7,390.1 614,390.1 592.5,390.1 594.1,390.1 595.8,390.1 597.4,390.1 581,390.1 581.3,390.1 581.6,390.1 581.9,390.1 582.3,390.1 582.6,390.1 583.4,390.1 584.2,390.1 585.1,390.1 585.9,390.1 586.7,390.1 587.5,390.1 588.4,390.1 589.2,390.1 590,390.1 590.8,390.1 581,424.3 581.8,424.3 582.6,424.3 583.4,424.3 585.1,424.3 586.7,424.3 587.5,424.9 588.4,424.9 589.2,424.9 590,424.9 590.8,424.9 581,424.9 581.3,424.9 581.6,424.9 581.9,424.9 582.3,424.9 582.6,424.9 583.4,424.9 584.2,424.9 585.1,424.9 585.9,424.9 586.7,424.9 581,425.6 581.8,425.6 582.6,425.6 583.4,425.6 584.2,425.6 585.1,425.6 586.7,425.6 592.5,404.5 594.1,404.5 595.8,404.5 597.4,404.5 581,404.5 581.8,404.5 582.6,404.5 584.2,404.5 585.9,404.5 587.5,404.5 589.2,404.5 590.8,404.5" fill="none" stroke="none" marker-start="url(#d)" marker-mid="url(#d)" marker-end="url(#d)"/>
<path d="M565.60,327.00V430.25H661.20" fill="none" stroke="#000" stroke-width="0.507" stroke-linecap="square"/>
<path d="M580.94,430.25v2.2M613.96,430.25v2.2M646.97,430.25v2.2M565.60,427.79h-2.2M565.60,408.99h-2.2M565.60,390.19h-2.2M565.60,371.38h-2.2M565.60,352.58h-2.2M565.60,333.77h-2.2" stroke="#000" stroke-width="0.6" fill="none"/>
</g>
<g>
<polyline points="729,331.7 730,331.7 731.1,331.7 732.1,331.7 733.1,331.7 734.1,331.7 724.2,331.7 725.3,331.7 726.4,331.7 727.5,331.7 728.6,331.7 729.6,331.7 719.4,331.7 720.6,331.7 721.8,331.7 722.9,331.7 724.1,331.7 725.2,331.7 714.7,331.7 715.9,331.7 717.2,331.7 718.4,331.7 719.6,331.7 720.8,331.7 709.9,331.7 711.3,331.7 712.6,331.7 713.9,331.7 715.2,331.7 716.4,331.7 705.1,331.7 706.6,331.7 708.1,331.7 709.5,331.7 710.8,331.7 712.2,331.7 729,347.2 729.9,347.2 730.2,347.2 730.5,347.2 732.1,347.2 733.5,347.2 735,347.2 736.3,347.2 737.7,347.2 739,347.2 740.2,347.2 741.5,347.2 742.6,347.2 744.9,347.2 726,347.2 726.4,347.2 726.7,347.2 727.5,347.2 728.3,347.2 729.1,347.2 729.8,347.2 731.3,347.2 732.7,347.2 734.1,347.2 735.5,347.2 736.8,347.2 738.1,347.2 739.3,347.2 741.7,347.2 721.2,347.2 721.5,347.2 721.8,347.2 722.9,347.2 724.5,347.2 725.4,347.2 726.2,347.2 727.7,347.2 729.2,347.2 730.6,347.2 732,347.2 733.4,347.2 734.7,347.2 736,347.2 738.4,347.2 717.2,347.2 717.6,347.2 718.3,347.2 718.7,347.2 719.1,347.2 719.9,347.2 720.8,347.2 721.7,347.2 722.5,347.2 724.1,347.2 725.7,347.2 727.2,347.2 728.7,347.2 730.1,347.2 731.4,347.2 732.8,347.2 735.3,347.2 713.3,347.2 714.1,347.2 714.5,347.2 714.9,347.2 715.2,347.2 716.2,347.2 718,347.2 722.2,347.2 723.8,347.2 725.3,347.2 726.8,347.2 728.2,347.2 729.6,347.2 732.2,347.2 709.4,347.2 710.2,347.2 710.6,347.2 711.1,347.2 711.5,347.2 712.5,347.2 713.4,347.2 714.4,347.2 715.3,347.2 717.1,347.2 718.9,347.2 720.5,347.2 723.6,347.2 725.1,347.2 726.6,347.2 729.3,347.2 705.5,347.2 705.9,347.2 706.4,347.2 706.8,347.2 707.7,347.2 708.8,347.2 709.8,347.2 710.8,347.2 711.8,347.2 713.7,347.2 715.5,347.2 717.3,347.2 719,347.2 720.6,347.2 722.1,347.2 723.7,347.2 726.5,347.2 701.6,347.2 702,347.2 702.5,347.2 703,347.2 703.5,347.2 704,347.2 705.1,347.2 706.2,347.2 707.3,347.2 708.4,347.2 710.4,347.2 712.3,347.2 714.2,347.2 716,347.2 717.7,347.2 719.3,347.2 720.9,347.2 723.9,347.2 728.1,371.6 730.9,371.6 733.6,371.6 736.1,371.6 738.5,371.6 742.9,371.6 745,371.6 746.9,371.6 748.8,371.6 750.6,371.6 724.3,371.6 727.3,371.6 730.1,371.6 732.7,371.6 735.2,371.6 737.5,371.6 739.7,371.6 743.8,371.6 745.8,371.6 747.6,371.6 720.6,371.6 723.7,371.6 726.6,371.6 729.3,371.6 734.3,371.6 736.5,371.6 738.7,371.6 740.8,371.6 742.8,371.6 744.7,371.6 716.8,371.6 720.1,371.6 723.1,371.6 728.6,371.6 731.1,371.6 733.4,371.6 735.7,371.6 737.8,371.6 739.9,371.6 741.8,371.6 719.7,371.6 725.4,371.6 728,371.6 730.4,371.6 732.8,371.6 735,371.6 737.1,371.6 739.1,371.6 709.3,371.6 722.3,371.6 725,371.6 729.9,371.6 732.2,371.6 734.4,371.6 736.4,371.6 705.6,371.6 709.4,371.6 712.9,371.6 716.2,371.6 727.2,371.6 729.5,371.6 731.8,371.6 733.9,371.6 701.8,371.6 705.9,371.6 709.7,371.6 713.1,371.6 716.3,371.6 719.2,371.6 722,371.6 724.6,371.6 727,371.6 731.6,371.6 698.1,371.6 702.5,371.6 706.5,371.6 710.1,371.6 713.5,371.6 716.5,371.6 719.4,371.6 722.1,371.6 724.7,371.6 727.1,371.6 729.4,371.6 694.3,371.6 699.1,371.6 703.4,371.6 707.3,371.6 710.8,371.6 714.1,371.6 717.1,371.6 719.9,371.6 722.6,371.6 725.1,371.6 727.5,371.6 690.6,371.6 695.8,371.6 700.4,371.6 704.6,371.6 708.3,371.6 711.8,371.6 715,371.6 718,371.6 720.8,371.6 723.4,371.6 725.9,371.6 732.4,390.1 733,390.1 734.2,390.1 735.5,390.1 739.1,390.1 740.2,390.1 741.3,390.1 742.4,390.1 743.4,390.1 744.4,390.1 730.7,390.1 732.6,390.1 733.9,390.1 735.1,390.1 736.3,390.1 739.8,390.1 740.9,390.1 743,390.1 729.6,390.1 730.9,390.1 733.5,390.1 735.9,390.1 738.2,390.1 739.3,390.1 740.4,390.1 741.5,390.1 726.8,390.1 727.3,390.1 731.9,390.1 735.6,390.1 736.7,390.1 737.8,390.1 740,390.1 726.2,390.1 730.3,390.1 731.6,390.1 732.8,390.1 734,390.1 735.2,390.1 736.4,390.1 737.5,390.1 738.6,390.1 721.5,390.1 722.1,390.1 723.4,390.1 724.5,390.1 726,390.1 727.4,390.1 728.7,390.1 731.3,390.1 733.7,390.1 734.9,390.1 736,390.1 737.1,390.1 719.8,390.1 720.4,390.1 721.7,390.1 722.9,390.1 724.3,390.1 725.8,390.1 727.1,390.1 728.5,390.1 729.8,390.1 731,390.1 733.4,390.1 734.6,390.1 735.7,390.1 718.7,390.1 719.3,390.1 724.2,390.1 725.6,390.1 726.9,390.1 728.2,390.1 729.5,390.1 730.8,390.1 732,390.1 733.2,390.1 734.3,390.1 718.9,390.1 721.1,390.1 724,390.1 725.4,390.1 726.7,390.1 728.1,390.1 729.3,390.1 730.5,390.1 731.7,390.1 732.9,390.1 715.9,390.1 717.2,390.1 722.5,390.1 725.3,390.1 726.6,390.1 727.9,390.1 729.1,390.1 730.4,390.1 731.5,390.1 714.2,390.1 715.6,390.1 716.2,390.1 725.2,390.1 726.5,390.1 727.7,390.1 729,390.1 730.2,390.1 712.5,390.1 713.2,390.1 713.9,390.1 714.6,390.1 726.4,390.1 728.9,390.1 710.8,390.1 712.3,390.1 714.7,390.1 716.3,390.1 717.9,390.1 719.4,390.1 722.3,390.1 707.6,390.1 708.3,390.1 709.9,390.1 710.6,390.1 711.3,390.1 713.1,390.1 716.4,390.1 718,390.1 719.5,390.1 720.9,390.1 723.7,390.1 725,390.1 726.3,390.1 705.8,390.1 706.6,390.1 709,390.1 709.7,390.1 711.5,390.1 713.3,390.1 714.9,390.1 716.6,390.1 718.1,390.1 719.6,390.1 721,390.1 722.4,390.1 723.8,390.1 725.1,390.1 704.1,390.1 707.3,390.1 708.1,390.1 710,390.1 711.8,390.1 713.5,390.1 715.2,390.1 716.7,390.1 718.3,390.1 719.7,390.1 721.2,390.1 722.6,390.1 723.9,390.1 702.4,390.1 703.2,390.1 704,390.1 704.9,390.1 705.7,390.1 706.5,390.1 708.4,390.1 710.3,390.1 712.1,390.1 713.8,390.1 715.4,390.1 717,390.1 718.5,390.1 721.4,390.1 722.7,390.1 743.5,390.1 745.5,390.1 747.3,390.1 749.1,390.1 737.9,390.1 739.9,390.1 741.9,390.1 743.8,390.1 747.4,390.1 750.7,390.1 753.8,390.1 732.5,390.1 734.7,390.1 736.8,390.1 738.9,390.1 742.6,390.1 746.1,390.1 749.4,390.1 752.5,390.1 755.4,390.1 727.6,390.1 730,390.1 732.2,390.1 734.4,390.1 738.4,390.1 742.1,390.1 745.6,390.1 748.8,390.1 751.8,390.1 698.9,390.1 699.8,390.1 700.7,390.1 701.6,390.1 703.4,390.1 705.4,390.1 707.4,390.1 709.3,390.1 712.8,390.1 714.5,390.1 716.1,390.1 717.6,390.1 719.1,390.1 720.6,390.1 723.3,390.1 725.9,390.1 728.3,390.1 730.6,390.1 691.9,390.1 693,390.1 694.1,390.1 695.2,390.1 696.2,390.1 697.3,390.1 699.7,390.1 702,390.1 704.2,390.1 706.3,390.1 708.2,390.1 710.1,390.1 711.9,390.1 713.7,390.1 715.3,390.1 716.9,390.1 720,390.1 722.8,390.1 725.5,390.1 728,390.1 684.9,390.1 686.3,390.1 687.7,390.1 689.1,390.1 690.4,390.1 691.7,390.1 694.7,390.1 697.5,390.1 700.1,390.1 702.5,390.1 704.8,390.1 707,390.1 709.1,390.1 711.1,390.1 713,390.1 714.8,390.1 736,424.3 737.4,424.3 738.7,424.3 740,424.3 742.5,424.3 744.8,424.3 730.2,424.3 731.7,424.3 733.1,424.3 734.5,424.3 737.2,424.3 739.7,424.3 724.4,424.3 726,424.3 727.6,424.3 729.2,424.3 732.1,424.3 734.8,424.3 718.6,424.3 720.4,424.3 722.2,424.3 723.9,424.3 727.1,424.3 730.1,424.3 712.7,424.3 714.8,424.3 716.9,424.3 718.8,424.3 722.4,424.3 725.7,424.3 730.3,424.9 730.8,424.9 731.4,424.9 732.4,424.9 732.9,424.9 734.2,424.9 737.8,424.9 738.9,424.9 740.1,424.9 741.1,424.9 742.2,424.9 743.2,424.9 744.2,424.9 723.8,424.9 724.3,424.9 724.9,424.9 725.5,424.9 726.6,424.9 728,424.9 729.3,424.9 730.6,424.9 731.9,424.9 733.1,424.9 734.3,424.9 735.4,424.9 736.6,424.9 737.7,424.9 738.7,424.9 717.2,424.9 717.8,424.9 718.5,424.9 719.1,424.9 719.7,424.9 720.4,424.9 726.1,424.9 727.4,424.9 728.7,424.9 729.9,424.9 731.1,424.9 732.3,424.9 733.5,424.9 710.7,424.9 711.4,424.9 712.8,424.9 714.2,424.9 715.9,424.9 717.5,424.9 719,424.9 720.5,424.9 721.9,424.9 723.3,424.9 724.7,424.9 726,424.9 727.3,424.9 728.5,424.9 704.1,424.9 704.9,424.9 705.7,424.9 707.3,424.9 708.1,424.9 710,424.9 711.8,424.9 713.5,424.9 715.2,424.9 716.8,424.9 718.3,424.9 719.8,424.9 721.3,424.9 722.6,424.9 724,424.9 697.5,424.9 698.5,424.9 699.5,424.9 700.4,424.9 701.3,424.9 702.3,424.9 704.4,424.9 706.5,424.9 708.5,424.9 710.3,424.9 712.1,424.9 713.9,424.9 715.5,424.9 717.1,424.9 718.6,424.9 720.1,424.9 691,424.9 692.2,424.9 693.3,424.9 694.5,424.9 695.6,424.9 696.7,424.9 699.3,424.9 701.7,424.9 704,424.9 706.2,424.9 708.3,424.9 721,425.6 722.4,425.6 723.8,425.6 725.2,425.6 726.5,425.6 727.8,425.6 730.3,425.6 716.3,425.6 717.8,425.6 719.3,425.6 720.8,425.6 722.2,425.6 724.8,425.6 708.4,425.6 710.1,425.6 711.9,425.6 713.5,425.6 715.1,425.6 716.7,425.6 719.6,425.6 702,425.6 704.1,425.6 706.1,425.6 707.9,425.6 709.7,425.6 711.4,425.6 714.7,425.6 725.9,404.5 730.5,404.5 734.7,404.5 736.7,404.5 738.5,404.5 740.3,404.5 742,404.5 743.7,404.5 745.3,404.5 722.5,404.5 725,404.5 727.3,404.5 729.6,404.5 731.7,404.5 733.7,404.5 735.6,404.5 737.4,404.5 739.2,404.5 740.9,404.5 742.5,404.5 719.2,404.5 721.7,404.5 726.5,404.5 728.6,404.5 730.7,404.5 734.6,404.5 736.4,404.5 738.1,404.5 739.8,404.5 715.9,404.5 721,404.5 723.4,404.5 725.6,404.5 727.8,404.5 729.8,404.5 731.8,404.5 733.6,404.5 735.4,404.5 737.1,404.5 712.5,404.5 715.3,404.5 717.9,404.5 720.4,404.5 727,404.5 729,404.5 730.9,404.5 732.7,404.5 734.5,404.5 709.2,404.5 712.1,404.5 714.8,404.5 717.4,404.5 719.8,404.5 722.1,404.5 724.2,404.5 726.3,404.5 728.3,404.5 730.2,404.5 732,404.5 711.7,404.5 714.4,404.5 716.9,404.5 719.3,404.5 721.5,404.5 723.7,404.5 725.7,404.5 727.6,404.5 729.5,404.5 711.5,404.5 716.6,404.5 718.9,404.5 721.1,404.5 723.2,404.5 725.2,404.5 727.1,404.5 699.1,404.5 702.5,404.5 705.7,404.5 708.6,404.5 722.9,404.5 724.9,404.5 695.8,404.5 699.4,404.5 702.7,404.5 705.8,404.5 708.7,404.5 711.4,404.5 713.9,404.5 716.3,404.5 718.5,404.5 720.7,404.5 722.7,404.5 692.4,404.5 696.3,404.5 699.9,404.5 703.1,404.5 706.1,404.5 708.9,404.5 711.6,404.5 714.1,404.5 716.4,404.5 718.6,404.5 720.8,404.5 685.7,404.5 688,404.5 690.3,404.5 694.3,404.5 698,404.5 701.4,404.5 704.5,404.5 707.4,404.5" fill="none" stroke="none" marker-start="url(#d)" marker-mid="url(#d)" marker-end="url(#d)"/>
<path d="M672.34,327.00V430.25H767.94" fill="none" stroke="#000" stroke-width="0.507" stroke-linecap="square"/>
<path d="M677.32,430.25v2.2M699.40,430.25v2.2M721.48,430.25v2.2M743.55,430.25v2.2M765.63,430.25v2.2M672.34,427.79h-2.2M672.34,408.99h-2.2M672.34,390.19h-2.2M672.34,371.38h-2.2M672.34,352.58h-2.2M672.34,333.77h-2.2" stroke="#000" stroke-width="0.6" fill="none"/>
</g>
<g>
<polyline points="48.7,465.5 48.7,463.2 48.7,460.9 48.7,458.7 48.7,456.4 48.7,454.1 54.4,467.8 54.4,465.5 54.4,463.2 54.4,460.9 54.4,458.7 54.4,456.4 54.4,454.1 54.4,451.9 65.6,534.4 65.6,532.1 65.6,529.8 65.6,527.6 65.6,525.3 65.6,523 65.6,520.7 65.6,518.5 65.6,516.2 65.6,513.9 65.6,511.7 76.9,470 76.9,468.9 76.9,466.6 76.9,465.5 76.9,464.4 76.9,462.1 76.9,460.9 76.9,459.8 76.9,457.5 76.9,456.4 76.9,455.3 76.9,453 76.9,451.9 76.9,467.8 76.9,463.2 76.9,458.7 76.9,454.1 76.9,449.6 76.9,445 76.9,440.5 109,467.8 109,463.2 109,458.7 109,454.1 109,449.6 109.9,467.8 109.9,463.2 109.9,458.7 109.9,454.1 109.9,449.6 109.9,445 109.9,440.5 110.7,463.2 110.7,458.7 110.7,454.1 110.7,449.6 88.1,467.8 88.1,465.5 88.1,463.2 88.1,460.9 88.1,458.7 88.1,456.4 88.1,454.1 88.1,451.9 88.1,449.6 88.1,447.3 88.1,445 88.1,440.5" fill="none" stroke="none" marker-start="url(#d)" marker-mid="url(#d)" marker-end="url(#d)"/>
<path d="M31.90,435.80V539.05H127.50" fill="none" stroke="#000" stroke-width="0.507" stroke-linecap="square"/>
<path d="M45.43,539.05v2.2M65.50,539.05v2.2M85.56,539.05v2.2M105.63,539.05v2.2M125.69,539.05v2.2M31.90,534.38h-2.2M31.90,511.66h-2.2M31.90,488.93h-2.2M31.90,466.21h-2.2M31.90,443.48h-2.2" stroke="#000" stroke-width="0.6" fill="none"/>
<text x="27.50" y="536.69" text-anchor="end">0</text>
<text x="27.50" y="513.97" text-anchor="end">100</text>
<text x="27.50" y="491.24" text-anchor="end">200</text>
<text x="27.50" y="468.52" text-anchor="end">300</text>
<text x="27.50" y="445.79" text-anchor="end">400</text>
<text transform="translate(11.40,487.42) rotate(-90)" text-anchor="middle">Temperature (K)</text>
</g>
<g>
<polyline points="154.4,465.5 154.4,463.2 154.4,460.9 154.4,458.7 154.4,456.4 154.4,454.1 163.9,467.8 163.9,465.5 163.9,463.2 163.9,460.9 163.9,458.7 163.9,456.4 163.9,454.1 163.9,451.9 178.8,534.4 178.8,532.1 178.8,529.8 178.8,527.6 178.8,525.3 178.8,523 178.8,520.7 178.8,518.5 178.8,516.2 178.8,513.9 178.8,511.7 190.1,470 190.1,468.9 190.1,466.6 190.1,465.5 190.1,464.4 190.1,462.1 190.1,460.9 190.1,459.8 190.1,457.5 190.1,456.4 190.1,455.3 190.1,453 190.1,451.9 190.1,467.8 190.1,463.2 190.1,458.7 190.1,454.1 190.1,449.6 190.1,445 190.1,440.5 218.5,467.8 218.5,463.2 218.5,458.7 218.5,454.1 218.5,449.6 215.1,467.8 215.1,463.2 215.1,458.7 215.1,454.1 215.1,449.6 215.1,445 215.1,440.5 211.7,463.2 211.7,458.7 211.7,454.1 211.7,449.6 198.9,467.8 198.9,465.5 198.9,463.2 198.9,460.9 198.9,458.7 198.9,456.4 198.9,454.1 198.9,451.9 198.9,449.6 198.9,447.3 198.9,445 198.9,440.5" fill="none" stroke="none" marker-start="url(#d)" marker-mid="url(#d)" marker-end="url(#d)"/>
<path d="M138.64,435.80V539.05H234.24" fill="none" stroke="#000" stroke-width="0.507" stroke-linecap="square"/>
<path d="M165.72,539.05v2.2M199.25,539.05v2.2M232.78,539.05v2.2M138.64,534.38h-2.2M138.64,511.66h-2.2M138.64,488.93h-2.2M138.64,466.21h-2.2M138.64,443.48h-2.2" stroke="#000" stroke-width="0.6" fill="none"/>
</g>
<g>
<polyline points="259.9,465.5 259.9,463.2 259.9,460.9 259.9,458.7 259.9,456.4 259.9,454.1 270.9,467.8 270.9,465.5 270.9,463.2 270.9,460.9 270.9,458.7 270.9,456.4 270.9,454.1 270.9,451.9 288.2,534.4 288.2,532.1 288.2,529.8 288.2,527.6 288.2,525.3 288.2,523 288.2,520.7 288.2,518.5 288.2,516.2 288.2,513.9 288.2,511.7 301.3,470 301.3,468.9 301.3,466.6 301.3,465.5 301.3,464.4 301.3,462.1 301.3,460.9 301.3,459.8 301.3,457.5 301.3,456.4 301.3,455.3 301.3,453 301.3,451.9 301.3,467.8 301.3,463.2 301.3,458.7 301.3,454.1 301.3,449.6 301.3,445 301.3,440.5 273.6,467.8 273.6,463.2 273.6,458.7 273.6,454.1 273.6,449.6 300.2,467.8 300.2,463.2 300.2,458.7 300.2,454.1 300.2,449.6 300.2,445 300.2,440.5 326.4,463.2 326.4,458.7 326.4,454.1 326.4,449.6 311.5,467.8 311.5,465.5 311.5,463.2 311.5,460.9 311.5,458.7 311.5,456.4 311.5,454.1 311.5,451.9 311.5,449.6 311.5,447.3 311.5,445 311.5,440.5" fill="none" stroke="none" marker-start="url(#d)" marker-mid="url(#d)" marker-end="url(#d)"/>
<path d="M245.38,435.80V539.05H340.98" fill="none" stroke="#000" stroke-width="0.507" stroke-linecap="square"/>
<path d="M261.49,539.05v2.2M284.67,539.05v2.2M307.86,539.05v2.2M331.04,539.05v2.2M245.38,534.38h-2.2M245.38,511.66h-2.2M245.38,488.93h-2.2M245.38,466.21h-2.2M245.38,443.48h-2.2" stroke="#000" stroke-width="0.6" fill="none"/>
</g>
<g>
<polyline points="431.6,465.5 431.6,463.2 431.6,460.9 431.6,458.7 431.6,456.4 431.6,454.1 421.1,467.8 421.1,465.5 421.1,463.2 421.1,460.9 421.1,458.7 421.1,456.4 421.1,454.1 421.1,451.9 404.6,534.4 404.6,532.1 404.6,529.8 404.6,527.6 404.6,525.3 404.6,523 404.6,520.7 404.6,518.5 404.6,516.2 404.6,513.9 404.6,511.7 392.2,470 392.2,468.9 392.2,466.6 392.2,465.5 392.2,464.4 392.2,462.1 392.2,460.9 392.2,459.8 392.2,457.5 392.2,456.4 392.2,455.3 392.2,453 392.2,451.9 392.2,467.8 392.2,463.2 392.2,458.7 392.2,454.1 392.2,449.6 392.2,445 392.2,440.5 369.1,467.8 369.1,463.2 369.1,458.7 369.1,454.1 369.1,449.6 368.7,467.8 368.7,463.2 368.7,458.7 368.7,454.1 368.7,449.6 368.7,445 368.7,440.5 368.3,463.2 368.3,458.7 368.3,454.1 368.3,449.6 382.5,467.8 382.5,465.5 382.5,463.2 382.5,460.9 382.5,458.7 382.5,456.4 382.5,454.1 382.5,451.9 382.5,449.6 382.5,447.3 382.5,445 382.5,440.5" fill="none" stroke="none" marker-start="url(#d)" marker-mid="url(#d)" marker-end="url(#d)"/>
<path d="M352.12,435.80V539.05H447.72" fill="none" stroke="#000" stroke-width="0.507" stroke-linecap="square"/>
<path d="M366.76,539.05v2.2M398.46,539.05v2.2M430.17,539.05v2.2M352.12,534.38h-2.2M352.12,511.66h-2.2M352.12,488.93h-2.2M352.12,466.21h-2.2M352.12,443.48h-2.2" stroke="#000" stroke-width="0.6" fill="none"/>
</g>
<g>
<path d="M458.86,435.80V539.05H554.46" fill="none" stroke="#000" stroke-width="0.507" stroke-linecap="square"/>
<clipPath id="c4"><rect x="458.86" y="435.80" width="95.6" height="103.25"/></clipPath>
<path d="M463.21,539.03 463.21,539.05 463.64,539.05 464.08,539.05 464.52,539.05 464.95,539.05 465.39,539.05 465.83,539.05 466.26,539.05 466.70,539.05 467.14,539.05 467.57,539.05 468.01,539.05 468.45,539.05 468.88,539.05 469.32,539.05 469.76,539.05 470.19,539.05 470.63,539.05 471.07,539.05 471.50,539.05 471.94,539.05 472.38,539.05 472.81,539.05 473.25,539.05 473.69,539.05 474.12,539.05 474.56,539.05 475.00,539.05 475.43,539.05 475.87,539.05 476.31,539.05 476.74,539.05 477.18,539.05 477.62,539.05 478.05,539.05 478.49,539.05 478.93,539.05 479.36,539.05 479.80,539.05 480.24,539.05 480.67,539.05 481.11,539.05 481.55,539.05 481.98,539.05 482.42,539.05 482.86,539.05 483.29,539.05 483.73,539.05 484.17,539.05 484.61,539.05 485.04,539.05 485.48,539.05 485.92,539.05 486.35,539.05 486.79,539.05 487.23,539.05 487.66,539.05 488.10,539.05 488.54,539.05 488.97,539.05 489.41,539.05 489.85,539.05 490.28,539.05 490.72,539.05 491.16,539.05 491.59,539.05 492.03,539.05 492.47,539.05 492.90,539.05 493.34,539.05 493.78,539.05 494.21,539.05 494.65,539.05 495.09,539.05 495.52,539.05 495.96,539.05 496.40,539.05 496.83,539.05 497.27,539.05 497.71,539.05 498.14,539.05 498.58,539.05 499.02,539.05 499.45,539.05 499.89,539.05 500.33,539.05 500.76,539.05 501.20,539.05 501.64,539.05 502.07,539.05 502.51,539.05 502.95,539.05 503.38,539.05 503.82,539.05 504.26,539.05 504.69,539.05 505.13,539.05 505.57,539.05 506.00,539.05 506.44,539.05 506.88,539.05 507.32,539.05 507.75,539.05 508.19,539.05 508.63,539.05 509.06,539.05 509.50,539.05 509.94,539.05 510.37,539.05 510.81,539.05 511.25,539.05 511.68,539.05 512.12,539.05 512.56,539.05 512.99,539.05 513.43,539.05 513.87,539.05 514.30,539.05 514.74,539.05 515.18,539.05 515.61,539.05 516.05,539.05 516.49,539.05 516.92,539.05 517.36,539.05 517.80,539.05 518.23,539.05 518.67,539.05 519.11,539.05 519.54,539.05 519.98,539.05 520.42,539.05 520.85,539.05 521.29,539.05 521.73,539.05 522.16,539.05 522.60,539.05 523.04,539.05 523.47,539.05 523.91,539.05 524.35,539.05 524.78,539.05 525.22,539.05 525.66,539.05 526.09,539.05 526.53,539.05 526.97,539.05 527.40,539.05 527.84,539.05 528.28,539.05 528.71,539.05 529.15,539.05 529.59,539.05 530.03,539.05 530.46,539.05 530.90,539.05 531.34,539.05 531.77,539.05 532.21,539.05 532.65,539.05 533.08,539.05 533.52,539.05 533.96,539.05 534.39,539.05 534.83,539.05 535.27,539.05 535.70,539.05 536.14,539.05 536.58,539.05 537.01,539.05 537.45,539.05 537.89,539.05 538.32,539.05 538.76,539.05 539.20,539.05 539.63,539.05 540.07,539.05 540.51,539.05 540.94,539.05 541.38,539.05 541.82,539.05 542.25,539.05 542.69,539.05 543.13,539.05 543.56,539.05 544.00,539.05 544.44,539.05 544.87,539.05 545.31,539.05 545.75,539.05 546.18,539.05 546.62,539.05 547.06,539.05 547.49,539.05 547.93,539.05 548.37,539.05 548.80,539.05 549.24,539.05 549.68,539.05 550.11,539.05 550.11,538.95 550.11,538.95 549.68,538.91 549.24,538.84 548.80,538.75 548.37,538.63 547.93,538.47 547.49,538.27 547.06,538.01 546.62,537.67 546.18,537.27 545.75,536.78 545.31,536.19 544.87,535.51 544.44,534.73 544.00,533.85 543.56,532.88 543.13,531.82 542.69,530.68 542.25,529.48 541.82,528.23 541.38,526.94 540.94,525.63 540.51,524.29 540.07,522.94 539.63,521.58 539.20,520.19 538.76,518.77 538.32,517.29 537.89,515.75 537.45,514.10 537.01,512.33 536.58,510.41 536.14,508.33 535.70,506.04 535.27,503.56 534.83,500.85 534.39,497.93 533.96,494.80 533.52,491.47 533.08,487.96 532.65,484.31 532.21,480.55 531.77,476.71 531.34,472.85 530.90,469.00 530.46,465.23 530.03,461.58 529.59,458.09 529.15,454.82 528.71,451.80 528.28,449.09 527.84,446.70 527.40,444.68 526.97,443.05 526.53,441.83 526.09,441.05 525.66,440.72 525.22,440.85 524.78,441.47 524.35,442.57 523.91,444.19 523.47,446.31 523.04,448.94 522.60,452.06 522.16,455.68 521.73,459.74 521.29,464.21 520.85,469.04 520.42,474.15 519.98,479.47 519.54,484.91 519.11,490.37 518.67,495.77 518.23,501.01 517.80,506.01 517.36,510.71 516.92,515.04 516.49,518.98 516.05,522.49 515.61,525.57 515.18,528.23 514.74,530.49 514.30,532.37 513.87,533.91 513.43,535.15 512.99,536.14 512.56,536.91 512.12,537.50 511.68,537.94 511.25,538.27 510.81,538.51 510.37,538.68 509.94,538.80 509.50,538.89 509.06,538.94 508.63,538.98 508.19,539.01 507.75,539.02 507.32,539.03 506.88,539.04 506.44,539.04 506.00,539.05 505.57,539.05 505.13,539.05 504.69,539.05 504.26,539.05 503.82,539.05 503.38,539.05 502.95,539.05 502.51,539.05 502.07,539.05 501.64,539.05 501.20,539.05 500.76,539.04 500.33,539.04 499.89,539.04 499.45,539.03 499.02,539.02 498.58,539.00 498.14,538.98 497.71,538.95 497.27,538.91 496.83,538.86 496.40,538.79 495.96,538.70 495.52,538.60 495.09,538.46 494.65,538.30 494.21,538.10 493.78,537.87 493.34,537.61 492.90,537.31 492.47,536.98 492.03,536.61 491.59,536.22 491.16,535.81 490.72,535.38 490.28,534.94 489.85,534.50 489.41,534.07 488.97,533.65 488.54,533.25 488.10,532.87 487.66,532.53 487.23,532.22 486.79,531.95 486.35,531.71 485.92,531.50 485.48,531.33 485.04,531.18 484.61,531.07 484.17,530.97 483.73,530.90 483.29,530.84 482.86,530.80 482.42,530.77 481.98,530.76 481.55,530.75 481.11,530.75 480.67,530.75 480.24,530.77 479.80,530.80 479.36,530.84 478.93,530.89 478.49,530.96 478.05,531.05 477.62,531.17 477.18,531.31 476.74,531.48 476.31,531.68 475.87,531.92 475.43,532.19 475.00,532.50 474.56,532.84 474.12,533.21 473.69,533.61 473.25,534.03 472.81,534.46 472.38,534.90 471.94,535.34 471.50,535.77 471.07,536.19 470.63,536.58 470.19,536.95 469.76,537.29 469.32,537.59 468.88,537.86 468.45,538.09 468.01,538.29 467.57,538.45 467.14,538.59 466.70,538.70 466.26,538.79 465.83,538.86 465.39,538.91 464.95,538.95 464.52,538.98 464.08,539.00 463.64,539.02 463.21,539.03 463.21,539.03Z" clip-path="url(#c4)" fill="#1f77b4" fill-opacity="0.25" stroke="#1f77b4" stroke-width="0.95" stroke-linejoin="round"/>
<path d="M473.22,539.05v2.2M505.59,539.05v2.2M537.96,539.05v2.2M458.86,534.38h-2.2M458.86,511.66h-2.2M458.86,488.93h-2.2M458.86,466.21h-2.2M458.86,443.48h-2.2" stroke="#000" stroke-width="0.6" fill="none"/>
</g>
<g>
<polyline points="582.4,465.5 582.9,465.5 582.4,463.2 582.9,463.2 582.4,460.9 582.9,460.9 582.4,458.7 582.9,458.7 582.4,456.4 582.9,456.4 582.4,454.1 582.9,454.1 581.1,467.8 581.4,467.8 582.2,467.8 583,467.8 581.1,465.5 581.4,465.5 581.8,465.5 582.2,465.5 583,465.5 581.1,463.2 581.4,463.2 582.2,463.2 583,463.2 581.1,460.9 581.4,460.9 581.8,460.9 582.2,460.9 583,460.9 581.1,458.7 581.4,458.7 582.2,458.7 583,458.7 581.1,456.4 581.4,456.4 581.8,456.4 582.2,456.4 583,456.4 581.1,454.1 581.4,454.1 582.2,454.1 583,454.1 581.1,451.9 581.4,451.9 581.8,451.9 582.2,451.9 583,451.9 629.3,534.4 629.3,532.1 629.3,529.8 629.3,527.6 629.3,525.3 629.3,523 629.3,520.7 629.3,518.5 629.3,516.2 629.3,513.9 629.3,511.7 631,534.4 631,532.1 631,529.8 631,527.6 631,525.3 631,523 631,520.7 631,518.5 631,516.2 631,513.9 631,511.7 632.6,534.4 632.6,532.1 632.6,529.8 632.6,527.6 632.6,525.3 632.6,523 632.6,520.7 632.6,518.5 632.6,516.2 632.6,513.9 632.6,511.7 634.3,534.4 634.3,532.1 634.3,529.8 634.3,527.6 634.3,525.3 634.3,523 634.3,520.7 634.3,518.5 634.3,516.2 634.3,513.9 634.3,511.7 635.9,534.4 635.9,532.1 635.9,529.8 635.9,527.6 635.9,525.3 635.9,523 635.9,520.7 635.9,518.5 635.9,516.2 635.9,513.9 635.9,511.7 637.6,534.4 637.6,532.1 637.6,529.8 637.6,527.6 637.6,525.3 637.6,523 637.6,520.7 637.6,518.5 637.6,516.2 637.6,513.9 637.6,511.7 639.2,534.4 639.2,532.1 639.2,529.8 639.2,527.6 639.2,525.3 639.2,523 639.2,520.7 639.2,518.5 639.2,516.2 639.2,513.9 639.2,511.7 640.9,534.4 640.9,532.1 640.9,529.8 640.9,527.6 640.9,525.3 640.9,523 640.9,520.7 640.9,518.5 640.9,516.2 640.9,513.9 640.9,511.7 642.5,534.4 642.5,532.1 642.5,529.8 642.5,527.6 642.5,525.3 642.5,523 642.5,520.7 642.5,518.5 642.5,516.2 642.5,513.9 642.5,511.7 644.2,534.4 644.2,532.1 644.2,529.8 644.2,527.6 644.2,525.3 644.2,523 644.2,520.7 644.2,518.5 644.2,516.2 644.2,513.9 644.2,511.7 645.8,534.4 645.8,532.1 645.8,529.8 645.8,527.6 645.8,525.3 645.8,523 645.8,520.7 645.8,518.5 645.8,516.2 645.8,513.9 645.8,511.7 581,470 581.3,470 581.6,470 581.9,470 582.3,470 582.6,470 583.4,470 584.2,470 585.1,470 585.9,470 586.7,470 587.5,470 588.4,470 589.2,470 590,470 590.8,470 581,468.9 581.3,468.9 581.6,468.9 581.9,468.9 582.3,468.9 582.6,468.9 583.4,468.9 584.2,468.9 585.1,468.9 585.9,468.9 586.7,468.9 587.5,468.9 588.4,468.9 589.2,468.9 590,468.9 590.8,468.9 581,466.6 581.3,466.6 581.6,466.6 581.9,466.6 582.3,466.6 582.6,466.6 583.4,466.6 584.2,466.6 585.1,466.6 585.9,466.6 586.7,466.6 587.5,466.6 588.4,466.6 589.2,466.6 590,466.6 590.8,466.6 581.3,465.5 581.6,465.5 581.9,465.5 582.3,465.5 583.4,465.5 585.1,465.5 586.7,465.5 588.4,465.5 590,465.5 581,464.4 581.3,464.4 581.6,464.4 581.9,464.4 582.3,464.4 582.6,464.4 583.4,464.4 584.2,464.4 585.1,464.4 585.9,464.4 586.7,464.4 587.5,464.4 588.4,464.4 589.2,464.4 590,464.4 590.8,464.4 581,462.1 581.3,462.1 581.6,462.1 581.9,462.1 582.3,462.1 582.6,462.1 583.4,462.1 584.2,462.1 585.1,462.1 585.9,462.1 586.7,462.1 587.5,462.1 588.4,462.1 589.2,462.1 590,462.1 590.8,462.1 581.3,460.9 581.6,460.9 581.9,460.9 582.3,460.9 583.4,460.9 585.1,460.9 586.7,460.9 588.4,460.9 590,460.9 581,459.8 581.3,459.8 581.6,459.8 581.9,459.8 582.3,459.8 582.6,459.8 583.4,459.8 584.2,459.8 585.1,459.8 585.9,459.8 586.7,459.8 587.5,459.8 588.4,459.8 589.2,459.8 590,459.8 590.8,459.8 581,457.5 581.3,457.5 581.6,457.5 581.9,457.5 582.3,457.5 582.6,457.5 583.4,457.5 584.2,457.5 585.1,457.5 585.9,457.5 586.7,457.5 587.5,457.5 588.4,457.5 589.2,457.5 590,457.5 590.8,457.5 581.3,456.4 581.6,456.4 581.9,456.4 582.3,456.4 583.4,456.4 585.1,456.4 586.7,456.4 588.4,456.4 590,456.4 581,455.3 581.3,455.3 581.6,455.3 581.9,455.3 582.3,455.3 582.6,455.3 583.4,455.3 584.2,455.3 585.1,455.3 585.9,455.3 586.7,455.3 587.5,455.3 588.4,455.3 589.2,455.3 590,455.3 590.8,455.3 581,453 581.3,453 581.6,453 581.9,453 582.3,453 582.6,453 583.4,453 584.2,453 585.1,453 585.9,453 586.7,453 587.5,453 588.4,453 589.2,453 590,453 590.8,453 581.3,451.9 581.6,451.9 581.9,451.9 582.3,451.9 583.4,451.9 585.1,451.9 586.7,451.9 588.4,451.9 590,451.9 600.8,467.8 600.8,463.2 604.1,463.2 607.4,463.2 600.8,458.7 604.1,458.7 607.4,458.7 610.7,458.7 614,458.7 600.8,454.1 604.1,454.1 607.4,454.1 610.7,454.1 614,454.1 588.4,440.5 590,440.5 581.8,467.8 581.3,467.8 581.6,467.8 581.9,467.8 582.3,467.8 583.4,467.8 585.1,467.8 586.7,467.8 588.4,467.8 590,467.8 581.3,463.2 581.6,463.2 581.9,463.2 582.3,463.2 588.4,463.2 590,463.2 581.3,458.7 581.6,458.7 581.9,458.7 582.3,458.7 588.4,458.7 590,458.7 581.3,454.1 581.6,454.1 581.9,454.1 582.3,454.1 588.4,454.1 590,454.1 581.3,449.6 581.6,449.6 581.9,449.6 582.3,449.6 588.4,449.6 590,449.6 581.3,445 581.6,445 581.9,445 582.3,445 583.4,445 585.1,445 586.7,445 588.4,445 590,445 581.3,440.5 581.6,440.5 581.9,440.5 582.3,440.5 583.4,440.5 585.1,440.5 586.7,440.5 581.8,463.2 583.4,463.2 585.1,463.2 586.7,463.2 581.8,458.7 583.4,458.7 585.1,458.7 586.7,458.7 581.8,454.1 583.4,454.1 585.1,454.1 586.7,454.1 581.8,449.6 583.4,449.6 585.1,449.6 586.7,449.6 581,467.8 582.6,467.8 584.2,467.8 585.9,467.8 587.5,467.8 589.2,467.8 590.8,467.8 592.5,467.8 594.1,467.8 595.8,467.8 597.4,467.8 581,465.5 582.6,465.5 584.2,465.5 585.9,465.5 587.5,465.5 589.2,465.5 590.8,465.5 592.5,465.5 594.1,465.5 595.8,465.5 597.4,465.5 581,463.2 582.6,463.2 584.2,463.2 585.9,463.2 587.5,463.2 589.2,463.2 590.8,463.2 592.5,463.2 594.1,463.2 595.8,463.2 597.4,463.2 581,460.9 582.6,460.9 584.2,460.9 585.9,460.9 587.5,460.9 589.2,460.9 590.8,460.9 592.5,460.9 594.1,460.9 595.8,460.9 597.4,460.9 581,458.7 582.6,458.7 584.2,458.7 585.9,458.7 587.5,458.7 589.2,458.7 590.8,458.7 592.5,458.7 594.1,458.7 595.8,458.7 597.4,458.7 581,456.4 582.6,456.4 584.2,456.4 585.9,456.4 587.5,456.4 589.2,456.4 590.8,456.4 592.5,456.4 594.1,456.4 595.8,456.4 597.4,456.4 581,454.1 582.6,454.1 584.2,454.1 585.9,454.1 587.5,454.1 589.2,454.1 590.8,454.1 592.5,454.1 594.1,454.1 595.8,454.1 597.4,454.1 581,451.9 582.6,451.9 584.2,451.9 585.9,451.9 587.5,451.9 589.2,451.9 590.8,451.9 592.5,451.9 594.1,451.9 595.8,451.9 597.4,451.9 581,449.6 582.6,449.6 584.2,449.6 585.9,449.6 587.5,449.6 589.2,449.6 590.8,449.6 592.5,449.6 594.1,449.6 595.8,449.6 597.4,449.6 581,447.3 582.6,447.3 584.2,447.3 585.9,447.3 587.5,447.3 589.2,447.3 590.8,447.3 592.5,447.3 594.1,447.3 595.8,447.3 597.4,447.3 581,445 582.6,445 584.2,445 585.9,445 587.5,445 589.2,445 590.8,445 592.5,445 594.1,445 595.8,445 597.4,445 581,440.5 581.8,440.5 582.6,440.5 584.2,440.5 585.9,440.5 587.5,440.5 589.2,440.5 590.8,440.5" fill="none" stroke="none" marker-start="url(#d)" marker-mid="url(#d)" marker-end="url(#d)"/>
<path d="M565.60,435.80V539.05H661.20" fill="none" stroke="#000" stroke-width="0.507" stroke-linecap="square"/>
<path d="M580.94,539.05v2.2M613.96,539.05v2.2M646.97,539.05v2.2M565.60,534.38h-2.2M565.60,511.66h-2.2M565.60,488.93h-2.2M565.60,466.21h-2.2M565.60,443.48h-2.2" stroke="#000" stroke-width="0.6" fill="none"/>
</g>
<g>
<polyline points="730,465.5 731.1,465.5 732.1,465.5 733.1,465.5 725.3,463.2 726.4,463.2 727.5,463.2 729.6,463.2 719.4,460.9 720.6,460.9 721.8,460.9 722.9,460.9 725.2,460.9 715.9,458.7 718.4,458.7 719.6,458.7 709.9,456.4 711.3,456.4 712.6,456.4 713.9,456.4 715.2,456.4 716.4,456.4 705.1,454.1 708.1,454.1 709.5,454.1 712.2,454.1 729.3,467.8 729.9,467.8 730.2,467.8 731.3,467.8 732.1,467.8 732.8,467.8 735,467.8 736.3,467.8 737.7,467.8 739,467.8 740.2,467.8 742.6,467.8 744.9,467.8 725.4,465.5 725.7,465.5 726,465.5 726.4,465.5 726.7,465.5 727.5,465.5 728.3,465.5 729.1,465.5 729.8,465.5 731.3,465.5 732.7,465.5 734.1,465.5 735.5,465.5 736.8,465.5 738.1,465.5 739.3,465.5 741.7,465.5 721.2,463.2 721.5,463.2 721.8,463.2 722.2,463.2 722.5,463.2 723.7,463.2 724.5,463.2 725.4,463.2 726.2,463.2 727.7,463.2 729.2,463.2 732,463.2 734.7,463.2 736,463.2 738.4,463.2 717.2,460.9 718,460.9 718.7,460.9 719.1,460.9 719.9,460.9 720.8,460.9 721.7,460.9 722.5,460.9 724.1,460.9 725.7,460.9 727.2,460.9 728.7,460.9 730.1,460.9 731.4,460.9 732.8,460.9 735.3,460.9 713.3,458.7 713.7,458.7 714.1,458.7 714.5,458.7 715.2,458.7 717.1,458.7 718,458.7 718.9,458.7 720.6,458.7 725.3,458.7 726.8,458.7 728.2,458.7 729.6,458.7 732.2,458.7 709.4,456.4 709.8,456.4 710.2,456.4 710.6,456.4 711.1,456.4 712.5,456.4 713.4,456.4 714.4,456.4 715.3,456.4 717.1,456.4 718.9,456.4 720.5,456.4 723.6,456.4 725.1,456.4 726.6,456.4 729.3,456.4 705.5,454.1 705.9,454.1 706.4,454.1 706.8,454.1 707.3,454.1 707.7,454.1 708.8,454.1 709.8,454.1 710.8,454.1 711.8,454.1 713.7,454.1 715.5,454.1 717.3,454.1 720.6,454.1 722.1,454.1 726.5,454.1 701.6,451.9 702,451.9 703,451.9 703.5,451.9 705.1,451.9 706.2,451.9 707.3,451.9 710.4,451.9 712.3,451.9 714.2,451.9 716,451.9 717.7,451.9 719.3,451.9 720.9,451.9 723.9,451.9 728.1,534.4 730.9,532.1 733.6,529.8 736.1,527.6 738.5,525.3 740.8,523 742.9,520.7 745,518.5 746.9,516.2 748.8,513.9 750.6,511.7 724.3,534.4 727.3,532.1 730.1,529.8 732.7,527.6 735.2,525.3 737.5,523 739.7,520.7 741.8,518.5 743.8,516.2 745.8,513.9 747.6,511.7 720.6,534.4 723.7,532.1 726.6,529.8 729.3,527.6 731.8,525.3 734.3,523 736.5,520.7 738.7,518.5 740.8,516.2 742.8,513.9 744.7,511.7 716.8,534.4 720.1,532.1 723.1,529.8 725.9,527.6 728.6,525.3 731.1,523 733.4,520.7 735.7,518.5 737.8,516.2 739.9,513.9 741.8,511.7 713.1,534.4 716.5,532.1 719.7,529.8 722.6,527.6 725.4,525.3 728,523 730.4,520.7 732.8,518.5 735,516.2 737.1,513.9 739.1,511.7 709.3,534.4 712.9,532.1 716.3,529.8 719.4,527.6 722.3,525.3 725,523 727.5,520.7 729.9,518.5 732.2,516.2 734.4,513.9 736.4,511.7 705.6,534.4 709.4,532.1 712.9,529.8 716.2,527.6 719.2,525.3 722,523 724.7,520.7 727.2,518.5 729.5,516.2 731.8,513.9 733.9,511.7 701.8,534.4 705.9,532.1 709.7,529.8 713.1,527.6 716.3,525.3 719.2,523 722,520.7 724.6,518.5 727,516.2 729.4,513.9 731.6,511.7 698.1,534.4 702.5,532.1 706.5,529.8 710.1,527.6 713.5,525.3 716.5,523 719.4,520.7 722.1,518.5 724.7,516.2 727.1,513.9 729.4,511.7 694.3,534.4 699.1,532.1 703.4,529.8 707.3,527.6 710.8,525.3 714.1,523 717.1,520.7 719.9,518.5 722.6,516.2 725.1,513.9 727.5,511.7 690.6,534.4 695.8,532.1 700.4,529.8 704.6,527.6 708.3,525.3 711.8,523 715,520.7 718,518.5 720.8,516.2 723.4,513.9 725.9,511.7 730.3,470 730.8,470 731.3,470 731.9,470 732.4,470 733,470 734.2,470 735.5,470 736.7,470 737.9,470 739.1,470 740.2,470 741.3,470 742.4,470 743.4,470 744.4,470 728.5,468.9 729.1,468.9 729.6,468.9 730.2,468.9 730.7,468.9 731.3,468.9 732.6,468.9 733.9,468.9 735.1,468.9 736.3,468.9 737.5,468.9 738.6,468.9 739.8,468.9 740.9,468.9 741.9,468.9 743,468.9 726.8,467.8 727.3,467.8 727.9,467.8 728.5,467.8 729,467.8 729.6,467.8 730.9,467.8 732.2,467.8 733.5,467.8 735.9,467.8 737.1,467.8 738.2,467.8 739.3,467.8 740.4,467.8 741.5,467.8 725,466.6 725.6,466.6 726.2,466.6 726.8,466.6 727.3,466.6 727.9,466.6 729.3,466.6 730.6,466.6 731.9,466.6 733.2,466.6 734.4,466.6 735.6,466.6 736.7,466.6 737.8,466.6 738.9,466.6 740,466.6 723.3,465.5 723.9,465.5 724.5,465.5 725.1,465.5 725.6,465.5 726.2,465.5 727.6,465.5 729,465.5 730.3,465.5 731.6,465.5 732.8,465.5 734,465.5 735.2,465.5 736.4,465.5 737.5,465.5 738.6,465.5 721.5,464.4 722.1,464.4 722.8,464.4 723.4,464.4 724,464.4 724.5,464.4 726,464.4 727.4,464.4 728.7,464.4 730,464.4 731.3,464.4 732.5,464.4 733.7,464.4 734.9,464.4 736,464.4 737.1,464.4 719.8,463.2 720.4,463.2 722.3,463.2 722.9,463.2 725.8,463.2 727.1,463.2 728.5,463.2 729.8,463.2 731,463.2 732.2,463.2 733.4,463.2 735.7,463.2 718.1,462.1 718.7,462.1 719.3,462.1 720,462.1 720.6,462.1 721.2,462.1 722.7,462.1 724.2,462.1 725.6,462.1 726.9,462.1 728.2,462.1 729.5,462.1 730.8,462.1 732,462.1 733.2,462.1 734.3,462.1 716.3,460.9 717,460.9 717.6,460.9 718.3,460.9 718.9,460.9 719.5,460.9 721.1,460.9 722.6,460.9 724,460.9 725.4,460.9 726.7,460.9 728.1,460.9 729.3,460.9 730.5,460.9 731.7,460.9 732.9,460.9 714.6,459.8 715.2,459.8 715.9,459.8 716.6,459.8 717.2,459.8 717.9,459.8 719.5,459.8 721,459.8 722.5,459.8 723.9,459.8 725.3,459.8 726.6,459.8 727.9,459.8 729.1,459.8 730.4,459.8 731.5,459.8 712.8,458.7 713.5,458.7 714.2,458.7 714.9,458.7 715.6,458.7 716.2,458.7 719.4,458.7 720.9,458.7 722.4,458.7 723.8,458.7 725.2,458.7 726.5,458.7 727.7,458.7 730.2,458.7 711.1,457.5 711.8,457.5 712.5,457.5 713.2,457.5 713.9,457.5 714.6,457.5 716.3,457.5 717.9,457.5 719.4,457.5 720.9,457.5 722.3,457.5 723.7,457.5 725.1,457.5 726.4,457.5 727.6,457.5 728.9,457.5 709.3,456.4 710.1,456.4 710.8,456.4 711.5,456.4 712.3,456.4 713,456.4 714.7,456.4 716.3,456.4 717.9,456.4 719.4,456.4 720.9,456.4 722.3,456.4 723.7,456.4 725,456.4 727.6,456.4 707.6,455.3 708.3,455.3 709.1,455.3 709.9,455.3 710.6,455.3 711.3,455.3 713.1,455.3 714.8,455.3 716.4,455.3 718,455.3 719.5,455.3 720.9,455.3 722.4,455.3 723.7,455.3 725,455.3 726.3,455.3 706.6,454.1 707.4,454.1 708.2,454.1 709,454.1 709.7,454.1 711.5,454.1 713.3,454.1 714.9,454.1 716.6,454.1 718.1,454.1 721,454.1 722.4,454.1 723.8,454.1 725.1,454.1 704.1,453 704.9,453 705.7,453 706.5,453 707.3,453 708.1,453 710,453 711.8,453 713.5,453 715.2,453 716.7,453 718.3,453 719.7,453 721.2,453 722.6,453 723.9,453 702.4,451.9 703.2,451.9 704,451.9 704.9,451.9 706.5,451.9 708.4,451.9 710.3,451.9 712.1,451.9 713.8,451.9 715.4,451.9 717,451.9 718.5,451.9 720,451.9 721.4,451.9 722.7,451.9 743.5,467.8 745.5,467.8 747.3,467.8 749.1,467.8 752.5,467.8 737.9,463.2 739.9,463.2 741.9,463.2 743.8,463.2 747.4,463.2 750.7,463.2 753.8,463.2 732.5,458.7 734.7,458.7 736.8,458.7 738.9,458.7 742.6,458.7 746.1,458.7 749.4,458.7 752.5,458.7 755.4,458.7 730,454.1 732.2,454.1 734.4,454.1 738.4,454.1 742.1,454.1 745.6,454.1 748.8,454.1 751.8,454.1 698.9,449.6 699.8,449.6 700.7,449.6 701.6,449.6 703.4,449.6 705.4,449.6 707.4,449.6 709.3,449.6 711.1,449.6 712.8,449.6 714.5,449.6 716.1,449.6 717.6,449.6 719.1,449.6 720.6,449.6 723.3,449.6 725.9,449.6 728.3,449.6 730.6,449.6 691.9,445 693,445 694.1,445 695.2,445 696.2,445 697.3,445 699.7,445 702,445 704.2,445 706.3,445 708.2,445 710.1,445 711.9,445 713.7,445 715.3,445 716.9,445 720,445 722.8,445 725.5,445 728,445 684.9,440.5 686.3,440.5 687.7,440.5 689.1,440.5 690.4,440.5 691.7,440.5 694.7,440.5 697.5,440.5 700.1,440.5 702.5,440.5 704.8,440.5 707,440.5 709.1,440.5 711.1,440.5 713,440.5 714.8,440.5 736,467.8 737.4,467.8 738.7,467.8 740,467.8 742.5,467.8 744.8,467.8 730.2,463.2 731.7,463.2 734.5,463.2 737.2,463.2 739.7,463.2 724.4,458.7 726,458.7 727.6,458.7 729.2,458.7 732.1,458.7 734.8,458.7 718.6,454.1 720.4,454.1 722.2,454.1 723.9,454.1 727.1,454.1 730.1,454.1 712.7,449.6 714.8,449.6 716.9,449.6 718.8,449.6 722.4,449.6 725.7,449.6 730.3,467.8 730.8,467.8 731.4,467.8 731.9,467.8 732.4,467.8 732.9,467.8 734.2,467.8 735.4,467.8 736.6,467.8 737.8,467.8 738.9,467.8 740.1,467.8 741.1,467.8 742.2,467.8 743.2,467.8 744.2,467.8 724.3,463.2 724.9,463.2 725.5,463.2 726.1,463.2 726.6,463.2 728,463.2 729.3,463.2 730.6,463.2 731.9,463.2 733.1,463.2 734.3,463.2 735.4,463.2 736.6,463.2 737.7,463.2 738.7,463.2 717.2,458.7 718.5,458.7 719.1,458.7 719.7,458.7 721.9,458.7 723.3,458.7 724.7,458.7 726.1,458.7 727.4,458.7 728.7,458.7 729.9,458.7 731.1,458.7 732.3,458.7 733.5,458.7 710.7,454.1 711.4,454.1 712.1,454.1 712.8,454.1 714.2,454.1 715.9,454.1 717.5,454.1 719,454.1 720.5,454.1 721.9,454.1 723.3,454.1 724.7,454.1 726,454.1 727.3,454.1 728.5,454.1 704.9,449.6 706.5,449.6 707.3,449.6 708.1,449.6 710,449.6 711.8,449.6 713.5,449.6 715.2,449.6 716.8,449.6 718.3,449.6 719.8,449.6 721.3,449.6 722.6,449.6 724,449.6 697.5,445 698.5,445 699.5,445 700.4,445 701.3,445 702.3,445 704.4,445 706.5,445 708.5,445 710.3,445 712.1,445 713.9,445 715.5,445 717.1,445 720.1,445 691,440.5 692.2,440.5 693.3,440.5 694.5,440.5 695.6,440.5 696.7,440.5 699.3,440.5 701.7,440.5 704,440.5 706.2,440.5 708.3,440.5 721,463.2 722.4,463.2 723.8,463.2 725.2,463.2 727.8,463.2 730.3,463.2 714.7,458.7 716.3,458.7 717.8,458.7 719.3,458.7 720.8,458.7 722.2,458.7 724.8,458.7 708.4,454.1 710.1,454.1 711.9,454.1 713.5,454.1 715.1,454.1 716.7,454.1 719.6,454.1 702,449.6 704.1,449.6 706.1,449.6 707.9,449.6 709.7,449.6 714.7,449.6 725.9,467.8 728.3,467.8 730.5,467.8 732.7,467.8 734.7,467.8 736.7,467.8 738.5,467.8 740.3,467.8 742,467.8 743.7,467.8 745.3,467.8 722.5,465.5 725,465.5 727.3,465.5 729.6,465.5 731.7,465.5 733.7,465.5 735.6,465.5 737.4,465.5 739.2,465.5 740.9,465.5 742.5,465.5 719.2,463.2 721.7,463.2 724.2,463.2 726.5,463.2 728.6,463.2 730.7,463.2 732.7,463.2 734.6,463.2 736.4,463.2 738.1,463.2 739.8,463.2 715.9,460.9 718.5,460.9 721,460.9 723.4,460.9 725.6,460.9 727.8,460.9 729.8,460.9 731.8,460.9 733.6,460.9 735.4,460.9 737.1,460.9 712.5,458.7 715.3,458.7 717.9,458.7 720.4,458.7 722.7,458.7 724.9,458.7 727,458.7 729,458.7 730.9,458.7 732.7,458.7 734.5,458.7 709.2,456.4 712.1,456.4 714.8,456.4 717.4,456.4 719.8,456.4 722.1,456.4 724.2,456.4 726.3,456.4 728.3,456.4 730.2,456.4 732,456.4 705.8,454.1 708.9,454.1 711.7,454.1 714.4,454.1 716.9,454.1 719.3,454.1 721.5,454.1 723.7,454.1 725.7,454.1 727.6,454.1 729.5,454.1 702.5,451.9 705.7,451.9 708.7,451.9 711.5,451.9 714.1,451.9 716.6,451.9 718.9,451.9 721.1,451.9 723.2,451.9 725.2,451.9 727.1,451.9 699.1,449.6 702.5,449.6 705.7,449.6 708.6,449.6 711.4,449.6 713.9,449.6 716.3,449.6 718.6,449.6 720.8,449.6 722.9,449.6 724.9,449.6 695.8,447.3 699.4,447.3 702.7,447.3 705.8,447.3 708.7,447.3 711.4,447.3 713.9,447.3 716.3,447.3 718.5,447.3 720.7,447.3 722.7,447.3 692.4,445 696.3,445 699.9,445 703.1,445 706.1,445 708.9,445 711.6,445 714.1,445 716.4,445 718.6,445 720.8,445 685.7,440.5 688,440.5 690.3,440.5 694.3,440.5 698,440.5 701.4,440.5 704.5,440.5 707.4,440.5" fill="none" stroke="none" marker-start="url(#d)" marker-mid="url(#d)" marker-end="url(#d)"/>
<path d="M672.34,435.80V539.05H767.94" fill="none" stroke="#000" stroke-width="0.507" stroke-linecap="square"/>
<path d="M677.32,539.05v2.2M699.40,539.05v2.2M721.48,539.05v2.2M743.55,539.05v2.2M765.63,539.05v2.2M672.34,534.38h-2.2M672.34,511.66h-2.2M672.34,488.93h-2.2M672.34,466.21h-2.2M672.34,443.48h-2.2" stroke="#000" stroke-width="0.6" fill="none"/>
</g>
<g>
<polyline points="48.7,643.2 48.7,642.5 48.7,641.7 48.7,641 48.7,640.3 48.7,639.6 54.4,643.2 54.4,642.9 54.4,642.7 54.4,642.5 54.4,642.2 54.4,642 54.4,641.4 54.4,640.8 54.4,640.2 54.4,639.6 54.4,638.4 54.4,637.2 54.4,636 54.4,634.8 54.4,633.6 54.4,632.4 54.4,631.2 54.4,628.9 65.6,573.2 65.6,570.8 65.6,568.4 65.6,566 65.6,563.6 65.6,561.2 65.6,558.8 65.6,556.5 65.6,554.1 65.6,551.7 65.6,549.3 76.9,614.5 76.9,609.7 76.9,605 76.9,600.2 76.9,595.4 76.9,626.5 76.9,624.1 76.9,621.7 76.9,619.3 76.9,643.2 76.9,642.7 76.9,642.2 76.9,641.7 76.9,641.3 76.9,640.8 76.9,639.6 76.9,638.4 76.9,637.2 76.9,636 76.9,634.8 76.9,633.6 76.9,632.4 76.9,631.2 76.9,630 76.9,628.9 109,643.2 109,642 109,640.8 109,639.6 109,637.2 109,634.8 109.9,633.6 109.9,632.4 109.9,631.2 109.9,630 109.9,628.9 109.9,643.2 109.9,642.7 109.9,642.2 109.9,641.7 109.9,641.3 109.9,640.8 109.9,639.6 109.9,638.4 109.9,637.2 109.9,636 109.9,634.8 110.7,643.2 110.7,642 110.7,640.8 110.7,639.6 110.7,638.4 110.7,637.2 110.7,634.8 88.1,626.5 88.1,624.1 88.1,621.7 88.1,619.3 88.1,643.2 88.1,642 88.1,640.8 88.1,638.4 88.1,636 88.1,633.6 88.1,631.2 88.1,628.9" fill="none" stroke="none" marker-start="url(#d)" marker-mid="url(#d)" marker-end="url(#d)"/>
<path d="M31.90,544.60V647.85H127.50" fill="none" stroke="#000" stroke-width="0.507" stroke-linecap="square"/>
<path d="M45.43,647.85v2.2M65.50,647.85v2.2M85.56,647.85v2.2M105.63,647.85v2.2M125.69,647.85v2.2M31.90,643.18h-2.2M31.90,619.30h-2.2M31.90,595.42h-2.2M31.90,571.54h-2.2M31.90,547.66h-2.2" stroke="#000" stroke-width="0.6" fill="none"/>
<text x="27.50" y="645.49" text-anchor="end">0</text>
<text x="27.50" y="621.61" text-anchor="end">100</text>
<text x="27.50" y="597.73" text-anchor="end">200</text>
<text x="27.50" y="573.85" text-anchor="end">300</text>
<text x="27.50" y="549.97" text-anchor="end">400</text>
<text transform="translate(11.40,596.23) rotate(-90)" text-anchor="middle">Pressure (MPa)</text>
</g>
<g>
<polyline points="154.4,643.2 154.4,642.5 154.4,641.7 154.4,641 154.4,640.3 154.4,639.6 163.9,643.2 163.9,642.9 163.9,642.7 163.9,642.5 163.9,642.2 163.9,642 163.9,641.4 163.9,640.8 163.9,640.2 163.9,639.6 163.9,638.4 163.9,637.2 163.9,636 163.9,634.8 163.9,633.6 163.9,632.4 163.9,631.2 163.9,628.9 178.8,573.2 178.8,570.8 178.8,568.4 178.8,566 178.8,563.6 178.8,561.2 178.8,558.8 178.8,556.5 178.8,554.1 178.8,551.7 178.8,549.3 190.1,614.5 190.1,609.7 190.1,605 190.1,600.2 190.1,595.4 190.1,626.5 190.1,624.1 190.1,621.7 190.1,619.3 190.1,643.2 190.1,642.7 190.1,642.2 190.1,641.7 190.1,641.3 190.1,640.8 190.1,639.6 190.1,638.4 190.1,637.2 190.1,636 190.1,634.8 190.1,633.6 190.1,632.4 190.1,631.2 190.1,630 190.1,628.9 218.5,643.2 218.5,642 218.5,640.8 218.5,639.6 218.5,637.2 218.5,634.8 215.1,633.6 215.1,632.4 215.1,631.2 215.1,630 215.1,628.9 215.1,643.2 215.1,642.7 215.1,642.2 215.1,641.7 215.1,641.3 215.1,640.8 215.1,639.6 215.1,638.4 215.1,637.2 215.1,636 215.1,634.8 211.7,643.2 211.7,642 211.7,640.8 211.7,639.6 211.7,638.4 211.7,637.2 211.7,634.8 198.9,626.5 198.9,624.1 198.9,621.7 198.9,619.3 198.9,643.2 198.9,642 198.9,640.8 198.9,638.4 198.9,636 198.9,633.6 198.9,631.2 198.9,628.9" fill="none" stroke="none" marker-start="url(#d)" marker-mid="url(#d)" marker-end="url(#d)"/>
<path d="M138.64,544.60V647.85H234.24" fill="none" stroke="#000" stroke-width="0.507" stroke-linecap="square"/>
<path d="M165.72,647.85v2.2M199.25,647.85v2.2M232.78,647.85v2.2M138.64,643.18h-2.2M138.64,619.30h-2.2M138.64,595.42h-2.2M138.64,571.54h-2.2M138.64,547.66h-2.2" stroke="#000" stroke-width="0.6" fill="none"/>
</g>
<g>
<polyline points="259.9,643.2 259.9,642.5 259.9,641.7 259.9,641 259.9,640.3 259.9,639.6 270.9,643.2 270.9,642.9 270.9,642.7 270.9,642.5 270.9,642.2 270.9,642 270.9,641.4 270.9,640.8 270.9,640.2 270.9,639.6 270.9,638.4 270.9,637.2 270.9,636 270.9,634.8 270.9,633.6 270.9,632.4 270.9,631.2 270.9,628.9 288.2,573.2 288.2,570.8 288.2,568.4 288.2,566 288.2,563.6 288.2,561.2 288.2,558.8 288.2,556.5 288.2,554.1 288.2,551.7 288.2,549.3 301.3,614.5 301.3,609.7 301.3,605 301.3,600.2 301.3,595.4 301.3,626.5 301.3,624.1 301.3,621.7 301.3,619.3 301.3,643.2 301.3,642.7 301.3,642.2 301.3,641.7 301.3,641.3 301.3,640.8 301.3,639.6 301.3,638.4 301.3,637.2 301.3,636 301.3,634.8 301.3,633.6 301.3,632.4 301.3,631.2 301.3,630 301.3,628.9 273.6,643.2 273.6,642 273.6,640.8 273.6,639.6 273.6,637.2 273.6,634.8 300.2,633.6 300.2,632.4 300.2,631.2 300.2,630 300.2,628.9 300.2,643.2 300.2,642.7 300.2,642.2 300.2,641.7 300.2,641.3 300.2,640.8 300.2,639.6 300.2,638.4 300.2,637.2 300.2,636 300.2,634.8 326.4,643.2 326.4,642 326.4,640.8 326.4,639.6 326.4,638.4 326.4,637.2 326.4,634.8 311.5,626.5 311.5,624.1 311.5,621.7 311.5,619.3 311.5,643.2 311.5,642 311.5,640.8 311.5,638.4 311.5,636 311.5,633.6 311.5,631.2 311.5,628.9" fill="none" stroke="none" marker-start="url(#d)" marker-mid="url(#d)" marker-end="url(#d)"/>
<path d="M245.38,544.60V647.85H340.98" fill="none" stroke="#000" stroke-width="0.507" stroke-linecap="square"/>
<path d="M261.49,647.85v2.2M284.67,647.85v2.2M307.86,647.85v2.2M331.04,647.85v2.2M245.38,643.18h-2.2M245.38,619.30h-2.2M245.38,595.42h-2.2M245.38,571.54h-2.2M245.38,547.66h-2.2" stroke="#000" stroke-width="0.6" fill="none"/>
</g>
<g>
<polyline points="431.6,643.2 431.6,642.5 431.6,641.7 431.6,641 431.6,640.3 431.6,639.6 421.1,643.2 421.1,642.9 421.1,642.7 421.1,642.5 421.1,642.2 421.1,642 421.1,641.4 421.1,640.8 421.1,640.2 421.1,639.6 421.1,638.4 421.1,637.2 421.1,636 421.1,634.8 421.1,633.6 421.1,632.4 421.1,631.2 421.1,628.9 404.6,573.2 404.6,570.8 404.6,568.4 404.6,566 404.6,563.6 404.6,561.2 404.6,558.8 404.6,556.5 404.6,554.1 404.6,551.7 404.6,549.3 392.2,614.5 392.2,609.7 392.2,605 392.2,600.2 392.2,595.4 392.2,626.5 392.2,624.1 392.2,621.7 392.2,619.3 392.2,643.2 392.2,642.7 392.2,642.2 392.2,641.7 392.2,641.3 392.2,640.8 392.2,639.6 392.2,638.4 392.2,637.2 392.2,636 392.2,634.8 392.2,633.6 392.2,632.4 392.2,631.2 392.2,630 392.2,628.9 369.1,643.2 369.1,642 369.1,640.8 369.1,639.6 369.1,637.2 369.1,634.8 368.7,633.6 368.7,632.4 368.7,631.2 368.7,630 368.7,628.9 368.7,643.2 368.7,642.7 368.7,642.2 368.7,641.7 368.7,641.3 368.7,640.8 368.7,639.6 368.7,638.4 368.7,637.2 368.7,636 368.7,634.8 368.3,643.2 368.3,642 368.3,640.8 368.3,639.6 368.3,638.4 368.3,637.2 368.3,634.8 382.5,626.5 382.5,624.1 382.5,621.7 382.5,619.3 382.5,643.2 382.5,642 382.5,640.8 382.5,638.4 382.5,636 382.5,633.6 382.5,631.2 382.5,628.9" fill="none" stroke="none" marker-start="url(#d)" marker-mid="url(#d)" marker-end="url(#d)"/>
<path d="M352.12,544.60V647.85H447.72" fill="none" stroke="#000" stroke-width="0.507" stroke-linecap="square"/>
<path d="M366.76,647.85v2.2M398.46,647.85v2.2M430.17,647.85v2.2M352.12,643.18h-2.2M352.12,619.30h-2.2M352.12,595.42h-2.2M352.12,571.54h-2.2M352.12,547.66h-2.2" stroke="#000" stroke-width="0.6" fill="none"/>
</g>
<g>
<polyline points="522.3,641 522.3,640.3 523.9,641 523.9,640.3 525.5,641 525.5,640.3 527.1,641 527.1,640.3 528.8,641 528.8,640.3 530.4,641 530.4,640.3 520.7,642.9 520.7,642.5 520.7,641.4 520.7,640.2 522.3,642.9 522.3,642.5 522.3,642 522.3,641.4 522.3,640.2 523.9,642.9 523.9,642.5 523.9,641.4 523.9,640.2 525.5,642.9 525.5,642.5 525.5,642 525.5,641.4 525.5,640.2 527.1,642.9 527.1,642.5 527.1,641.4 527.1,640.2 528.8,642.9 528.8,642.5 528.8,642 528.8,641.4 528.8,640.2 530.4,642.9 530.4,642.5 530.4,641.4 530.4,640.2 532,642.9 532,642.5 532,642 532,641.4 532,640.2 473.2,573.2 474.8,573.2 476.5,573.2 478.1,573.2 479.7,573.2 481.3,573.2 482.9,573.2 484.5,573.2 486.2,573.2 487.8,573.2 489.4,573.2 473.2,570.8 474.8,570.8 476.5,570.8 478.1,570.8 479.7,570.8 481.3,570.8 482.9,570.8 484.5,570.8 486.2,570.8 487.8,570.8 489.4,570.8 473.2,568.4 474.8,568.4 476.5,568.4 478.1,568.4 479.7,568.4 481.3,568.4 482.9,568.4 484.5,568.4 486.2,568.4 487.8,568.4 489.4,568.4 473.2,566 474.8,566 476.5,566 478.1,566 479.7,566 481.3,566 482.9,566 484.5,566 486.2,566 487.8,566 489.4,566 473.2,563.6 474.8,563.6 476.5,563.6 478.1,563.6 479.7,563.6 481.3,563.6 482.9,563.6 484.5,563.6 486.2,563.6 487.8,563.6 489.4,563.6 473.2,561.2 474.8,561.2 476.5,561.2 478.1,561.2 479.7,561.2 481.3,561.2 482.9,561.2 484.5,561.2 486.2,561.2 487.8,561.2 489.4,561.2 473.2,558.8 474.8,558.8 476.5,558.8 478.1,558.8 479.7,558.8 481.3,558.8 482.9,558.8 484.5,558.8 486.2,558.8 487.8,558.8 489.4,558.8 473.2,556.5 474.8,556.5 476.5,556.5 478.1,556.5 479.7,556.5 481.3,556.5 482.9,556.5 484.5,556.5 486.2,556.5 487.8,556.5 489.4,556.5 473.2,554.1 474.8,554.1 476.5,554.1 478.1,554.1 479.7,554.1 481.3,554.1 482.9,554.1 484.5,554.1 486.2,554.1 487.8,554.1 489.4,554.1 473.2,551.7 474.8,551.7 476.5,551.7 478.1,551.7 479.7,551.7 481.3,551.7 482.9,551.7 484.5,551.7 486.2,551.7 487.8,551.7 489.4,551.7 473.2,549.3 474.8,549.3 476.5,549.3 478.1,549.3 479.7,549.3 481.3,549.3 482.9,549.3 484.5,549.3 486.2,549.3 487.8,549.3 489.4,549.3 519,643.2 519,642.7 519,642.2 519,641.7 519,641.3 519,640.8 519,639.6 519,638.4 519,637.2 519,636 519,634.8 519,633.6 519,632.4 519,631.2 519,630 519,628.9 519.9,643.2 519.9,642.7 519.9,642.2 519.9,641.7 519.9,641.3 519.9,640.8 519.9,639.6 519.9,638.4 519.9,637.2 519.9,636 519.9,634.8 519.9,633.6 519.9,632.4 519.9,631.2 519.9,630 519.9,628.9 521.5,643.2 521.5,642.7 521.5,642.2 521.5,641.7 521.5,641.3 521.5,640.8 521.5,639.6 521.5,638.4 521.5,637.2 521.5,636 521.5,634.8 521.5,633.6 521.5,632.4 521.5,631.2 521.5,630 521.5,628.9 522.3,642.7 522.3,642.2 522.3,641.7 522.3,641.3 522.3,639.6 522.3,637.2 522.3,634.8 522.3,632.4 522.3,630 523.1,643.2 523.1,642.7 523.1,642.2 523.1,641.7 523.1,641.3 523.1,640.8 523.1,639.6 523.1,638.4 523.1,637.2 523.1,636 523.1,634.8 523.1,633.6 523.1,632.4 523.1,631.2 523.1,630 523.1,628.9 524.7,643.2 524.7,642.7 524.7,642.2 524.7,641.7 524.7,641.3 524.7,640.8 524.7,639.6 524.7,638.4 524.7,637.2 524.7,636 524.7,634.8 524.7,633.6 524.7,632.4 524.7,631.2 524.7,630 524.7,628.9 525.5,642.7 525.5,642.2 525.5,641.7 525.5,641.3 525.5,639.6 525.5,637.2 525.5,634.8 525.5,632.4 525.5,630 526.3,643.2 526.3,642.7 526.3,642.2 526.3,641.7 526.3,641.3 526.3,640.8 526.3,639.6 526.3,638.4 526.3,637.2 526.3,636 526.3,634.8 526.3,633.6 526.3,632.4 526.3,631.2 526.3,630 526.3,628.9 527.9,643.2 527.9,642.7 527.9,642.2 527.9,641.7 527.9,641.3 527.9,640.8 527.9,639.6 527.9,638.4 527.9,637.2 527.9,636 527.9,634.8 527.9,633.6 527.9,632.4 527.9,631.2 527.9,630 527.9,628.9 528.8,642.7 528.8,642.2 528.8,641.7 528.8,641.3 528.8,639.6 528.8,637.2 528.8,634.8 528.8,632.4 528.8,630 529.6,643.2 529.6,642.7 529.6,642.2 529.6,641.7 529.6,641.3 529.6,640.8 529.6,639.6 529.6,638.4 529.6,637.2 529.6,636 529.6,634.8 529.6,633.6 529.6,632.4 529.6,631.2 529.6,630 529.6,628.9 531.2,643.2 531.2,642.7 531.2,642.2 531.2,641.7 531.2,641.3 531.2,640.8 531.2,639.6 531.2,638.4 531.2,637.2 531.2,636 531.2,634.8 531.2,633.6 531.2,632.4 531.2,631.2 531.2,630 531.2,628.9 532,642.7 532,642.2 532,641.7 532,641.3 532,639.6 532,637.2 532,634.8 532,632.4 532,630 520.7,614.5 523.9,614.5 523.9,609.7 523.9,605 527.1,614.5 527.1,609.7 527.1,605 527.1,600.2 527.1,595.4 530.4,614.5 530.4,609.7 530.4,605 530.4,600.2 530.4,595.4 540.1,632.4 540.1,630 520.7,642 520.7,642.7 520.7,642.2 520.7,641.7 520.7,641.3 520.7,639.6 520.7,637.2 520.7,634.8 520.7,632.4 520.7,630 523.9,642.7 523.9,642.2 523.9,641.7 523.9,641.3 523.9,632.4 523.9,630 527.1,642.7 527.1,642.2 527.1,641.7 527.1,641.3 527.1,632.4 527.1,630 530.4,642.7 530.4,642.2 530.4,641.7 530.4,641.3 530.4,632.4 530.4,630 533.6,642.7 533.6,642.2 533.6,641.7 533.6,641.3 533.6,632.4 533.6,630 536.8,642.7 536.8,642.2 536.8,641.7 536.8,641.3 536.8,639.6 536.8,637.2 536.8,634.8 536.8,632.4 536.8,630 540.1,642.7 540.1,642.2 540.1,641.7 540.1,641.3 540.1,639.6 540.1,637.2 540.1,634.8 523.9,642 523.9,639.6 523.9,637.2 523.9,634.8 527.1,642 527.1,639.6 527.1,637.2 527.1,634.8 530.4,642 530.4,639.6 530.4,637.2 530.4,634.8 533.6,642 533.6,639.6 533.6,637.2 533.6,634.8 520.7,643.2 520.7,640.8 520.7,638.4 520.7,636 520.7,633.6 520.7,631.2 520.7,628.9 520.7,626.5 520.7,624.1 520.7,621.7 520.7,619.3 522.3,643.2 522.3,640.8 522.3,638.4 522.3,636 522.3,633.6 522.3,631.2 522.3,628.9 522.3,626.5 522.3,624.1 522.3,621.7 522.3,619.3 523.9,643.2 523.9,640.8 523.9,638.4 523.9,636 523.9,633.6 523.9,631.2 523.9,628.9 523.9,626.5 523.9,624.1 523.9,621.7 523.9,619.3 525.5,643.2 525.5,640.8 525.5,638.4 525.5,636 525.5,633.6 525.5,631.2 525.5,628.9 525.5,626.5 525.5,624.1 525.5,621.7 525.5,619.3 527.1,643.2 527.1,640.8 527.1,638.4 527.1,636 527.1,633.6 527.1,631.2 527.1,628.9 527.1,626.5 527.1,624.1 527.1,621.7 527.1,619.3 528.8,643.2 528.8,640.8 528.8,638.4 528.8,636 528.8,633.6 528.8,631.2 528.8,628.9 528.8,626.5 528.8,624.1 528.8,621.7 528.8,619.3 530.4,643.2 530.4,640.8 530.4,638.4 530.4,636 530.4,633.6 530.4,631.2 530.4,628.9 530.4,626.5 530.4,624.1 530.4,621.7 530.4,619.3 532,643.2 532,640.8 532,638.4 532,636 532,633.6 532,631.2 532,628.9 532,626.5 532,624.1 532,621.7 532,619.3 533.6,643.2 533.6,640.8 533.6,638.4 533.6,636 533.6,633.6 533.6,631.2 533.6,628.9 533.6,626.5 533.6,624.1 533.6,621.7 533.6,619.3 535.2,643.2 535.2,640.8 535.2,638.4 535.2,636 535.2,633.6 535.2,631.2 535.2,628.9 535.2,626.5 535.2,624.1 535.2,621.7 535.2,619.3 536.8,643.2 536.8,640.8 536.8,638.4 536.8,636 536.8,633.6 536.8,631.2 536.8,628.9 536.8,626.5 536.8,624.1 536.8,621.7 536.8,619.3 540.1,643.2 540.1,642 540.1,640.8 540.1,638.4 540.1,636 540.1,633.6 540.1,631.2 540.1,628.9" fill="none" stroke="none" marker-start="url(#d)" marker-mid="url(#d)" marker-end="url(#d)"/>
<path d="M458.86,544.60V647.85H554.46" fill="none" stroke="#000" stroke-width="0.507" stroke-linecap="square"/>
<path d="M473.22,647.85v2.2M505.59,647.85v2.2M537.96,647.85v2.2M458.86,643.18h-2.2M458.86,619.30h-2.2M458.86,595.42h-2.2M458.86,571.54h-2.2M458.86,547.66h-2.2" stroke="#000" stroke-width="0.6" fill="none"/>
</g>
<g>
<path d="M565.60,544.60V647.85H661.20" fill="none" stroke="#000" stroke-width="0.507" stroke-linecap="square"/>
<clipPath id="c5"><rect x="565.60" y="544.60" width="95.6" height="103.25"/></clipPath>
<path d="M569.95,647.41 569.95,647.85 570.38,647.85 570.82,647.85 571.26,647.85 571.69,647.85 572.13,647.85 572.57,647.85 573.00,647.85 573.44,647.85 573.88,647.85 574.31,647.85 574.75,647.85 575.19,647.85 575.62,647.85 576.06,647.85 576.50,647.85 576.93,647.85 577.37,647.85 577.81,647.85 578.24,647.85 578.68,647.85 579.12,647.85 579.55,647.85 579.99,647.85 580.43,647.85 580.86,647.85 581.30,647.85 581.74,647.85 582.17,647.85 582.61,647.85 583.05,647.85 583.48,647.85 583.92,647.85 584.36,647.85 584.79,647.85 585.23,647.85 585.67,647.85 586.10,647.85 586.54,647.85 586.98,647.85 587.41,647.85 587.85,647.85 588.29,647.85 588.72,647.85 589.16,647.85 589.60,647.85 590.03,647.85 590.47,647.85 590.91,647.85 591.35,647.85 591.78,647.85 592.22,647.85 592.66,647.85 593.09,647.85 593.53,647.85 593.97,647.85 594.40,647.85 594.84,647.85 595.28,647.85 595.71,647.85 596.15,647.85 596.59,647.85 597.02,647.85 597.46,647.85 597.90,647.85 598.33,647.85 598.77,647.85 599.21,647.85 599.64,647.85 600.08,647.85 600.52,647.85 600.95,647.85 601.39,647.85 601.83,647.85 602.26,647.85 602.70,647.85 603.14,647.85 603.57,647.85 604.01,647.85 604.45,647.85 604.88,647.85 605.32,647.85 605.76,647.85 606.19,647.85 606.63,647.85 607.07,647.85 607.50,647.85 607.94,647.85 608.38,647.85 608.81,647.85 609.25,647.85 609.69,647.85 610.12,647.85 610.56,647.85 611.00,647.85 611.43,647.85 611.87,647.85 612.31,647.85 612.74,647.85 613.18,647.85 613.62,647.85 614.06,647.85 614.49,647.85 614.93,647.85 615.37,647.85 615.80,647.85 616.24,647.85 616.68,647.85 617.11,647.85 617.55,647.85 617.99,647.85 618.42,647.85 618.86,647.85 619.30,647.85 619.73,647.85 620.17,647.85 620.61,647.85 621.04,647.85 621.48,647.85 621.92,647.85 622.35,647.85 622.79,647.85 623.23,647.85 623.66,647.85 624.10,647.85 624.54,647.85 624.97,647.85 625.41,647.85 625.85,647.85 626.28,647.85 626.72,647.85 627.16,647.85 627.59,647.85 628.03,647.85 628.47,647.85 628.90,647.85 629.34,647.85 629.78,647.85 630.21,647.85 630.65,647.85 631.09,647.85 631.52,647.85 631.96,647.85 632.40,647.85 632.83,647.85 633.27,647.85 633.71,647.85 634.14,647.85 634.58,647.85 635.02,647.85 635.45,647.85 635.89,647.85 636.33,647.85 636.77,647.85 637.20,647.85 637.64,647.85 638.08,647.85 638.51,647.85 638.95,647.85 639.39,647.85 639.82,647.85 640.26,647.85 640.70,647.85 641.13,647.85 641.57,647.85 642.01,647.85 642.44,647.85 642.88,647.85 643.32,647.85 643.75,647.85 644.19,647.85 644.63,647.85 645.06,647.85 645.50,647.85 645.94,647.85 646.37,647.85 646.81,647.85 647.25,647.85 647.68,647.85 648.12,647.85 648.56,647.85 648.99,647.85 649.43,647.85 649.87,647.85 650.30,647.85 650.74,647.85 651.18,647.85 651.61,647.85 652.05,647.85 652.49,647.85 652.92,647.85 653.36,647.85 653.80,647.85 654.23,647.85 654.67,647.85 655.11,647.85 655.54,647.85 655.98,647.85 656.42,647.85 656.85,647.85 656.85,647.83 656.85,647.83 656.42,647.82 655.98,647.81 655.54,647.79 655.11,647.77 654.67,647.75 654.23,647.71 653.80,647.66 653.36,647.60 652.92,647.53 652.49,647.44 652.05,647.33 651.61,647.20 651.18,647.04 650.74,646.86 650.30,646.66 649.87,646.43 649.43,646.17 648.99,645.89 648.56,645.59 648.12,645.26 647.68,644.93 647.25,644.58 646.81,644.22 646.37,643.86 645.94,643.51 645.50,643.16 645.06,642.83 644.63,642.51 644.19,642.21 643.75,641.94 643.32,641.69 642.88,641.47 642.44,641.28 642.01,641.11 641.57,640.96 641.13,640.84 640.70,640.74 640.26,640.65 639.82,640.59 639.39,640.54 638.95,640.50 638.51,640.47 638.08,640.46 637.64,640.45 637.20,640.45 636.77,640.47 636.33,640.49 635.89,640.53 635.45,640.58 635.02,640.64 634.58,640.72 634.14,640.81 633.71,640.93 633.27,641.07 632.83,641.24 632.40,641.43 631.96,641.64 631.52,641.88 631.09,642.15 630.65,642.44 630.21,642.75 629.78,643.08 629.34,643.43 628.90,643.78 628.47,644.14 628.03,644.50 627.59,644.85 627.16,645.19 626.72,645.52 626.28,645.82 625.85,646.11 625.41,646.37 624.97,646.61 624.54,646.82 624.10,647.00 623.66,647.16 623.23,647.29 622.79,647.40 622.35,647.49 621.92,647.56 621.48,647.62 621.04,647.66 620.61,647.68 620.17,647.70 619.73,647.71 619.30,647.71 618.86,647.70 618.42,647.68 617.99,647.66 617.55,647.64 617.11,647.61 616.68,647.58 616.24,647.55 615.80,647.51 615.37,647.48 614.93,647.44 614.49,647.40 614.06,647.37 613.62,647.33 613.18,647.29 612.74,647.26 612.31,647.22 611.87,647.19 611.43,647.16 611.00,647.12 610.56,647.09 610.12,647.06 609.69,647.02 609.25,646.99 608.81,646.95 608.38,646.90 607.94,646.86 607.50,646.80 607.07,646.74 606.63,646.67 606.19,646.59 605.76,646.50 605.32,646.39 604.88,646.26 604.45,646.11 604.01,645.93 603.57,645.73 603.14,645.49 602.70,645.23 602.26,644.92 601.83,644.57 601.39,644.17 600.95,643.72 600.52,643.22 600.08,642.64 599.64,642.00 599.21,641.27 598.77,640.44 598.33,639.49 597.90,638.42 597.46,637.19 597.02,635.79 596.59,634.19 596.15,632.38 595.71,630.31 595.28,627.98 594.84,625.37 594.40,622.46 593.97,619.26 593.53,615.76 593.09,611.99 592.66,607.97 592.22,603.74 591.78,599.34 591.35,594.84 590.91,590.28 590.47,585.73 590.03,581.27 589.60,576.94 589.16,572.80 588.72,568.90 588.29,565.29 587.85,561.99 587.41,559.04 586.98,556.45 586.54,554.23 586.10,552.41 585.67,551.01 585.23,550.04 584.79,549.54 584.36,549.52 583.92,550.02 583.48,551.07 583.05,552.69 582.61,554.91 582.17,557.72 581.74,561.12 581.30,565.08 580.86,569.55 580.43,574.46 579.99,579.73 579.55,585.27 579.12,590.96 578.68,596.70 578.24,602.38 577.81,607.89 577.37,613.15 576.93,618.08 576.50,622.62 576.06,626.73 575.62,630.40 575.19,633.61 574.75,636.38 574.31,638.73 573.88,640.69 573.44,642.31 573.00,643.61 572.57,644.66 572.13,645.47 571.69,646.11 571.26,646.59 570.82,646.95 570.38,647.21 569.95,647.41 569.95,647.41Z" clip-path="url(#c5)" fill="#1f77b4" fill-opacity="0.25" stroke="#1f77b4" stroke-width="0.95" stroke-linejoin="round"/>
<path d="M580.94,647.85v2.2M613.96,647.85v2.2M646.97,647.85v2.2M565.60,643.18h-2.2M565.60,619.30h-2.2M565.60,595.42h-2.2M565.60,571.54h-2.2M565.60,547.66h-2.2" stroke="#000" stroke-width="0.6" fill="none"/>
</g>
<g>
<polyline points="730,642.5 731.1,641.7 732.1,641 733.1,640.3 734.1,639.6 724.2,643.2 725.3,642.5 726.4,641.7 727.5,641 728.6,640.3 729.6,639.6 719.4,643.2 720.6,642.5 721.8,641.7 722.9,641 724.1,640.3 715.9,642.5 717.2,641.7 718.4,641 719.6,640.3 720.8,639.6 709.9,643.2 711.3,642.5 712.6,641.7 713.9,641 715.2,640.3 716.4,639.6 705.1,643.2 706.6,642.5 708.1,641.7 709.5,641 710.8,640.3 712.2,639.6 729,643.2 729.3,642.9 729.6,642.7 729.9,642.5 730.2,642.2 730.5,642 731.3,641.4 732.1,640.8 732.8,640.2 733.5,639.6 735,638.4 736.3,637.2 737.7,636 739,634.8 741.5,632.4 742.6,631.2 744.9,628.9 725.1,643.2 725.4,642.9 725.7,642.7 726,642.5 726.4,642.2 726.7,642 727.5,641.4 729.1,640.2 729.8,639.6 731.3,638.4 732.7,637.2 734.1,636 735.5,634.8 736.8,633.6 738.1,632.4 741.7,628.9 721.2,643.2 721.5,642.9 721.8,642.7 722.2,642.5 722.5,642.2 722.9,642 723.7,641.4 725.4,640.2 726.2,639.6 727.7,638.4 729.2,637.2 730.6,636 732,634.8 733.4,633.6 734.7,632.4 736,631.2 738.4,628.9 717.6,642.9 718,642.7 718.3,642.5 718.7,642.2 719.1,642 719.9,641.4 720.8,640.8 721.7,640.2 722.5,639.6 724.1,638.4 725.7,637.2 727.2,636 728.7,634.8 730.1,633.6 731.4,632.4 732.8,631.2 735.3,628.9 713.3,643.2 713.7,642.9 714.1,642.7 714.5,642.5 714.9,642.2 715.2,642 716.2,641.4 717.1,640.8 718,640.2 718.9,639.6 720.6,638.4 723.8,636 726.8,633.6 728.2,632.4 729.6,631.2 732.2,628.9 709.4,643.2 709.8,642.9 710.2,642.7 710.6,642.5 711.1,642.2 711.5,642 712.5,641.4 713.4,640.8 714.4,640.2 715.3,639.6 717.1,638.4 718.9,637.2 722.1,634.8 723.6,633.6 726.6,631.2 729.3,628.9 705.5,643.2 705.9,642.9 706.4,642.7 706.8,642.5 707.3,642.2 707.7,642 708.8,641.4 709.8,640.8 710.8,640.2 711.8,639.6 713.7,638.4 715.5,637.2 717.3,636 719,634.8 720.6,633.6 722.1,632.4 726.5,628.9 701.6,643.2 702,642.9 702.5,642.7 703,642.5 703.5,642.2 704,642 705.1,641.4 706.2,640.8 707.3,640.2 710.4,638.4 712.3,637.2 714.2,636 716,634.8 717.7,633.6 719.3,632.4 720.9,631.2 728.1,573.2 730.9,573.2 733.6,573.2 736.1,573.2 738.5,573.2 740.8,573.2 742.9,573.2 745,573.2 746.9,573.2 748.8,573.2 750.6,573.2 724.3,570.8 727.3,570.8 730.1,570.8 732.7,570.8 735.2,570.8 737.5,570.8 739.7,570.8 741.8,570.8 743.8,570.8 745.8,570.8 747.6,570.8 720.6,568.4 723.7,568.4 726.6,568.4 729.3,568.4 731.8,568.4 734.3,568.4 736.5,568.4 738.7,568.4 740.8,568.4 742.8,568.4 744.7,568.4 716.8,566 720.1,566 723.1,566 725.9,566 728.6,566 731.1,566 733.4,566 735.7,566 737.8,566 739.9,566 741.8,566 713.1,563.6 716.5,563.6 719.7,563.6 722.6,563.6 725.4,563.6 728,563.6 730.4,563.6 732.8,563.6 735,563.6 737.1,563.6 739.1,563.6 709.3,561.2 712.9,561.2 716.3,561.2 719.4,561.2 722.3,561.2 725,561.2 727.5,561.2 729.9,561.2 732.2,561.2 734.4,561.2 736.4,561.2 705.6,558.8 709.4,558.8 712.9,558.8 716.2,558.8 719.2,558.8 722,558.8 724.7,558.8 727.2,558.8 729.5,558.8 731.8,558.8 733.9,558.8 701.8,556.5 705.9,556.5 709.7,556.5 713.1,556.5 716.3,556.5 719.2,556.5 722,556.5 724.6,556.5 727,556.5 729.4,556.5 731.6,556.5 698.1,554.1 702.5,554.1 706.5,554.1 710.1,554.1 713.5,554.1 716.5,554.1 719.4,554.1 722.1,554.1 724.7,554.1 727.1,554.1 729.4,554.1 694.3,551.7 699.1,551.7 703.4,551.7 707.3,551.7 710.8,551.7 714.1,551.7 717.1,551.7 719.9,551.7 722.6,551.7 725.1,551.7 727.5,551.7 690.6,549.3 695.8,549.3 700.4,549.3 704.6,549.3 708.3,549.3 711.8,549.3 715,549.3 718,549.3 720.8,549.3 723.4,549.3 725.9,549.3 731.3,642.2 733,640.8 735.5,638.4 736.7,637.2 737.9,636 739.1,634.8 740.2,633.6 741.3,632.4 742.4,631.2 743.4,630 744.4,628.9 728.5,643.2 729.1,642.7 729.6,642.2 730.2,641.7 730.7,641.3 731.3,640.8 732.6,639.6 733.9,638.4 735.1,637.2 736.3,636 737.5,634.8 738.6,633.6 739.8,632.4 740.9,631.2 741.9,630 743,628.9 726.8,643.2 727.3,642.7 727.9,642.2 728.5,641.7 729,641.3 729.6,640.8 730.9,639.6 732.2,638.4 733.5,637.2 734.7,636 735.9,634.8 737.1,633.6 738.2,632.4 739.3,631.2 740.4,630 741.5,628.9 725,643.2 725.6,642.7 726.2,642.2 726.8,641.7 727.3,641.3 727.9,640.8 729.3,639.6 730.6,638.4 731.9,637.2 733.2,636 734.4,634.8 735.6,633.6 736.7,632.4 737.8,631.2 738.9,630 740,628.9 723.3,643.2 723.9,642.7 724.5,642.2 725.1,641.7 725.6,641.3 726.2,640.8 727.6,639.6 729,638.4 730.3,637.2 731.6,636 732.8,634.8 734,633.6 735.2,632.4 736.4,631.2 737.5,630 738.6,628.9 721.5,643.2 722.1,642.7 722.8,642.2 723.4,641.7 724,641.3 724.5,640.8 726,639.6 727.4,638.4 728.7,637.2 730,636 731.3,634.8 732.5,633.6 733.7,632.4 734.9,631.2 736,630 737.1,628.9 719.8,643.2 720.4,642.7 721,642.2 721.7,641.7 722.3,641.3 722.9,640.8 724.3,639.6 725.8,638.4 728.5,636 729.8,634.8 731,633.6 732.2,632.4 733.4,631.2 734.6,630 735.7,628.9 718.1,643.2 718.7,642.7 719.3,642.2 720,641.7 720.6,641.3 721.2,640.8 722.7,639.6 725.6,637.2 726.9,636 728.2,634.8 729.5,633.6 730.8,632.4 732,631.2 733.2,630 734.3,628.9 716.3,643.2 717,642.7 717.6,642.2 718.3,641.7 718.9,641.3 719.5,640.8 721.1,639.6 722.6,638.4 724,637.2 725.4,636 726.7,634.8 728.1,633.6 729.3,632.4 730.5,631.2 731.7,630 732.9,628.9 714.6,643.2 715.2,642.7 715.9,642.2 716.6,641.7 717.2,641.3 717.9,640.8 719.5,639.6 722.5,637.2 723.9,636 725.3,634.8 726.6,633.6 727.9,632.4 729.1,631.2 730.4,630 731.5,628.9 712.8,643.2 713.5,642.7 714.2,642.2 714.9,641.7 715.6,641.3 716.2,640.8 717.9,639.6 719.4,638.4 720.9,637.2 722.4,636 723.8,634.8 725.2,633.6 726.5,632.4 727.7,631.2 729,630 730.2,628.9 711.1,643.2 711.8,642.7 712.5,642.2 713.2,641.7 713.9,641.3 714.6,640.8 716.3,639.6 719.4,637.2 720.9,636 722.3,634.8 723.7,633.6 725.1,632.4 726.4,631.2 727.6,630 728.9,628.9 709.3,643.2 710.1,642.7 710.8,642.2 711.5,641.7 712.3,641.3 713,640.8 714.7,639.6 716.3,638.4 717.9,637.2 719.4,636 720.9,634.8 722.3,633.6 723.7,632.4 725,631.2 726.3,630 727.6,628.9 707.6,643.2 708.3,642.7 709.1,642.2 709.9,641.7 710.6,641.3 711.3,640.8 713.1,639.6 716.4,637.2 718,636 719.5,634.8 720.9,633.6 722.4,632.4 723.7,631.2 725,630 726.3,628.9 706.6,642.7 707.4,642.2 708.2,641.7 709,641.3 709.7,640.8 711.5,639.6 713.3,638.4 714.9,637.2 716.6,636 718.1,634.8 719.6,633.6 721,632.4 722.4,631.2 723.8,630 725.1,628.9 716.7,634.8 719.7,632.4 721.2,631.2 723.9,628.9 702.4,643.2 703.2,642.7 704,642.2 704.9,641.7 705.7,641.3 706.5,640.8 708.4,639.6 710.3,638.4 712.1,637.2 713.8,636 715.4,634.8 717,633.6 718.5,632.4 720,631.2 721.4,630 722.7,628.9 743.5,626.5 745.5,624.1 747.3,621.7 749.1,619.3 752.5,614.5 737.9,626.5 739.9,624.1 741.9,621.7 743.8,619.3 747.4,614.5 750.7,609.7 753.8,605 732.5,626.5 734.7,624.1 736.8,621.7 738.9,619.3 742.6,614.5 746.1,609.7 749.4,605 752.5,600.2 755.4,595.4 727.6,626.5 730,624.1 732.2,621.7 734.4,619.3 738.4,614.5 742.1,609.7 745.6,605 748.8,600.2 751.8,595.4 698.9,643.2 699.8,642.7 700.7,642.2 701.6,641.7 702.5,641.3 703.4,640.8 705.4,639.6 707.4,638.4 709.3,637.2 711.1,636 712.8,634.8 714.5,633.6 716.1,632.4 717.6,631.2 719.1,630 720.6,628.9 723.3,626.5 725.9,624.1 728.3,621.7 730.6,619.3 691.9,643.2 693,642.7 694.1,642.2 695.2,641.7 696.2,641.3 697.3,640.8 699.7,639.6 702,638.4 704.2,637.2 706.3,636 708.2,634.8 710.1,633.6 711.9,632.4 713.7,631.2 715.3,630 716.9,628.9 720,626.5 722.8,624.1 725.5,621.7 728,619.3 684.9,643.2 686.3,642.7 687.7,642.2 689.1,641.7 690.4,641.3 691.7,640.8 694.7,639.6 697.5,638.4 700.1,637.2 702.5,636 704.8,634.8 707,633.6 709.1,632.4 711.1,631.2 713,630 714.8,628.9 736,643.2 737.4,642 738.7,640.8 740,639.6 742.5,637.2 744.8,634.8 730.2,643.2 731.7,642 733.1,640.8 734.5,639.6 737.2,637.2 739.7,634.8 724.4,643.2 726,642 727.6,640.8 729.2,639.6 732.1,637.2 734.8,634.8 718.6,643.2 720.4,642 722.2,640.8 723.9,639.6 727.1,637.2 730.1,634.8 712.7,643.2 714.8,642 716.9,640.8 718.8,639.6 722.4,637.2 725.7,634.8 730.3,643.2 730.8,642.7 731.4,642.2 731.9,641.7 732.4,641.3 732.9,640.8 734.2,639.6 735.4,638.4 736.6,637.2 737.8,636 738.9,634.8 740.1,633.6 741.1,632.4 742.2,631.2 743.2,630 744.2,628.9 723.8,643.2 724.3,642.7 724.9,642.2 725.5,641.7 726.1,641.3 726.6,640.8 728,639.6 729.3,638.4 730.6,637.2 731.9,636 733.1,634.8 734.3,633.6 735.4,632.4 736.6,631.2 737.7,630 738.7,628.9 717.2,643.2 717.8,642.7 718.5,642.2 719.1,641.7 719.7,641.3 720.4,640.8 721.9,639.6 723.3,638.4 724.7,637.2 726.1,636 727.4,634.8 728.7,633.6 729.9,632.4 731.1,631.2 732.3,630 733.5,628.9 710.7,643.2 711.4,642.7 712.1,642.2 712.8,641.7 713.5,641.3 714.2,640.8 715.9,639.6 717.5,638.4 719,637.2 720.5,636 721.9,634.8 723.3,633.6 724.7,632.4 726,631.2 727.3,630 728.5,628.9 704.1,643.2 704.9,642.7 705.7,642.2 706.5,641.7 707.3,641.3 708.1,640.8 710,639.6 711.8,638.4 713.5,637.2 715.2,636 716.8,634.8 718.3,633.6 719.8,632.4 721.3,631.2 722.6,630 724,628.9 697.5,643.2 698.5,642.7 699.5,642.2 700.4,641.7 701.3,641.3 702.3,640.8 704.4,639.6 706.5,638.4 708.5,637.2 710.3,636 712.1,634.8 713.9,633.6 715.5,632.4 717.1,631.2 718.6,630 720.1,628.9 691,643.2 692.2,642.7 693.3,642.2 694.5,641.7 695.6,641.3 696.7,640.8 699.3,639.6 701.7,638.4 704,637.2 706.2,636 708.3,634.8 721,643.2 722.4,642 723.8,640.8 725.2,639.6 726.5,638.4 727.8,637.2 730.3,634.8 714.7,643.2 716.3,642 717.8,640.8 719.3,639.6 720.8,638.4 722.2,637.2 724.8,634.8 708.4,643.2 710.1,642 711.9,640.8 713.5,639.6 715.1,638.4 716.7,637.2 719.6,634.8 702,643.2 704.1,642 706.1,640.8 707.9,639.6 709.7,638.4 711.4,637.2 714.7,634.8 725.9,643.2 728.3,640.8 730.5,638.4 732.7,636 734.7,633.6 736.7,631.2 738.5,628.9 740.3,626.5 742,624.1 743.7,621.7 745.3,619.3 722.5,643.2 725,640.8 727.3,638.4 729.6,636 731.7,633.6 733.7,631.2 735.6,628.9 737.4,626.5 739.2,624.1 740.9,621.7 742.5,619.3 719.2,643.2 721.7,640.8 724.2,638.4 726.5,636 728.6,633.6 730.7,631.2 732.7,628.9 734.6,626.5 736.4,624.1 738.1,621.7 739.8,619.3 715.9,643.2 718.5,640.8 721,638.4 723.4,636 725.6,633.6 727.8,631.2 729.8,628.9 731.8,626.5 733.6,624.1 735.4,621.7 737.1,619.3 712.5,643.2 715.3,640.8 717.9,638.4 720.4,636 722.7,633.6 724.9,631.2 727,628.9 729,626.5 730.9,624.1 732.7,621.7 734.5,619.3 709.2,643.2 712.1,640.8 714.8,638.4 717.4,636 719.8,633.6 722.1,631.2 724.2,628.9 726.3,626.5 728.3,624.1 730.2,621.7 732,619.3 705.8,643.2 708.9,640.8 711.7,638.4 714.4,636 716.9,633.6 719.3,631.2 721.5,628.9 723.7,626.5 725.7,624.1 727.6,621.7 729.5,619.3 702.5,643.2 705.7,640.8 708.7,638.4 711.5,636 714.1,633.6 716.6,631.2 718.9,628.9 721.1,626.5 723.2,624.1 725.2,621.7 727.1,619.3 699.1,643.2 702.5,640.8 705.7,638.4 708.6,636 711.4,633.6 713.9,631.2 716.3,628.9 718.6,626.5 720.8,624.1 722.9,621.7 724.9,619.3 695.8,643.2 699.4,640.8 702.7,638.4 705.8,636 708.7,633.6 711.4,631.2 713.9,628.9 716.3,626.5 718.5,624.1 720.7,621.7 722.7,619.3 692.4,643.2 696.3,640.8 699.9,638.4 703.1,636 706.1,633.6 708.9,631.2 711.6,628.9 714.1,626.5 716.4,624.1 718.6,621.7 720.8,619.3 685.7,643.2 688,642 690.3,640.8 694.3,638.4 698,636 701.4,633.6 704.5,631.2 707.4,628.9" fill="none" stroke="none" marker-start="url(#d)" marker-mid="url(#d)" marker-end="url(#d)"/>
<path d="M672.34,544.60V647.85H767.94" fill="none" stroke="#000" stroke-width="0.507" stroke-linecap="square"/>
<path d="M677.32,647.85v2.2M699.40,647.85v2.2M721.48,647.85v2.2M743.55,647.85v2.2M765.63,647.85v2.2M672.34,643.18h-2.2M672.34,619.30h-2.2M672.34,595.42h-2.2M672.34,571.54h-2.2M672.34,547.66h-2.2" stroke="#000" stroke-width="0.6" fill="none"/>
</g>
<g>
<polyline points="48.7,693.2 48.7,691.9 48.7,690.4 48.7,689.1 48.7,687.7 48.7,686.4 48.7,699.6 48.7,698.1 48.7,696.6 48.7,695.2 48.7,693.8 48.7,692.4 48.7,706 48.7,704.4 48.7,702.8 48.7,701.3 48.7,699.8 48.7,698.3 48.7,712.3 48.7,710.6 48.7,709 48.7,707.3 48.7,705.7 48.7,704.2 48.7,718.7 48.7,716.9 48.7,715.1 48.7,713.3 48.7,711.6 48.7,710 48.7,725 48.7,723.1 48.7,721.1 48.7,719.2 48.7,717.4 48.7,715.7 54.4,693.2 54.4,692.9 54.4,692 54.4,691.6 54.4,691.2 54.4,689.1 54.4,687.2 54.4,685.3 54.4,683.4 54.4,681.7 54.4,679.9 54.4,678.3 54.4,676.6 54.4,675 54.4,672 54.4,698.5 54.4,697.2 54.4,696.7 54.4,696.3 54.4,695.2 54.4,693.1 54.4,692.1 54.4,690.1 54.4,686.4 54.4,684.6 54.4,682.8 54.4,681.2 54.4,679.5 54.4,676.4 54.4,703.7 54.4,703.2 54.4,702.8 54.4,701.8 54.4,701.4 54.4,699.2 54.4,697 54.4,694.9 54.4,693 54.4,691 54.4,689.2 54.4,687.4 54.4,685.6 54.4,683.9 54.4,680.7 54.4,708.9 54.4,708.4 54.4,707.4 54.4,707 54.4,706.5 54.4,705.3 54.4,704.1 54.4,703 54.4,701.9 54.4,699.7 54.4,697.6 54.4,695.6 54.4,693.7 54.4,691.8 54.4,690 54.4,688.2 54.4,684.8 54.4,714.1 54.4,713.1 54.4,712.6 54.4,712.1 54.4,711.5 54.4,710.3 54.4,709.1 54.4,707.9 54.4,702.2 54.4,700.1 54.4,698.1 54.4,696.1 54.4,694.2 54.4,692.4 54.4,688.9 54.4,719.3 54.4,718.2 54.4,717.7 54.4,717.1 54.4,716.6 54.4,715.3 54.4,714 54.4,712.7 54.4,711.4 54.4,709 54.4,706.7 54.4,704.5 54.4,702.4 54.4,700.4 54.4,698.4 54.4,692.8 54.4,724.5 54.4,724 54.4,723.4 54.4,722.8 54.4,722.2 54.4,721.6 54.4,720.2 54.4,718.8 54.4,717.4 54.4,716.1 54.4,713.6 54.4,711.1 54.4,708.8 54.4,706.6 54.4,704.4 54.4,702.3 54.4,700.3 54.4,696.5 54.4,729.7 54.4,729.1 54.4,728.5 54.4,727.8 54.4,727.2 54.4,726.6 54.4,725.1 54.4,723.6 54.4,722.1 54.4,720.7 54.4,718 54.4,715.4 54.4,712.9 54.4,710.6 54.4,708.3 54.4,706.1 54.4,704 54.4,700 65.6,694.4 65.6,690.7 65.6,687.1 65.6,683.7 65.6,680.6 65.6,677.6 65.6,674.7 65.6,672 65.6,669.3 65.6,666.8 65.6,664.4 65.6,699.4 65.6,695.5 65.6,691.8 65.6,688.3 65.6,685 65.6,681.9 65.6,679 65.6,676.2 65.6,673.5 65.6,670.9 65.6,668.4 65.6,704.4 65.6,700.3 65.6,696.4 65.6,689.4 65.6,686.2 65.6,683.2 65.6,680.3 65.6,677.5 65.6,674.9 65.6,672.3 65.6,709.4 65.6,705.1 65.6,701.1 65.6,697.3 65.6,693.8 65.6,690.4 65.6,687.3 65.6,684.3 65.6,681.5 65.6,678.7 65.6,676.1 65.6,709.9 65.6,705.6 65.6,701.7 65.6,698 65.6,694.6 65.6,691.3 65.6,688.2 65.6,685.3 65.6,682.5 65.6,679.8 65.6,719.4 65.6,702.2 65.6,698.6 65.6,692 65.6,689 65.6,686.1 65.6,683.3 65.6,724.4 65.6,719.3 65.6,714.6 65.6,710.3 65.6,702.5 65.6,692.5 65.6,689.5 65.6,686.7 65.6,729.4 65.6,724 65.6,719 65.6,714.4 65.6,710.2 65.6,706.3 65.6,702.6 65.6,699.1 65.6,695.9 65.6,692.8 65.6,689.8 65.6,734.4 65.6,728.6 65.6,723.2 65.6,718.4 65.6,713.9 65.6,709.8 65.6,706 65.6,702.4 65.6,699 65.6,695.7 65.6,692.7 65.6,739.4 65.6,733.1 65.6,727.4 65.6,722.2 65.6,717.5 65.6,713.1 65.6,709.1 65.6,705.3 65.6,701.8 65.6,698.4 65.6,695.2 65.6,744.4 65.6,737.5 65.6,731.3 65.6,725.8 65.6,720.8 65.6,716.2 65.6,711.9 65.6,707.9 65.6,704.2 65.6,700.7 65.6,697.4 76.9,690.8 76.9,690.1 76.9,688.7 76.9,681.3 76.9,679.8 76.9,678.3 76.9,676.8 76.9,675.4 76.9,674 76.9,672.6 76.9,693.1 76.9,691.7 76.9,688.4 76.9,686.7 76.9,685.1 76.9,683.5 76.9,680.4 76.9,678.9 76.9,677.4 76.9,674.6 76.9,692.4 76.9,690.7 76.9,687.2 76.9,684 76.9,680.9 76.9,679.4 76.9,678 76.9,676.6 76.9,697 76.9,692.9 76.9,691.1 76.9,689.4 76.9,686.1 76.9,684.5 76.9,682.9 76.9,680 76.9,678.5 76.9,700.1 76.9,699.3 76.9,697.7 76.9,696.9 76.9,691.5 76.9,688.1 76.9,686.5 76.9,684.9 76.9,683.4 76.9,681.9 76.9,680.5 76.9,703.2 76.9,702.4 76.9,700.7 76.9,699.2 76.9,697.2 76.9,695.4 76.9,693.6 76.9,690.2 76.9,686.9 76.9,685.4 76.9,683.9 76.9,682.4 76.9,704.7 76.9,703 76.9,702.2 76.9,701.4 76.9,699.4 76.9,697.5 76.9,695.7 76.9,693.9 76.9,692.2 76.9,690.5 76.9,687.3 76.9,685.8 76.9,684.3 76.9,707.8 76.9,707 76.9,706.1 76.9,704.4 76.9,699.7 76.9,697.8 76.9,696 76.9,694.2 76.9,692.5 76.9,690.9 76.9,689.3 76.9,687.7 76.9,686.2 76.9,706.7 76.9,699.9 76.9,698 76.9,696.2 76.9,692.8 76.9,691.2 76.9,689.6 76.9,688 76.9,711.6 76.9,710.7 76.9,708.9 76.9,701.9 76.9,698.2 76.9,696.4 76.9,694.7 76.9,693 76.9,691.4 76.9,689.8 76.9,712.9 76.9,712 76.9,711.1 76.9,708.1 76.9,698.3 76.9,696.6 76.9,694.9 76.9,693.2 76.9,691.6 76.9,715.2 76.9,714.3 76.9,713.3 76.9,712.4 76.9,710.2 76.9,696.7 76.9,695 76.9,693.4 76.9,719.4 76.9,718.5 76.9,717.5 76.9,715.5 76.9,714.6 76.9,712.3 76.9,710.1 76.9,708 76.9,706 76.9,704 76.9,721.7 76.9,720.8 76.9,718.7 76.9,717.7 76.9,716.8 76.9,714.4 76.9,710 76.9,707.9 76.9,705.9 76.9,703.9 76.9,702.1 76.9,700.3 76.9,698.5 76.9,696.8 76.9,724.1 76.9,723 76.9,719.9 76.9,718.9 76.9,716.5 76.9,714.2 76.9,711.9 76.9,709.8 76.9,707.7 76.9,705.8 76.9,703.8 76.9,702 76.9,700.2 76.9,698.4 76.9,726.4 76.9,725.3 76.9,724.2 76.9,723.1 76.9,722.1 76.9,721.1 76.9,718.6 76.9,716.2 76.9,713.9 76.9,711.7 76.9,709.6 76.9,707.5 76.9,705.5 76.9,703.6 76.9,701.8 76.9,700 76.9,728.7 76.9,727.6 76.9,726.5 76.9,724.3 76.9,723.2 76.9,720.6 76.9,718.1 76.9,715.8 76.9,713.5 76.9,711.3 76.9,709.2 76.9,707.2 76.9,703.4 76.9,701.6 76.9,673.9 76.9,671.3 76.9,668.8 76.9,666.4 76.9,661.8 76.9,681.4 76.9,678.6 76.9,676 76.9,673.5 76.9,668.7 76.9,664.3 76.9,660.1 76.9,688.5 76.9,685.6 76.9,682.8 76.9,680.1 76.9,675.1 76.9,670.4 76.9,666 76.9,661.9 76.9,658.1 76.9,695.1 76.9,691.9 76.9,688.9 76.9,686 76.9,680.7 76.9,675.7 76.9,671.1 76.9,666.8 76.9,662.8 76.9,733.4 76.9,730.9 76.9,729.7 76.9,727.4 76.9,724.6 76.9,722 76.9,719.5 76.9,714.8 76.9,712.5 76.9,710.4 76.9,708.4 76.9,706.4 76.9,704.5 76.9,700.8 76.9,697.4 76.9,694.1 76.9,691 76.9,742.7 76.9,741.2 76.9,739.7 76.9,738.3 76.9,736.9 76.9,735.5 76.9,732.2 76.9,729.2 76.9,726.3 76.9,723.5 76.9,720.9 76.9,718.4 76.9,716 76.9,713.7 76.9,711.4 76.9,709.3 76.9,705.3 76.9,701.5 76.9,697.9 76.9,694.5 76.9,752 76.9,750.1 76.9,748.2 76.9,746.4 76.9,744.6 76.9,743 76.9,739 76.9,735.2 76.9,731.8 76.9,728.5 76.9,725.4 76.9,722.5 76.9,719.7 76.9,717.1 76.9,714.5 76.9,712.1 109,683.8 109,682 109,680.3 109,678.6 109,675.3 109,672.1 109,691.6 109,689.6 109,687.7 109,685.8 109,682.3 109,678.9 109,699.4 109,697.2 109,695.1 109,693 109,689.1 109,685.5 109,707.1 109,704.7 109,702.3 109,700 109,695.7 109,691.7 109,714.9 109,712.1 109,709.4 109,706.8 109,702 109,697.6 109.9,691.5 109.9,690.8 109.9,690.1 109.9,688.7 109.9,688 109.9,686.3 109.9,683 109.9,681.5 109.9,680 109.9,678.5 109.9,677 109.9,675.6 109.9,674.3 109.9,672.9 109.9,700.2 109.9,699.5 109.9,698.7 109.9,697.9 109.9,696.4 109.9,694.6 109.9,692.8 109.9,691.1 109.9,689.4 109.9,687.8 109.9,686.2 109.9,684.6 109.9,683.1 109.9,681.7 109.9,680.2 109.9,708.9 109.9,708.1 109.9,707.2 109.9,706.4 109.9,705.6 109.9,704.7 109.9,702.7 109.9,698.9 109.9,697.1 109.9,695.3 109.9,693.6 109.9,692 109.9,690.4 109.9,688.8 109.9,687.3 109.9,717.7 109.9,716.7 109.9,715.8 109.9,714.8 109.9,713.9 109.9,713 109.9,710.7 109.9,708.6 109.9,706.5 109.9,704.5 109.9,702.6 109.9,700.8 109.9,699 109.9,697.2 109.9,695.5 109.9,693.9 109.9,726.4 109.9,725.3 109.9,724.2 109.9,723.1 109.9,722.1 109.9,721 109.9,718.5 109.9,716.1 109.9,713.8 109.9,711.6 109.9,709.5 109.9,707.4 109.9,705.5 109.9,703.5 109.9,701.7 109.9,699.9 109.9,735.1 109.9,733.9 109.9,732.6 109.9,731.3 109.9,730.1 109.9,728.9 109.9,726 109.9,723.2 109.9,720.6 109.9,718.1 109.9,715.7 109.9,713.4 109.9,711.2 109.9,709.1 109.9,707 109.9,705.1 109.9,743.9 109.9,742.3 109.9,740.7 109.9,739.2 109.9,737.7 109.9,736.2 109.9,732.8 109.9,729.5 109.9,726.5 109.9,723.6 109.9,720.8 110.7,703.9 110.7,702 110.7,700.1 110.7,698.3 110.7,696.5 110.7,694.8 110.7,691.5 110.7,710.2 110.7,708.1 110.7,706.1 110.7,704.2 110.7,702.3 110.7,698.8 110.7,720.7 110.7,718.3 110.7,716 110.7,713.8 110.7,711.7 110.7,709.6 110.7,705.8 110.7,729.1 110.7,726.4 110.7,723.8 110.7,721.3 110.7,718.9 110.7,716.6 110.7,712.3 88.1,697.4 88.1,691.2 88.1,685.6 88.1,683 88.1,680.5 88.1,678.1 88.1,675.8 88.1,673.6 88.1,671.5 88.1,701.8 88.1,698.6 88.1,695.4 88.1,692.5 88.1,689.7 88.1,687 88.1,684.4 88.1,682 88.1,679.6 88.1,677.4 88.1,675.2 88.1,706.3 88.1,702.9 88.1,699.7 88.1,696.6 88.1,693.7 88.1,690.9 88.1,688.3 88.1,685.8 88.1,683.4 88.1,681.1 88.1,678.8 88.1,710.7 88.1,703.8 88.1,700.7 88.1,697.7 88.1,694.8 88.1,692.1 88.1,689.5 88.1,687.1 88.1,684.7 88.1,682.4 88.1,715.2 88.1,711.5 88.1,708 88.1,704.7 88.1,695.9 88.1,693.2 88.1,690.7 88.1,688.2 88.1,685.9 88.1,719.7 88.1,715.8 88.1,712.1 88.1,708.7 88.1,705.5 88.1,702.5 88.1,699.6 88.1,696.8 88.1,694.2 88.1,691.7 88.1,689.3 88.1,720.1 88.1,716.2 88.1,712.7 88.1,709.3 88.1,706.2 88.1,703.2 88.1,700.3 88.1,697.6 88.1,695 88.1,692.6 88.1,728.6 88.1,716.6 88.1,709.8 88.1,706.7 88.1,703.7 88.1,700.9 88.1,698.3 88.1,695.7 88.1,733 88.1,728.5 88.1,724.3 88.1,720.4 88.1,710.1 88.1,704.1 88.1,701.4 88.1,698.7 88.1,737.5 88.1,732.7 88.1,728.2 88.1,724.1 88.1,720.3 88.1,716.7 88.1,713.3 88.1,710.2 88.1,707.2 88.1,704.3 88.1,701.6 88.1,742 88.1,736.8 88.1,732.1 88.1,727.7 88.1,723.7 88.1,719.9 88.1,716.4 88.1,713.1 88.1,710 88.1,707 88.1,704.2 88.1,750.9 88.1,747.8 88.1,744.8 88.1,739.4 88.1,734.5 88.1,730 88.1,725.8 88.1,721.9" fill="none" stroke="none" marker-start="url(#d)" marker-mid="url(#d)" marker-end="url(#d)"/>
<path d="M31.90,653.40V756.65H127.50" fill="none" stroke="#000" stroke-width="0.507" stroke-linecap="square"/>
<path d="M45.43,756.65v2.2M65.50,756.65v2.2M85.56,756.65v2.2M105.63,756.65v2.2M125.69,756.65v2.2M31.90,747.37h-2.2M31.90,732.66h-2.2M31.90,717.95h-2.2M31.90,703.24h-2.2M31.90,688.54h-2.2M31.90,673.83h-2.2M31.90,659.12h-2.2" stroke="#000" stroke-width="0.6" fill="none"/>
<text x="45.43" y="765.86" text-anchor="middle">150</text>
<text x="65.50" y="765.86" text-anchor="middle">200</text>
<text x="85.56" y="765.86" text-anchor="middle">250</text>
<text x="105.63" y="765.86" text-anchor="middle">300</text>
<text x="125.69" y="765.86" text-anchor="middle">350</text>
<text x="79.70" y="774.70" text-anchor="middle">Molar Mass (g/mol)</text>
<text x="27.50" y="749.68" text-anchor="end">775</text>
<text x="27.50" y="734.97" text-anchor="end">800</text>
<text x="27.50" y="720.26" text-anchor="end">825</text>
<text x="27.50" y="705.55" text-anchor="end">850</text>
<text x="27.50" y="690.85" text-anchor="end">875</text>
<text x="27.50" y="676.14" text-anchor="end">900</text>
<text x="27.50" y="661.43" text-anchor="end">925</text>
<text transform="translate(11.40,705.02) rotate(-90)" text-anchor="middle">Density (kg/m3)</text>
</g>
<g>
<polyline points="154.4,693.2 154.4,691.9 154.4,690.4 154.4,689.1 154.4,687.7 154.4,686.4 154.4,699.6 154.4,698.1 154.4,696.6 154.4,695.2 154.4,693.8 154.4,692.4 154.4,706 154.4,704.4 154.4,702.8 154.4,701.3 154.4,699.8 154.4,698.3 154.4,712.3 154.4,710.6 154.4,709 154.4,707.3 154.4,705.7 154.4,704.2 154.4,718.7 154.4,716.9 154.4,715.1 154.4,713.3 154.4,711.6 154.4,710 154.4,725 154.4,723.1 154.4,721.1 154.4,719.2 154.4,717.4 154.4,715.7 163.9,693.2 163.9,692.9 163.9,692 163.9,691.6 163.9,691.2 163.9,689.1 163.9,687.2 163.9,685.3 163.9,683.4 163.9,681.7 163.9,679.9 163.9,678.3 163.9,676.6 163.9,675 163.9,672 163.9,698.5 163.9,697.2 163.9,696.7 163.9,696.3 163.9,695.2 163.9,693.1 163.9,692.1 163.9,690.1 163.9,686.4 163.9,684.6 163.9,682.8 163.9,681.2 163.9,679.5 163.9,676.4 163.9,703.7 163.9,703.2 163.9,702.8 163.9,701.8 163.9,701.4 163.9,699.2 163.9,697 163.9,694.9 163.9,693 163.9,691 163.9,689.2 163.9,687.4 163.9,685.6 163.9,683.9 163.9,680.7 163.9,708.9 163.9,708.4 163.9,707.4 163.9,707 163.9,706.5 163.9,705.3 163.9,704.1 163.9,703 163.9,701.9 163.9,699.7 163.9,697.6 163.9,695.6 163.9,693.7 163.9,691.8 163.9,690 163.9,688.2 163.9,684.8 163.9,714.1 163.9,713.1 163.9,712.6 163.9,712.1 163.9,711.5 163.9,710.3 163.9,709.1 163.9,707.9 163.9,702.2 163.9,700.1 163.9,698.1 163.9,696.1 163.9,694.2 163.9,692.4 163.9,688.9 163.9,719.3 163.9,718.2 163.9,717.7 163.9,717.1 163.9,716.6 163.9,715.3 163.9,714 163.9,712.7 163.9,711.4 163.9,709 163.9,706.7 163.9,704.5 163.9,702.4 163.9,700.4 163.9,698.4 163.9,692.8 163.9,724.5 163.9,724 163.9,723.4 163.9,722.8 163.9,722.2 163.9,721.6 163.9,720.2 163.9,718.8 163.9,717.4 163.9,716.1 163.9,713.6 163.9,711.1 163.9,708.8 163.9,706.6 163.9,704.4 163.9,702.3 163.9,700.3 163.9,696.5 163.9,729.7 163.9,729.1 163.9,728.5 163.9,727.8 163.9,727.2 163.9,726.6 163.9,725.1 163.9,723.6 163.9,722.1 163.9,720.7 163.9,718 163.9,715.4 163.9,712.9 163.9,710.6 163.9,708.3 163.9,706.1 163.9,704 163.9,700 178.8,694.4 178.8,690.7 178.8,687.1 178.8,683.7 178.8,680.6 178.8,677.6 178.8,674.7 178.8,672 178.8,669.3 178.8,666.8 178.8,664.4 178.8,699.4 178.8,695.5 178.8,691.8 178.8,688.3 178.8,685 178.8,681.9 178.8,679 178.8,676.2 178.8,673.5 178.8,670.9 178.8,668.4 178.8,704.4 178.8,700.3 178.8,696.4 178.8,689.4 178.8,686.2 178.8,683.2 178.8,680.3 178.8,677.5 178.8,674.9 178.8,672.3 178.8,709.4 178.8,705.1 178.8,701.1 178.8,697.3 178.8,693.8 178.8,690.4 178.8,687.3 178.8,684.3 178.8,681.5 178.8,678.7 178.8,676.1 178.8,709.9 178.8,705.6 178.8,701.7 178.8,698 178.8,694.6 178.8,691.3 178.8,688.2 178.8,685.3 178.8,682.5 178.8,679.8 178.8,719.4 178.8,702.2 178.8,698.6 178.8,692 178.8,689 178.8,686.1 178.8,683.3 178.8,724.4 178.8,719.3 178.8,714.6 178.8,710.3 178.8,702.5 178.8,692.5 178.8,689.5 178.8,686.7 178.8,729.4 178.8,724 178.8,719 178.8,714.4 178.8,710.2 178.8,706.3 178.8,702.6 178.8,699.1 178.8,695.9 178.8,692.8 178.8,689.8 178.8,734.4 178.8,728.6 178.8,723.2 178.8,718.4 178.8,713.9 178.8,709.8 178.8,706 178.8,702.4 178.8,699 178.8,695.7 178.8,692.7 178.8,739.4 178.8,733.1 178.8,727.4 178.8,722.2 178.8,717.5 178.8,713.1 178.8,709.1 178.8,705.3 178.8,701.8 178.8,698.4 178.8,695.2 178.8,744.4 178.8,737.5 178.8,731.3 178.8,725.8 178.8,720.8 178.8,716.2 178.8,711.9 178.8,707.9 178.8,704.2 178.8,700.7 178.8,697.4 190.1,690.8 190.1,690.1 190.1,688.7 190.1,681.3 190.1,679.8 190.1,678.3 190.1,676.8 190.1,675.4 190.1,674 190.1,672.6 190.1,693.1 190.1,691.7 190.1,688.4 190.1,686.7 190.1,685.1 190.1,683.5 190.1,680.4 190.1,678.9 190.1,677.4 190.1,674.6 190.1,692.4 190.1,690.7 190.1,687.2 190.1,684 190.1,680.9 190.1,679.4 190.1,678 190.1,676.6 190.1,697 190.1,692.9 190.1,691.1 190.1,689.4 190.1,686.1 190.1,684.5 190.1,682.9 190.1,680 190.1,678.5 190.1,700.1 190.1,699.3 190.1,697.7 190.1,696.9 190.1,691.5 190.1,688.1 190.1,686.5 190.1,684.9 190.1,683.4 190.1,681.9 190.1,680.5 190.1,703.2 190.1,702.4 190.1,700.7 190.1,699.2 190.1,697.2 190.1,695.4 190.1,693.6 190.1,690.2 190.1,686.9 190.1,685.4 190.1,683.9 190.1,682.4 190.1,704.7 190.1,703 190.1,702.2 190.1,701.4 190.1,699.4 190.1,697.5 190.1,695.7 190.1,693.9 190.1,692.2 190.1,690.5 190.1,687.3 190.1,685.8 190.1,684.3 190.1,707.8 190.1,707 190.1,706.1 190.1,704.4 190.1,699.7 190.1,697.8 190.1,696 190.1,694.2 190.1,692.5 190.1,690.9 190.1,689.3 190.1,687.7 190.1,686.2 190.1,706.7 190.1,699.9 190.1,698 190.1,696.2 190.1,692.8 190.1,691.2 190.1,689.6 190.1,688 190.1,711.6 190.1,710.7 190.1,708.9 190.1,701.9 190.1,698.2 190.1,696.4 190.1,694.7 190.1,693 190.1,691.4 190.1,689.8 190.1,712.9 190.1,712 190.1,711.1 190.1,708.1 190.1,698.3 190.1,696.6 190.1,694.9 190.1,693.2 190.1,691.6 190.1,715.2 190.1,714.3 190.1,713.3 190.1,712.4 190.1,710.2 190.1,696.7 190.1,695 190.1,693.4 190.1,719.4 190.1,718.5 190.1,717.5 190.1,715.5 190.1,714.6 190.1,712.3 190.1,710.1 190.1,708 190.1,706 190.1,704 190.1,721.7 190.1,720.8 190.1,718.7 190.1,717.7 190.1,716.8 190.1,714.4 190.1,710 190.1,707.9 190.1,705.9 190.1,703.9 190.1,702.1 190.1,700.3 190.1,698.5 190.1,696.8 190.1,724.1 190.1,723 190.1,719.9 190.1,718.9 190.1,716.5 190.1,714.2 190.1,711.9 190.1,709.8 190.1,707.7 190.1,705.8 190.1,703.8 190.1,702 190.1,700.2 190.1,698.4 190.1,726.4 190.1,725.3 190.1,724.2 190.1,723.1 190.1,722.1 190.1,721.1 190.1,718.6 190.1,716.2 190.1,713.9 190.1,711.7 190.1,709.6 190.1,707.5 190.1,705.5 190.1,703.6 190.1,701.8 190.1,700 190.1,728.7 190.1,727.6 190.1,726.5 190.1,724.3 190.1,723.2 190.1,720.6 190.1,718.1 190.1,715.8 190.1,713.5 190.1,711.3 190.1,709.2 190.1,707.2 190.1,703.4 190.1,701.6 190.1,673.9 190.1,671.3 190.1,668.8 190.1,666.4 190.1,661.8 190.1,681.4 190.1,678.6 190.1,676 190.1,673.5 190.1,668.7 190.1,664.3 190.1,660.1 190.1,688.5 190.1,685.6 190.1,682.8 190.1,680.1 190.1,675.1 190.1,670.4 190.1,666 190.1,661.9 190.1,658.1 190.1,695.1 190.1,691.9 190.1,688.9 190.1,686 190.1,680.7 190.1,675.7 190.1,671.1 190.1,666.8 190.1,662.8 190.1,733.4 190.1,730.9 190.1,729.7 190.1,727.4 190.1,724.6 190.1,722 190.1,719.5 190.1,714.8 190.1,712.5 190.1,710.4 190.1,708.4 190.1,706.4 190.1,704.5 190.1,700.8 190.1,697.4 190.1,694.1 190.1,691 190.1,742.7 190.1,741.2 190.1,739.7 190.1,738.3 190.1,736.9 190.1,735.5 190.1,732.2 190.1,729.2 190.1,726.3 190.1,723.5 190.1,720.9 190.1,718.4 190.1,716 190.1,713.7 190.1,711.4 190.1,709.3 190.1,705.3 190.1,701.5 190.1,697.9 190.1,694.5 190.1,752 190.1,750.1 190.1,748.2 190.1,746.4 190.1,744.6 190.1,743 190.1,739 190.1,735.2 190.1,731.8 190.1,728.5 190.1,725.4 190.1,722.5 190.1,719.7 190.1,717.1 190.1,714.5 190.1,712.1 218.5,683.8 218.5,682 218.5,680.3 218.5,678.6 218.5,675.3 218.5,672.1 218.5,691.6 218.5,689.6 218.5,687.7 218.5,685.8 218.5,682.3 218.5,678.9 218.5,699.4 218.5,697.2 218.5,695.1 218.5,693 218.5,689.1 218.5,685.5 218.5,707.1 218.5,704.7 218.5,702.3 218.5,700 218.5,695.7 218.5,691.7 218.5,714.9 218.5,712.1 218.5,709.4 218.5,706.8 218.5,702 218.5,697.6 215.1,691.5 215.1,690.8 215.1,690.1 215.1,688.7 215.1,688 215.1,686.3 215.1,683 215.1,681.5 215.1,680 215.1,678.5 215.1,677 215.1,675.6 215.1,674.3 215.1,672.9 215.1,700.2 215.1,699.5 215.1,698.7 215.1,697.9 215.1,696.4 215.1,694.6 215.1,692.8 215.1,691.1 215.1,689.4 215.1,687.8 215.1,686.2 215.1,684.6 215.1,683.1 215.1,681.7 215.1,680.2 215.1,708.9 215.1,708.1 215.1,707.2 215.1,706.4 215.1,705.6 215.1,704.7 215.1,702.7 215.1,698.9 215.1,697.1 215.1,695.3 215.1,693.6 215.1,692 215.1,690.4 215.1,688.8 215.1,687.3 215.1,717.7 215.1,716.7 215.1,715.8 215.1,714.8 215.1,713.9 215.1,713 215.1,710.7 215.1,708.6 215.1,706.5 215.1,704.5 215.1,702.6 215.1,700.8 215.1,699 215.1,697.2 215.1,695.5 215.1,693.9 215.1,726.4 215.1,725.3 215.1,724.2 215.1,723.1 215.1,722.1 215.1,721 215.1,718.5 215.1,716.1 215.1,713.8 215.1,711.6 215.1,709.5 215.1,707.4 215.1,705.5 215.1,703.5 215.1,701.7 215.1,699.9 215.1,735.1 215.1,733.9 215.1,732.6 215.1,731.3 215.1,730.1 215.1,728.9 215.1,726 215.1,723.2 215.1,720.6 215.1,718.1 215.1,715.7 215.1,713.4 215.1,711.2 215.1,709.1 215.1,707 215.1,705.1 215.1,743.9 215.1,742.3 215.1,740.7 215.1,739.2 215.1,737.7 215.1,736.2 215.1,732.8 215.1,729.5 215.1,726.5 215.1,723.6 215.1,720.8 211.7,703.9 211.7,702 211.7,700.1 211.7,698.3 211.7,696.5 211.7,694.8 211.7,691.5 211.7,710.2 211.7,708.1 211.7,706.1 211.7,704.2 211.7,702.3 211.7,698.8 211.7,720.7 211.7,718.3 211.7,716 211.7,713.8 211.7,711.7 211.7,709.6 211.7,705.8 211.7,729.1 211.7,726.4 211.7,723.8 211.7,721.3 211.7,718.9 211.7,716.6 211.7,712.3 198.9,697.4 198.9,691.2 198.9,685.6 198.9,683 198.9,680.5 198.9,678.1 198.9,675.8 198.9,673.6 198.9,671.5 198.9,701.8 198.9,698.6 198.9,695.4 198.9,692.5 198.9,689.7 198.9,687 198.9,684.4 198.9,682 198.9,679.6 198.9,677.4 198.9,675.2 198.9,706.3 198.9,702.9 198.9,699.7 198.9,696.6 198.9,693.7 198.9,690.9 198.9,688.3 198.9,685.8 198.9,683.4 198.9,681.1 198.9,678.8 198.9,710.7 198.9,703.8 198.9,700.7 198.9,697.7 198.9,694.8 198.9,692.1 198.9,689.5 198.9,687.1 198.9,684.7 198.9,682.4 198.9,715.2 198.9,711.5 198.9,708 198.9,704.7 198.9,695.9 198.9,693.2 198.9,690.7 198.9,688.2 198.9,685.9 198.9,719.7 198.9,715.8 198.9,712.1 198.9,708.7 198.9,705.5 198.9,702.5 198.9,699.6 198.9,696.8 198.9,694.2 198.9,691.7 198.9,689.3 198.9,720.1 198.9,716.2 198.9,712.7 198.9,709.3 198.9,706.2 198.9,703.2 198.9,700.3 198.9,697.6 198.9,695 198.9,692.6 198.9,728.6 198.9,716.6 198.9,709.8 198.9,706.7 198.9,703.7 198.9,700.9 198.9,698.3 198.9,695.7 198.9,733 198.9,728.5 198.9,724.3 198.9,720.4 198.9,710.1 198.9,704.1 198.9,701.4 198.9,698.7 198.9,737.5 198.9,732.7 198.9,728.2 198.9,724.1 198.9,720.3 198.9,716.7 198.9,713.3 198.9,710.2 198.9,707.2 198.9,704.3 198.9,701.6 198.9,742 198.9,736.8 198.9,732.1 198.9,727.7 198.9,723.7 198.9,719.9 198.9,716.4 198.9,713.1 198.9,710 198.9,707 198.9,704.2 198.9,750.9 198.9,747.8 198.9,744.8 198.9,739.4 198.9,734.5 198.9,730 198.9,725.8 198.9,721.9" fill="none" stroke="none" marker-start="url(#d)" marker-mid="url(#d)" marker-end="url(#d)"/>
<path d="M138.64,653.40V756.65H234.24" fill="none" stroke="#000" stroke-width="0.507" stroke-linecap="square"/>
<path d="M165.72,756.65v2.2M199.25,756.65v2.2M232.78,756.65v2.2M138.64,747.37h-2.2M138.64,732.66h-2.2M138.64,717.95h-2.2M138.64,703.24h-2.2M138.64,688.54h-2.2M138.64,673.83h-2.2M138.64,659.12h-2.2" stroke="#000" stroke-width="0.6" fill="none"/>
<text x="165.72" y="765.86" text-anchor="middle">0.70</text>
<text x="199.25" y="765.86" text-anchor="middle">0.75</text>
<text x="232.78" y="765.86" text-anchor="middle">0.80</text>
<text x="186.44" y="774.70" text-anchor="middle">% Carbon (C)</text>
</g>
<g>
<polyline points="259.9,693.2 259.9,691.9 259.9,690.4 259.9,689.1 259.9,687.7 259.9,686.4 259.9,699.6 259.9,698.1 259.9,696.6 259.9,695.2 259.9,693.8 259.9,692.4 259.9,706 259.9,704.4 259.9,702.8 259.9,701.3 259.9,699.8 259.9,698.3 259.9,712.3 259.9,710.6 259.9,709 259.9,707.3 259.9,705.7 259.9,704.2 259.9,718.7 259.9,716.9 259.9,715.1 259.9,713.3 259.9,711.6 259.9,710 259.9,725 259.9,723.1 259.9,721.1 259.9,719.2 259.9,717.4 259.9,715.7 270.9,693.2 270.9,692.9 270.9,692 270.9,691.6 270.9,691.2 270.9,689.1 270.9,687.2 270.9,685.3 270.9,683.4 270.9,681.7 270.9,679.9 270.9,678.3 270.9,676.6 270.9,675 270.9,672 270.9,698.5 270.9,697.2 270.9,696.7 270.9,696.3 270.9,695.2 270.9,693.1 270.9,692.1 270.9,690.1 270.9,686.4 270.9,684.6 270.9,682.8 270.9,681.2 270.9,679.5 270.9,676.4 270.9,703.7 270.9,703.2 270.9,702.8 270.9,701.8 270.9,701.4 270.9,699.2 270.9,697 270.9,694.9 270.9,693 270.9,691 270.9,689.2 270.9,687.4 270.9,685.6 270.9,683.9 270.9,680.7 270.9,708.9 270.9,708.4 270.9,707.4 270.9,707 270.9,706.5 270.9,705.3 270.9,704.1 270.9,703 270.9,701.9 270.9,699.7 270.9,697.6 270.9,695.6 270.9,693.7 270.9,691.8 270.9,690 270.9,688.2 270.9,684.8 270.9,714.1 270.9,713.1 270.9,712.6 270.9,712.1 270.9,711.5 270.9,710.3 270.9,709.1 270.9,707.9 270.9,702.2 270.9,700.1 270.9,698.1 270.9,696.1 270.9,694.2 270.9,692.4 270.9,688.9 270.9,719.3 270.9,718.2 270.9,717.7 270.9,717.1 270.9,716.6 270.9,715.3 270.9,714 270.9,712.7 270.9,711.4 270.9,709 270.9,706.7 270.9,704.5 270.9,702.4 270.9,700.4 270.9,698.4 270.9,692.8 270.9,724.5 270.9,724 270.9,723.4 270.9,722.8 270.9,722.2 270.9,721.6 270.9,720.2 270.9,718.8 270.9,717.4 270.9,716.1 270.9,713.6 270.9,711.1 270.9,708.8 270.9,706.6 270.9,704.4 270.9,702.3 270.9,700.3 270.9,696.5 270.9,729.7 270.9,729.1 270.9,728.5 270.9,727.8 270.9,727.2 270.9,726.6 270.9,725.1 270.9,723.6 270.9,722.1 270.9,720.7 270.9,718 270.9,715.4 270.9,712.9 270.9,710.6 270.9,708.3 270.9,706.1 270.9,704 270.9,700 288.2,694.4 288.2,690.7 288.2,687.1 288.2,683.7 288.2,680.6 288.2,677.6 288.2,674.7 288.2,672 288.2,669.3 288.2,666.8 288.2,664.4 288.2,699.4 288.2,695.5 288.2,691.8 288.2,688.3 288.2,685 288.2,681.9 288.2,679 288.2,676.2 288.2,673.5 288.2,670.9 288.2,668.4 288.2,704.4 288.2,700.3 288.2,696.4 288.2,689.4 288.2,686.2 288.2,683.2 288.2,680.3 288.2,677.5 288.2,674.9 288.2,672.3 288.2,709.4 288.2,705.1 288.2,701.1 288.2,697.3 288.2,693.8 288.2,690.4 288.2,687.3 288.2,684.3 288.2,681.5 288.2,678.7 288.2,676.1 288.2,709.9 288.2,705.6 288.2,701.7 288.2,698 288.2,694.6 288.2,691.3 288.2,688.2 288.2,685.3 288.2,682.5 288.2,679.8 288.2,719.4 288.2,702.2 288.2,698.6 288.2,692 288.2,689 288.2,686.1 288.2,683.3 288.2,724.4 288.2,719.3 288.2,714.6 288.2,710.3 288.2,702.5 288.2,692.5 288.2,689.5 288.2,686.7 288.2,729.4 288.2,724 288.2,719 288.2,714.4 288.2,710.2 288.2,706.3 288.2,702.6 288.2,699.1 288.2,695.9 288.2,692.8 288.2,689.8 288.2,734.4 288.2,728.6 288.2,723.2 288.2,718.4 288.2,713.9 288.2,709.8 288.2,706 288.2,702.4 288.2,699 288.2,695.7 288.2,692.7 288.2,739.4 288.2,733.1 288.2,727.4 288.2,722.2 288.2,717.5 288.2,713.1 288.2,709.1 288.2,705.3 288.2,701.8 288.2,698.4 288.2,695.2 288.2,744.4 288.2,737.5 288.2,731.3 288.2,725.8 288.2,720.8 288.2,716.2 288.2,711.9 288.2,707.9 288.2,704.2 288.2,700.7 288.2,697.4 301.3,690.8 301.3,690.1 301.3,688.7 301.3,681.3 301.3,679.8 301.3,678.3 301.3,676.8 301.3,675.4 301.3,674 301.3,672.6 301.3,693.1 301.3,691.7 301.3,688.4 301.3,686.7 301.3,685.1 301.3,683.5 301.3,680.4 301.3,678.9 301.3,677.4 301.3,674.6 301.3,692.4 301.3,690.7 301.3,687.2 301.3,684 301.3,680.9 301.3,679.4 301.3,678 301.3,676.6 301.3,697 301.3,692.9 301.3,691.1 301.3,689.4 301.3,686.1 301.3,684.5 301.3,682.9 301.3,680 301.3,678.5 301.3,700.1 301.3,699.3 301.3,697.7 301.3,696.9 301.3,691.5 301.3,688.1 301.3,686.5 301.3,684.9 301.3,683.4 301.3,681.9 301.3,680.5 301.3,703.2 301.3,702.4 301.3,700.7 301.3,699.2 301.3,697.2 301.3,695.4 301.3,693.6 301.3,690.2 301.3,686.9 301.3,685.4 301.3,683.9 301.3,682.4 301.3,704.7 301.3,703 301.3,702.2 301.3,701.4 301.3,699.4 301.3,697.5 301.3,695.7 301.3,693.9 301.3,692.2 301.3,690.5 301.3,687.3 301.3,685.8 301.3,684.3 301.3,707.8 301.3,707 301.3,706.1 301.3,704.4 301.3,699.7 301.3,697.8 301.3,696 301.3,694.2 301.3,692.5 301.3,690.9 301.3,689.3 301.3,687.7 301.3,686.2 301.3,706.7 301.3,699.9 301.3,698 301.3,696.2 301.3,692.8 301.3,691.2 301.3,689.6 301.3,688 301.3,711.6 301.3,710.7 301.3,708.9 301.3,701.9 301.3,698.2 301.3,696.4 301.3,694.7 301.3,693 301.3,691.4 301.3,689.8 301.3,712.9 301.3,712 301.3,711.1 301.3,708.1 301.3,698.3 301.3,696.6 301.3,694.9 301.3,693.2 301.3,691.6 301.3,715.2 301.3,714.3 301.3,713.3 301.3,712.4 301.3,710.2 301.3,696.7 301.3,695 301.3,693.4 301.3,719.4 301.3,718.5 301.3,717.5 301.3,715.5 301.3,714.6 301.3,712.3 301.3,710.1 301.3,708 301.3,706 301.3,704 301.3,721.7 301.3,720.8 301.3,718.7 301.3,717.7 301.3,716.8 301.3,714.4 301.3,710 301.3,707.9 301.3,705.9 301.3,703.9 301.3,702.1 301.3,700.3 301.3,698.5 301.3,696.8 301.3,724.1 301.3,723 301.3,719.9 301.3,718.9 301.3,716.5 301.3,714.2 301.3,711.9 301.3,709.8 301.3,707.7 301.3,705.8 301.3,703.8 301.3,702 301.3,700.2 301.3,698.4 301.3,726.4 301.3,725.3 301.3,724.2 301.3,723.1 301.3,722.1 301.3,721.1 301.3,718.6 301.3,716.2 301.3,713.9 301.3,711.7 301.3,709.6 301.3,707.5 301.3,705.5 301.3,703.6 301.3,701.8 301.3,700 301.3,728.7 301.3,727.6 301.3,726.5 301.3,724.3 301.3,723.2 301.3,720.6 301.3,718.1 301.3,715.8 301.3,713.5 301.3,711.3 301.3,709.2 301.3,707.2 301.3,703.4 301.3,701.6 301.3,673.9 301.3,671.3 301.3,668.8 301.3,666.4 301.3,661.8 301.3,681.4 301.3,678.6 301.3,676 301.3,673.5 301.3,668.7 301.3,664.3 301.3,660.1 301.3,688.5 301.3,685.6 301.3,682.8 301.3,680.1 301.3,675.1 301.3,670.4 301.3,666 301.3,661.9 301.3,658.1 301.3,695.1 301.3,691.9 301.3,688.9 301.3,686 301.3,680.7 301.3,675.7 301.3,671.1 301.3,666.8 301.3,662.8 301.3,733.4 301.3,730.9 301.3,729.7 301.3,727.4 301.3,724.6 301.3,722 301.3,719.5 301.3,714.8 301.3,712.5 301.3,710.4 301.3,708.4 301.3,706.4 301.3,704.5 301.3,700.8 301.3,697.4 301.3,694.1 301.3,691 301.3,742.7 301.3,741.2 301.3,739.7 301.3,738.3 301.3,736.9 301.3,735.5 301.3,732.2 301.3,729.2 301.3,726.3 301.3,723.5 301.3,720.9 301.3,718.4 301.3,716 301.3,713.7 301.3,711.4 301.3,709.3 301.3,705.3 301.3,701.5 301.3,697.9 301.3,694.5 301.3,752 301.3,750.1 301.3,748.2 301.3,746.4 301.3,744.6 301.3,743 301.3,739 301.3,735.2 301.3,731.8 301.3,728.5 301.3,725.4 301.3,722.5 301.3,719.7 301.3,717.1 301.3,714.5 301.3,712.1 273.6,683.8 273.6,682 273.6,680.3 273.6,678.6 273.6,675.3 273.6,672.1 273.6,691.6 273.6,689.6 273.6,687.7 273.6,685.8 273.6,682.3 273.6,678.9 273.6,699.4 273.6,697.2 273.6,695.1 273.6,693 273.6,689.1 273.6,685.5 273.6,707.1 273.6,704.7 273.6,702.3 273.6,700 273.6,695.7 273.6,691.7 273.6,714.9 273.6,712.1 273.6,709.4 273.6,706.8 273.6,702 273.6,697.6 300.2,691.5 300.2,690.8 300.2,690.1 300.2,688.7 300.2,688 300.2,686.3 300.2,683 300.2,681.5 300.2,680 300.2,678.5 300.2,677 300.2,675.6 300.2,674.3 300.2,672.9 300.2,700.2 300.2,699.5 300.2,698.7 300.2,697.9 300.2,696.4 300.2,694.6 300.2,692.8 300.2,691.1 300.2,689.4 300.2,687.8 300.2,686.2 300.2,684.6 300.2,683.1 300.2,681.7 300.2,680.2 300.2,708.9 300.2,708.1 300.2,707.2 300.2,706.4 300.2,705.6 300.2,704.7 300.2,702.7 300.2,698.9 300.2,697.1 300.2,695.3 300.2,693.6 300.2,692 300.2,690.4 300.2,688.8 300.2,687.3 300.2,717.7 300.2,716.7 300.2,715.8 300.2,714.8 300.2,713.9 300.2,713 300.2,710.7 300.2,708.6 300.2,706.5 300.2,704.5 300.2,702.6 300.2,700.8 300.2,699 300.2,697.2 300.2,695.5 300.2,693.9 300.2,726.4 300.2,725.3 300.2,724.2 300.2,723.1 300.2,722.1 300.2,721 300.2,718.5 300.2,716.1 300.2,713.8 300.2,711.6 300.2,709.5 300.2,707.4 300.2,705.5 300.2,703.5 300.2,701.7 300.2,699.9 300.2,735.1 300.2,733.9 300.2,732.6 300.2,731.3 300.2,730.1 300.2,728.9 300.2,726 300.2,723.2 300.2,720.6 300.2,718.1 300.2,715.7 300.2,713.4 300.2,711.2 300.2,709.1 300.2,707 300.2,705.1 300.2,743.9 300.2,742.3 300.2,740.7 300.2,739.2 300.2,737.7 300.2,736.2 300.2,732.8 300.2,729.5 300.2,726.5 300.2,723.6 300.2,720.8 326.4,703.9 326.4,702 326.4,700.1 326.4,698.3 326.4,696.5 326.4,694.8 326.4,691.5 326.4,710.2 326.4,708.1 326.4,706.1 326.4,704.2 326.4,702.3 326.4,698.8 326.4,720.7 326.4,718.3 326.4,716 326.4,713.8 326.4,711.7 326.4,709.6 326.4,705.8 326.4,729.1 326.4,726.4 326.4,723.8 326.4,721.3 326.4,718.9 326.4,716.6 326.4,712.3 311.5,697.4 311.5,691.2 311.5,685.6 311.5,683 311.5,680.5 311.5,678.1 311.5,675.8 311.5,673.6 311.5,671.5 311.5,701.8 311.5,698.6 311.5,695.4 311.5,692.5 311.5,689.7 311.5,687 311.5,684.4 311.5,682 311.5,679.6 311.5,677.4 311.5,675.2 311.5,706.3 311.5,702.9 311.5,699.7 311.5,696.6 311.5,693.7 311.5,690.9 311.5,688.3 311.5,685.8 311.5,683.4 311.5,681.1 311.5,678.8 311.5,710.7 311.5,703.8 311.5,700.7 311.5,697.7 311.5,694.8 311.5,692.1 311.5,689.5 311.5,687.1 311.5,684.7 311.5,682.4 311.5,715.2 311.5,711.5 311.5,708 311.5,704.7 311.5,695.9 311.5,693.2 311.5,690.7 311.5,688.2 311.5,685.9 311.5,719.7 311.5,715.8 311.5,712.1 311.5,708.7 311.5,705.5 311.5,702.5 311.5,699.6 311.5,696.8 311.5,694.2 311.5,691.7 311.5,689.3 311.5,720.1 311.5,716.2 311.5,712.7 311.5,709.3 311.5,706.2 311.5,703.2 311.5,700.3 311.5,697.6 311.5,695 311.5,692.6 311.5,728.6 311.5,716.6 311.5,709.8 311.5,706.7 311.5,703.7 311.5,700.9 311.5,698.3 311.5,695.7 311.5,733 311.5,728.5 311.5,724.3 311.5,720.4 311.5,710.1 311.5,704.1 311.5,701.4 311.5,698.7 311.5,737.5 311.5,732.7 311.5,728.2 311.5,724.1 311.5,720.3 311.5,716.7 311.5,713.3 311.5,710.2 311.5,707.2 311.5,704.3 311.5,701.6 311.5,742 311.5,736.8 311.5,732.1 311.5,727.7 311.5,723.7 311.5,719.9 311.5,716.4 311.5,713.1 311.5,710 311.5,707 311.5,704.2 311.5,750.9 311.5,747.8 311.5,744.8 311.5,739.4 311.5,734.5 311.5,730 311.5,725.8 311.5,721.9" fill="none" stroke="none" marker-start="url(#d)" marker-mid="url(#d)" marker-end="url(#d)"/>
<path d="M245.38,653.40V756.65H340.98" fill="none" stroke="#000" stroke-width="0.507" stroke-linecap="square"/>
<path d="M261.49,756.65v2.2M284.67,756.65v2.2M307.86,756.65v2.2M331.04,756.65v2.2M245.38,747.37h-2.2M245.38,732.66h-2.2M245.38,717.95h-2.2M245.38,703.24h-2.2M245.38,688.54h-2.2M245.38,673.83h-2.2M245.38,659.12h-2.2" stroke="#000" stroke-width="0.6" fill="none"/>
<text x="261.49" y="765.86" text-anchor="middle">0.115</text>
<text x="284.67" y="765.86" text-anchor="middle">0.120</text>
<text x="307.86" y="765.86" text-anchor="middle">0.125</text>
<text x="331.04" y="765.86" text-anchor="middle">0.130</text>
<text x="293.18" y="774.70" text-anchor="middle">% Hydrogen (H)</text>
</g>
<g>
<polyline points="431.6,693.2 431.6,691.9 431.6,690.4 431.6,689.1 431.6,687.7 431.6,686.4 431.6,699.6 431.6,698.1 431.6,696.6 431.6,695.2 431.6,693.8 431.6,692.4 431.6,706 431.6,704.4 431.6,702.8 431.6,701.3 431.6,699.8 431.6,698.3 431.6,712.3 431.6,710.6 431.6,709 431.6,707.3 431.6,705.7 431.6,704.2 431.6,718.7 431.6,716.9 431.6,715.1 431.6,713.3 431.6,711.6 431.6,710 431.6,725 431.6,723.1 431.6,721.1 431.6,719.2 431.6,717.4 431.6,715.7 421.1,693.2 421.1,692.9 421.1,692 421.1,691.6 421.1,691.2 421.1,689.1 421.1,687.2 421.1,685.3 421.1,683.4 421.1,681.7 421.1,679.9 421.1,678.3 421.1,676.6 421.1,675 421.1,672 421.1,698.5 421.1,697.2 421.1,696.7 421.1,696.3 421.1,695.2 421.1,693.1 421.1,692.1 421.1,690.1 421.1,686.4 421.1,684.6 421.1,682.8 421.1,681.2 421.1,679.5 421.1,676.4 421.1,703.7 421.1,703.2 421.1,702.8 421.1,701.8 421.1,701.4 421.1,699.2 421.1,697 421.1,694.9 421.1,693 421.1,691 421.1,689.2 421.1,687.4 421.1,685.6 421.1,683.9 421.1,680.7 421.1,708.9 421.1,708.4 421.1,707.4 421.1,707 421.1,706.5 421.1,705.3 421.1,704.1 421.1,703 421.1,701.9 421.1,699.7 421.1,697.6 421.1,695.6 421.1,693.7 421.1,691.8 421.1,690 421.1,688.2 421.1,684.8 421.1,714.1 421.1,713.1 421.1,712.6 421.1,712.1 421.1,711.5 421.1,710.3 421.1,709.1 421.1,707.9 421.1,702.2 421.1,700.1 421.1,698.1 421.1,696.1 421.1,694.2 421.1,692.4 421.1,688.9 421.1,719.3 421.1,718.2 421.1,717.7 421.1,717.1 421.1,716.6 421.1,715.3 421.1,714 421.1,712.7 421.1,711.4 421.1,709 421.1,706.7 421.1,704.5 421.1,702.4 421.1,700.4 421.1,698.4 421.1,692.8 421.1,724.5 421.1,724 421.1,723.4 421.1,722.8 421.1,722.2 421.1,721.6 421.1,720.2 421.1,718.8 421.1,717.4 421.1,716.1 421.1,713.6 421.1,711.1 421.1,708.8 421.1,706.6 421.1,704.4 421.1,702.3 421.1,700.3 421.1,696.5 421.1,729.7 421.1,729.1 421.1,728.5 421.1,727.8 421.1,727.2 421.1,726.6 421.1,725.1 421.1,723.6 421.1,722.1 421.1,720.7 421.1,718 421.1,715.4 421.1,712.9 421.1,710.6 421.1,708.3 421.1,706.1 421.1,704 421.1,700 404.6,694.4 404.6,690.7 404.6,687.1 404.6,683.7 404.6,680.6 404.6,677.6 404.6,674.7 404.6,672 404.6,669.3 404.6,666.8 404.6,664.4 404.6,699.4 404.6,695.5 404.6,691.8 404.6,688.3 404.6,685 404.6,681.9 404.6,679 404.6,676.2 404.6,673.5 404.6,670.9 404.6,668.4 404.6,704.4 404.6,700.3 404.6,696.4 404.6,689.4 404.6,686.2 404.6,683.2 404.6,680.3 404.6,677.5 404.6,674.9 404.6,672.3 404.6,709.4 404.6,705.1 404.6,701.1 404.6,697.3 404.6,693.8 404.6,690.4 404.6,687.3 404.6,684.3 404.6,681.5 404.6,678.7 404.6,676.1 404.6,709.9 404.6,705.6 404.6,701.7 404.6,698 404.6,694.6 404.6,691.3 404.6,688.2 404.6,685.3 404.6,682.5 404.6,679.8 404.6,719.4 404.6,702.2 404.6,698.6 404.6,692 404.6,689 404.6,686.1 404.6,683.3 404.6,724.4 404.6,719.3 404.6,714.6 404.6,710.3 404.6,702.5 404.6,692.5 404.6,689.5 404.6,686.7 404.6,729.4 404.6,724 404.6,719 404.6,714.4 404.6,710.2 404.6,706.3 404.6,702.6 404.6,699.1 404.6,695.9 404.6,692.8 404.6,689.8 404.6,734.4 404.6,728.6 404.6,723.2 404.6,718.4 404.6,713.9 404.6,709.8 404.6,706 404.6,702.4 404.6,699 404.6,695.7 404.6,692.7 404.6,739.4 404.6,733.1 404.6,727.4 404.6,722.2 404.6,717.5 404.6,713.1 404.6,709.1 404.6,705.3 404.6,701.8 404.6,698.4 404.6,695.2 404.6,744.4 404.6,737.5 404.6,731.3 404.6,725.8 404.6,720.8 404.6,716.2 404.6,711.9 404.6,707.9 404.6,704.2 404.6,700.7 404.6,697.4 392.2,690.8 392.2,690.1 392.2,688.7 392.2,681.3 392.2,679.8 392.2,678.3 392.2,676.8 392.2,675.4 392.2,674 392.2,672.6 392.2,693.1 392.2,691.7 392.2,688.4 392.2,686.7 392.2,685.1 392.2,683.5 392.2,680.4 392.2,678.9 392.2,677.4 392.2,674.6 392.2,692.4 392.2,690.7 392.2,687.2 392.2,684 392.2,680.9 392.2,679.4 392.2,678 392.2,676.6 392.2,697 392.2,692.9 392.2,691.1 392.2,689.4 392.2,686.1 392.2,684.5 392.2,682.9 392.2,680 392.2,678.5 392.2,700.1 392.2,699.3 392.2,697.7 392.2,696.9 392.2,691.5 392.2,688.1 392.2,686.5 392.2,684.9 392.2,683.4 392.2,681.9 392.2,680.5 392.2,703.2 392.2,702.4 392.2,700.7 392.2,699.2 392.2,697.2 392.2,695.4 392.2,693.6 392.2,690.2 392.2,686.9 392.2,685.4 392.2,683.9 392.2,682.4 392.2,704.7 392.2,703 392.2,702.2 392.2,701.4 392.2,699.4 392.2,697.5 392.2,695.7 392.2,693.9 392.2,692.2 392.2,690.5 392.2,687.3 392.2,685.8 392.2,684.3 392.2,707.8 392.2,707 392.2,706.1 392.2,704.4 392.2,699.7 392.2,697.8 392.2,696 392.2,694.2 392.2,692.5 392.2,690.9 392.2,689.3 392.2,687.7 392.2,686.2 392.2,706.7 392.2,699.9 392.2,698 392.2,696.2 392.2,692.8 392.2,691.2 392.2,689.6 392.2,688 392.2,711.6 392.2,710.7 392.2,708.9 392.2,701.9 392.2,698.2 392.2,696.4 392.2,694.7 392.2,693 392.2,691.4 392.2,689.8 392.2,712.9 392.2,712 392.2,711.1 392.2,708.1 392.2,698.3 392.2,696.6 392.2,694.9 392.2,693.2 392.2,691.6 392.2,715.2 392.2,714.3 392.2,713.3 392.2,712.4 392.2,710.2 392.2,696.7 392.2,695 392.2,693.4 392.2,719.4 392.2,718.5 392.2,717.5 392.2,715.5 392.2,714.6 392.2,712.3 392.2,710.1 392.2,708 392.2,706 392.2,704 392.2,721.7 392.2,720.8 392.2,718.7 392.2,717.7 392.2,716.8 392.2,714.4 392.2,710 392.2,707.9 392.2,705.9 392.2,703.9 392.2,702.1 392.2,700.3 392.2,698.5 392.2,696.8 392.2,724.1 392.2,723 392.2,719.9 392.2,718.9 392.2,716.5 392.2,714.2 392.2,711.9 392.2,709.8 392.2,707.7 392.2,705.8 392.2,703.8 392.2,702 392.2,700.2 392.2,698.4 392.2,726.4 392.2,725.3 392.2,724.2 392.2,723.1 392.2,722.1 392.2,721.1 392.2,718.6 392.2,716.2 392.2,713.9 392.2,711.7 392.2,709.6 392.2,707.5 392.2,705.5 392.2,703.6 392.2,701.8 392.2,700 392.2,728.7 392.2,727.6 392.2,726.5 392.2,724.3 392.2,723.2 392.2,720.6 392.2,718.1 392.2,715.8 392.2,713.5 392.2,711.3 392.2,709.2 392.2,707.2 392.2,703.4 392.2,701.6 392.2,673.9 392.2,671.3 392.2,668.8 392.2,666.4 392.2,661.8 392.2,681.4 392.2,678.6 392.2,676 392.2,673.5 392.2,668.7 392.2,664.3 392.2,660.1 392.2,688.5 392.2,685.6 392.2,682.8 392.2,680.1 392.2,675.1 392.2,670.4 392.2,666 392.2,661.9 392.2,658.1 392.2,695.1 392.2,691.9 392.2,688.9 392.2,686 392.2,680.7 392.2,675.7 392.2,671.1 392.2,666.8 392.2,662.8 392.2,733.4 392.2,730.9 392.2,729.7 392.2,727.4 392.2,724.6 392.2,722 392.2,719.5 392.2,714.8 392.2,712.5 392.2,710.4 392.2,708.4 392.2,706.4 392.2,704.5 392.2,700.8 392.2,697.4 392.2,694.1 392.2,691 392.2,742.7 392.2,741.2 392.2,739.7 392.2,738.3 392.2,736.9 392.2,735.5 392.2,732.2 392.2,729.2 392.2,726.3 392.2,723.5 392.2,720.9 392.2,718.4 392.2,716 392.2,713.7 392.2,711.4 392.2,709.3 392.2,705.3 392.2,701.5 392.2,697.9 392.2,694.5 392.2,752 392.2,750.1 392.2,748.2 392.2,746.4 392.2,744.6 392.2,743 392.2,739 392.2,735.2 392.2,731.8 392.2,728.5 392.2,725.4 392.2,722.5 392.2,719.7 392.2,717.1 392.2,714.5 392.2,712.1 369.1,683.8 369.1,682 369.1,680.3 369.1,678.6 369.1,675.3 369.1,672.1 369.1,691.6 369.1,689.6 369.1,687.7 369.1,685.8 369.1,682.3 369.1,678.9 369.1,699.4 369.1,697.2 369.1,695.1 369.1,693 369.1,689.1 369.1,685.5 369.1,707.1 369.1,704.7 369.1,702.3 369.1,700 369.1,695.7 369.1,691.7 369.1,714.9 369.1,712.1 369.1,709.4 369.1,706.8 369.1,702 369.1,697.6 368.7,691.5 368.7,690.8 368.7,690.1 368.7,688.7 368.7,688 368.7,686.3 368.7,683 368.7,681.5 368.7,680 368.7,678.5 368.7,677 368.7,675.6 368.7,674.3 368.7,672.9 368.7,700.2 368.7,699.5 368.7,698.7 368.7,697.9 368.7,696.4 368.7,694.6 368.7,692.8 368.7,691.1 368.7,689.4 368.7,687.8 368.7,686.2 368.7,684.6 368.7,683.1 368.7,681.7 368.7,680.2 368.7,708.9 368.7,708.1 368.7,707.2 368.7,706.4 368.7,705.6 368.7,704.7 368.7,702.7 368.7,698.9 368.7,697.1 368.7,695.3 368.7,693.6 368.7,692 368.7,690.4 368.7,688.8 368.7,687.3 368.7,717.7 368.7,716.7 368.7,715.8 368.7,714.8 368.7,713.9 368.7,713 368.7,710.7 368.7,708.6 368.7,706.5 368.7,704.5 368.7,702.6 368.7,700.8 368.7,699 368.7,697.2 368.7,695.5 368.7,693.9 368.7,726.4 368.7,725.3 368.7,724.2 368.7,723.1 368.7,722.1 368.7,721 368.7,718.5 368.7,716.1 368.7,713.8 368.7,711.6 368.7,709.5 368.7,707.4 368.7,705.5 368.7,703.5 368.7,701.7 368.7,699.9 368.7,735.1 368.7,733.9 368.7,732.6 368.7,731.3 368.7,730.1 368.7,728.9 368.7,726 368.7,723.2 368.7,720.6 368.7,718.1 368.7,715.7 368.7,713.4 368.7,711.2 368.7,709.1 368.7,707 368.7,705.1 368.7,743.9 368.7,742.3 368.7,740.7 368.7,739.2 368.7,737.7 368.7,736.2 368.7,732.8 368.7,729.5 368.7,726.5 368.7,723.6 368.7,720.8 368.3,703.9 368.3,702 368.3,700.1 368.3,698.3 368.3,696.5 368.3,694.8 368.3,691.5 368.3,710.2 368.3,708.1 368.3,706.1 368.3,704.2 368.3,702.3 368.3,698.8 368.3,720.7 368.3,718.3 368.3,716 368.3,713.8 368.3,711.7 368.3,709.6 368.3,705.8 368.3,729.1 368.3,726.4 368.3,723.8 368.3,721.3 368.3,718.9 368.3,716.6 368.3,712.3 382.5,697.4 382.5,691.2 382.5,685.6 382.5,683 382.5,680.5 382.5,678.1 382.5,675.8 382.5,673.6 382.5,671.5 382.5,701.8 382.5,698.6 382.5,695.4 382.5,692.5 382.5,689.7 382.5,687 382.5,684.4 382.5,682 382.5,679.6 382.5,677.4 382.5,675.2 382.5,706.3 382.5,702.9 382.5,699.7 382.5,696.6 382.5,693.7 382.5,690.9 382.5,688.3 382.5,685.8 382.5,683.4 382.5,681.1 382.5,678.8 382.5,710.7 382.5,703.8 382.5,700.7 382.5,697.7 382.5,694.8 382.5,692.1 382.5,689.5 382.5,687.1 382.5,684.7 382.5,682.4 382.5,715.2 382.5,711.5 382.5,708 382.5,704.7 382.5,695.9 382.5,693.2 382.5,690.7 382.5,688.2 382.5,685.9 382.5,719.7 382.5,715.8 382.5,712.1 382.5,708.7 382.5,705.5 382.5,702.5 382.5,699.6 382.5,696.8 382.5,694.2 382.5,691.7 382.5,689.3 382.5,720.1 382.5,716.2 382.5,712.7 382.5,709.3 382.5,706.2 382.5,703.2 382.5,700.3 382.5,697.6 382.5,695 382.5,692.6 382.5,728.6 382.5,716.6 382.5,709.8 382.5,706.7 382.5,703.7 382.5,700.9 382.5,698.3 382.5,695.7 382.5,733 382.5,728.5 382.5,724.3 382.5,720.4 382.5,710.1 382.5,704.1 382.5,701.4 382.5,698.7 382.5,737.5 382.5,732.7 382.5,728.2 382.5,724.1 382.5,720.3 382.5,716.7 382.5,713.3 382.5,710.2 382.5,707.2 382.5,704.3 382.5,701.6 382.5,742 382.5,736.8 382.5,732.1 382.5,727.7 382.5,723.7 382.5,719.9 382.5,716.4 382.5,713.1 382.5,710 382.5,707 382.5,704.2 382.5,750.9 382.5,747.8 382.5,744.8 382.5,739.4 382.5,734.5 382.5,730 382.5,725.8 382.5,721.9" fill="none" stroke="none" marker-start="url(#d)" marker-mid="url(#d)" marker-end="url(#d)"/>
<path d="M352.12,653.40V756.65H447.72" fill="none" stroke="#000" stroke-width="0.507" stroke-linecap="square"/>
<path d="M366.76,756.65v2.2M398.46,756.65v2.2M430.17,756.65v2.2M352.12,747.37h-2.2M352.12,732.66h-2.2M352.12,717.95h-2.2M352.12,703.24h-2.2M352.12,688.54h-2.2M352.12,673.83h-2.2M352.12,659.12h-2.2" stroke="#000" stroke-width="0.6" fill="none"/>
<text x="366.76" y="765.86" text-anchor="middle">0.10</text>
<text x="398.46" y="765.86" text-anchor="middle">0.15</text>
<text x="430.17" y="765.86" text-anchor="middle">0.20</text>
<text x="399.92" y="774.70" text-anchor="middle">% Oxygen (O)</text>
</g>
<g>
<polyline points="522.3,691.9 522.3,690.4 522.3,689.1 522.3,687.7 523.9,699.6 523.9,695.2 523.9,693.8 523.9,692.4 525.5,706 525.5,704.4 525.5,702.8 525.5,701.3 525.5,699.8 525.5,698.3 527.1,710.6 527.1,709 527.1,707.3 527.1,705.7 528.8,718.7 528.8,716.9 528.8,715.1 528.8,713.3 528.8,711.6 528.8,710 530.4,725 530.4,723.1 530.4,721.1 530.4,719.2 530.4,715.7 520.7,692.9 520.7,692 520.7,691.6 520.7,689.1 520.7,688.2 520.7,685.3 520.7,683.4 520.7,681.7 520.7,679.9 520.7,678.3 520.7,675 520.7,672 522.3,698.1 522.3,697.6 522.3,697.2 522.3,696.7 522.3,696.3 522.3,695.2 522.3,694.2 522.3,693.1 522.3,692.1 522.3,690.1 522.3,688.2 522.3,686.4 522.3,684.6 522.3,682.8 522.3,681.2 522.3,679.5 522.3,676.4 523.9,703.7 523.9,703.2 523.9,702.8 523.9,702.3 523.9,701.8 523.9,700.3 523.9,699.2 523.9,698.1 523.9,697 523.9,694.9 523.9,693 523.9,691 523.9,689.2 523.9,687.4 523.9,685.6 523.9,683.9 523.9,680.7 525.5,708.9 525.5,707.9 525.5,707.4 525.5,707 525.5,706.5 525.5,705.3 525.5,704.1 525.5,703 525.5,701.9 525.5,699.7 525.5,697.6 525.5,695.6 525.5,693.7 525.5,691.8 525.5,690 525.5,688.2 525.5,684.8 527.1,714.1 527.1,713.6 527.1,713.1 527.1,712.6 527.1,712.1 527.1,710.3 527.1,709.1 527.1,707.9 527.1,706.7 527.1,704.4 527.1,702.2 527.1,700.1 527.1,698.1 527.1,696.1 527.1,694.2 527.1,692.4 527.1,688.9 528.8,719.3 528.8,718.8 528.8,718.2 528.8,717.7 528.8,717.1 528.8,716.6 528.8,715.3 528.8,714 528.8,712.7 528.8,711.4 528.8,709 528.8,706.7 528.8,704.5 528.8,702.4 528.8,700.4 528.8,698.4 528.8,696.5 528.8,692.8 530.4,724.5 530.4,724 530.4,723.4 530.4,722.8 530.4,722.2 530.4,721.6 530.4,720.2 530.4,718.8 530.4,717.4 530.4,716.1 530.4,713.6 530.4,711.1 530.4,708.8 530.4,706.6 530.4,704.4 530.4,696.5 532,729.7 532,729.1 532,728.5 532,727.8 532,727.2 532,726.6 532,725.1 532,723.6 532,722.1 532,720.7 532,718 532,715.4 532,712.9 532,710.6 532,708.3 532,706.1 532,704 532,700 473.2,694.4 474.8,690.7 476.5,687.1 478.1,683.7 479.7,680.6 481.3,677.6 482.9,674.7 484.5,672 486.2,669.3 487.8,666.8 489.4,664.4 473.2,699.4 474.8,695.5 476.5,691.8 478.1,688.3 479.7,685 481.3,681.9 482.9,679 484.5,676.2 486.2,673.5 487.8,670.9 489.4,668.4 473.2,704.4 474.8,700.3 476.5,696.4 478.1,692.8 479.7,689.4 481.3,686.2 482.9,683.2 484.5,680.3 486.2,677.5 487.8,674.9 489.4,672.3 473.2,709.4 474.8,705.1 476.5,701.1 478.1,697.3 479.7,693.8 481.3,690.4 482.9,687.3 484.5,684.3 486.2,681.5 487.8,678.7 489.4,676.1 473.2,714.4 474.8,709.9 476.5,705.6 478.1,701.7 479.7,698 481.3,694.6 482.9,691.3 484.5,688.2 486.2,685.3 487.8,682.5 489.4,679.8 473.2,719.4 474.8,714.6 476.5,710.2 478.1,706 479.7,702.2 481.3,698.6 482.9,695.2 484.5,692 486.2,689 487.8,686.1 489.4,683.3 473.2,724.4 474.8,719.3 476.5,714.6 478.1,710.3 479.7,706.3 481.3,702.5 482.9,699 484.5,695.7 486.2,692.5 487.8,689.5 489.4,686.7 473.2,729.4 474.8,724 476.5,719 478.1,714.4 479.7,710.2 481.3,706.3 482.9,702.6 484.5,699.1 486.2,695.9 487.8,692.8 489.4,689.8 473.2,734.4 474.8,728.6 476.5,723.2 478.1,718.4 479.7,713.9 481.3,709.8 482.9,706 484.5,702.4 486.2,699 487.8,695.7 489.4,692.7 473.2,739.4 474.8,733.1 476.5,727.4 478.1,722.2 479.7,717.5 481.3,713.1 482.9,709.1 484.5,705.3 486.2,701.8 487.8,698.4 489.4,695.2 473.2,744.4 474.8,737.5 476.5,731.3 478.1,725.8 479.7,720.8 481.3,716.2 482.9,711.9 484.5,707.9 486.2,704.2 487.8,700.7 489.4,697.4 519,691.5 519,690.8 519,690.1 519,689.4 519,688.7 519,688 519,686.2 519,684.5 519,682.9 519,681.3 519,679.8 519,678.3 519,676.8 519,675.4 519,674 519,672.6 519.9,693.9 519.9,693.1 519.9,692.4 519.9,691.7 519.9,690.9 519.9,690.2 519.9,688.4 519.9,686.7 519.9,685.1 519.9,683.5 519.9,681.9 519.9,680.4 519.9,678.9 519.9,677.4 519.9,676 519.9,674.6 520.7,696.2 520.7,695.4 520.7,694.7 520.7,693.9 520.7,693.2 520.7,692.4 520.7,690.7 520.7,688.9 520.7,687.2 520.7,684 520.7,682.4 520.7,680.9 520.7,679.4 520.7,678 520.7,676.6 521.5,698.5 521.5,697.8 521.5,697 521.5,696.2 521.5,695.4 521.5,694.7 521.5,692.9 521.5,691.1 521.5,689.4 521.5,687.7 521.5,686.1 521.5,684.5 521.5,682.9 521.5,681.4 521.5,680 521.5,678.5 522.3,700.8 522.3,700.1 522.3,699.3 522.3,698.5 522.3,697.7 522.3,696.9 522.3,695 522.3,693.2 522.3,691.5 522.3,689.8 522.3,688.1 522.3,686.5 522.3,684.9 522.3,683.4 522.3,681.9 522.3,680.5 523.1,703.2 523.1,702.4 523.1,701.5 523.1,700.7 523.1,699.9 523.1,699.2 523.1,697.2 523.1,695.4 523.1,693.6 523.1,691.9 523.1,690.2 523.1,688.5 523.1,686.9 523.1,685.4 523.1,683.9 523.1,682.4 523.9,705.5 523.9,704.7 523.9,703.8 523.9,703 523.9,702.2 523.9,701.4 523.9,699.4 523.9,697.5 523.9,695.7 523.9,693.9 523.9,692.2 523.9,690.5 523.9,688.9 523.9,687.3 523.9,684.3 524.7,707.8 524.7,707 524.7,706.1 524.7,705.3 524.7,704.4 524.7,703.6 524.7,701.6 524.7,699.7 524.7,697.8 524.7,696 524.7,694.2 524.7,692.5 524.7,690.9 524.7,689.3 524.7,687.7 524.7,686.2 525.5,710.1 525.5,709.3 525.5,708.4 525.5,707.5 525.5,706.7 525.5,705.8 525.5,701.8 525.5,699.9 525.5,698 525.5,696.2 525.5,694.5 525.5,692.8 525.5,691.2 525.5,689.6 525.5,688 526.3,712.5 526.3,711.6 526.3,710.7 526.3,709.8 526.3,708.9 526.3,708 526.3,705.9 526.3,703.9 526.3,701.9 526.3,700 526.3,698.2 526.3,696.4 526.3,694.7 526.3,693 526.3,691.4 526.3,689.8 527.1,714.8 527.1,713.9 527.1,712.9 527.1,712 527.1,711.1 527.1,706 527.1,704 527.1,702 527.1,700.2 527.1,698.3 527.1,696.6 527.1,694.9 527.1,691.6 527.9,717.1 527.9,716.2 527.9,715.2 527.9,714.3 527.9,713.3 527.9,712.4 527.9,710.2 527.9,708 527.9,706 527.9,704 527.9,702.1 527.9,700.2 527.9,698.4 527.9,696.7 527.9,695 527.9,693.4 528.8,719.4 528.8,718.5 528.8,717.5 528.8,716.5 528.8,715.5 528.8,714.6 528.8,712.3 528.8,710.1 528.8,708 528.8,706 528.8,704 528.8,702.1 528.8,700.3 528.8,698.5 528.8,695.1 529.6,721.7 529.6,720.8 529.6,719.7 529.6,718.7 529.6,717.7 529.6,716.8 529.6,714.4 529.6,712.1 529.6,710 529.6,707.9 529.6,705.9 529.6,703.9 529.6,702.1 529.6,700.3 529.6,698.5 529.6,696.8 530.4,723 530.4,722 530.4,720.9 530.4,719.9 530.4,718.9 530.4,716.5 530.4,714.2 530.4,711.9 530.4,709.8 530.4,707.7 530.4,703.8 530.4,702 530.4,700.2 530.4,698.4 531.2,726.4 531.2,725.3 531.2,724.2 531.2,723.1 531.2,722.1 531.2,721.1 531.2,718.6 531.2,716.2 531.2,713.9 531.2,711.7 531.2,709.6 531.2,707.5 531.2,705.5 531.2,703.6 531.2,701.8 531.2,700 532,728.7 532,727.6 532,726.5 532,725.4 532,723.2 532,720.6 532,718.1 532,715.8 532,713.5 532,711.3 532,709.2 532,707.2 532,705.3 532,703.4 532,701.6 520.7,673.9 520.7,671.3 520.7,668.8 520.7,666.4 520.7,661.8 523.9,681.4 523.9,678.6 523.9,676 523.9,673.5 523.9,668.7 523.9,664.3 523.9,660.1 527.1,688.5 527.1,685.6 527.1,682.8 527.1,680.1 527.1,675.1 527.1,670.4 527.1,666 527.1,661.9 527.1,658.1 530.4,695.1 530.4,691.9 530.4,688.9 530.4,686 530.4,680.7 530.4,675.7 530.4,671.1 530.4,666.8 530.4,662.8 533.6,733.4 533.6,732.2 533.6,730.9 533.6,729.7 533.6,727.4 533.6,724.6 533.6,722 533.6,719.5 533.6,717.1 533.6,714.8 533.6,712.5 533.6,710.4 533.6,708.4 533.6,706.4 533.6,704.5 533.6,700.8 533.6,697.4 533.6,694.1 533.6,691 536.8,742.7 536.8,741.2 536.8,739.7 536.8,738.3 536.8,736.9 536.8,735.5 536.8,732.2 536.8,729.2 536.8,726.3 536.8,723.5 536.8,720.9 536.8,718.4 536.8,716 536.8,713.7 536.8,711.4 536.8,709.3 536.8,705.3 536.8,701.5 536.8,697.9 536.8,694.5 540.1,752 540.1,750.1 540.1,748.2 540.1,746.4 540.1,744.6 540.1,743 540.1,739 540.1,735.2 540.1,731.8 540.1,728.5 540.1,725.4 540.1,722.5 540.1,719.7 540.1,717.1 540.1,714.5 540.1,712.1 520.7,683.8 520.7,682 520.7,680.3 520.7,678.6 520.7,675.3 520.7,672.1 523.9,691.6 523.9,689.6 523.9,687.7 523.9,682.3 523.9,678.9 527.1,699.4 527.1,697.2 527.1,695.1 527.1,693 527.1,689.1 527.1,685.5 530.4,707.1 530.4,704.7 530.4,702.3 530.4,700 530.4,695.7 530.4,691.7 533.6,714.9 533.6,712.1 533.6,709.4 533.6,706.8 533.6,702 533.6,697.6 520.7,691.5 520.7,690.8 520.7,690.1 520.7,689.4 520.7,688.7 520.7,688 520.7,686.3 520.7,684.6 520.7,681.5 520.7,680 520.7,678.5 520.7,677 520.7,675.6 520.7,674.3 520.7,672.9 523.9,700.2 523.9,699.5 523.9,698.7 523.9,697.9 523.9,697.1 523.9,696.4 523.9,694.6 523.9,692.8 523.9,691.1 523.9,689.4 523.9,687.8 523.9,686.2 523.9,684.6 523.9,683.1 523.9,681.7 523.9,680.2 527.1,708.9 527.1,707.2 527.1,706.4 527.1,705.6 527.1,702.7 527.1,700.8 527.1,698.9 527.1,697.1 527.1,695.3 527.1,693.6 527.1,692 527.1,690.4 527.1,688.8 527.1,687.3 530.4,717.7 530.4,716.7 530.4,715.8 530.4,714.8 530.4,713.9 530.4,713 530.4,710.7 530.4,708.6 530.4,706.5 530.4,704.5 530.4,702.6 530.4,700.8 530.4,699 530.4,697.2 530.4,695.5 530.4,693.9 533.6,725.3 533.6,724.2 533.6,723.1 533.6,722.1 533.6,721 533.6,718.5 533.6,716.1 533.6,713.8 533.6,711.6 533.6,709.5 533.6,707.4 533.6,705.5 533.6,703.5 533.6,701.7 533.6,699.9 536.8,735.1 536.8,733.9 536.8,732.6 536.8,731.3 536.8,730.1 536.8,728.9 536.8,726 536.8,723.2 536.8,720.6 536.8,718.1 536.8,715.7 536.8,713.4 536.8,711.2 536.8,709.1 536.8,705.1 540.1,743.9 540.1,742.3 540.1,740.7 540.1,739.2 540.1,737.7 540.1,736.2 540.1,732.8 540.1,729.5 540.1,726.5 540.1,723.6 540.1,720.8 523.9,703.9 523.9,702 523.9,700.1 523.9,698.3 523.9,696.5 523.9,694.8 523.9,691.5 527.1,712.3 527.1,710.2 527.1,708.1 527.1,706.1 527.1,704.2 527.1,702.3 527.1,698.8 530.4,720.7 530.4,718.3 530.4,716 530.4,713.8 530.4,711.7 530.4,709.6 530.4,705.8 533.6,729.1 533.6,726.4 533.6,723.8 533.6,721.3 533.6,718.9 533.6,716.6 533.6,712.3 520.7,697.4 520.7,694.2 520.7,691.2 520.7,688.3 520.7,685.6 520.7,683 520.7,680.5 520.7,678.1 520.7,675.8 520.7,673.6 520.7,671.5 522.3,701.8 522.3,698.6 522.3,695.4 522.3,692.5 522.3,689.7 522.3,687 522.3,684.4 522.3,682 522.3,679.6 522.3,677.4 522.3,675.2 523.9,706.3 523.9,702.9 523.9,699.7 523.9,696.6 523.9,693.7 523.9,690.9 523.9,688.3 523.9,685.8 523.9,683.4 523.9,681.1 523.9,678.8 525.5,710.7 525.5,707.2 525.5,703.8 525.5,700.7 525.5,697.7 525.5,694.8 525.5,692.1 525.5,689.5 525.5,687.1 525.5,684.7 525.5,682.4 527.1,715.2 527.1,711.5 527.1,708 527.1,704.7 527.1,701.6 527.1,698.7 527.1,695.9 527.1,693.2 527.1,690.7 527.1,688.2 527.1,685.9 528.8,719.7 528.8,715.8 528.8,712.1 528.8,708.7 528.8,705.5 528.8,702.5 528.8,699.6 528.8,696.8 528.8,694.2 528.8,691.7 528.8,689.3 530.4,724.1 530.4,720.1 530.4,716.2 530.4,712.7 530.4,709.3 530.4,706.2 530.4,703.2 530.4,700.3 530.4,697.6 530.4,695 530.4,692.6 532,728.6 532,724.3 532,720.3 532,716.6 532,713.1 532,709.8 532,706.7 532,703.7 532,700.9 532,698.3 532,695.7 533.6,733 533.6,728.5 533.6,724.3 533.6,720.4 533.6,716.7 533.6,713.3 533.6,710.1 533.6,707 533.6,704.1 533.6,701.4 533.6,698.7 535.2,737.5 535.2,732.7 535.2,728.2 535.2,724.1 535.2,720.3 535.2,716.7 535.2,713.3 535.2,710.2 535.2,707.2 535.2,704.3 535.2,701.6 536.8,742 536.8,736.8 536.8,732.1 536.8,727.7 536.8,723.7 536.8,719.9 536.8,716.4 536.8,713.1 536.8,710 536.8,707 536.8,704.2 540.1,750.9 540.1,747.8 540.1,744.8 540.1,739.4 540.1,734.5 540.1,730 540.1,725.8 540.1,721.9" fill="none" stroke="none" marker-start="url(#d)" marker-mid="url(#d)" marker-end="url(#d)"/>
<path d="M458.86,653.40V756.65H554.46" fill="none" stroke="#000" stroke-width="0.507" stroke-linecap="square"/>
<path d="M473.22,756.65v2.2M505.59,756.65v2.2M537.96,756.65v2.2M458.86,747.37h-2.2M458.86,732.66h-2.2M458.86,717.95h-2.2M458.86,703.24h-2.2M458.86,688.54h-2.2M458.86,673.83h-2.2M458.86,659.12h-2.2" stroke="#000" stroke-width="0.6" fill="none"/>
<text x="473.22" y="765.86" text-anchor="middle">0</text>
<text x="505.59" y="765.86" text-anchor="middle">200</text>
<text x="537.96" y="765.86" text-anchor="middle">400</text>
<text x="506.66" y="774.70" text-anchor="middle">Temperature (K)</text>
</g>
<g>
<polyline points="581.4,691.9 581.9,690.4 582.4,689.1 582.9,687.7 583.4,686.4 581,699.6 581.4,698.1 581.9,696.6 582.4,695.2 582.9,693.8 583.4,692.4 581,706 581.4,704.4 581.9,702.8 582.4,701.3 582.9,699.8 581.4,710.6 581.9,709 582.4,707.3 582.9,705.7 583.4,704.2 581,718.7 581.4,716.9 581.9,715.1 582.4,713.3 582.9,711.6 583.4,710 581,725 581.4,723.1 581.9,721.1 582.4,719.2 582.9,717.4 583.4,715.7 581,693.2 581.1,692.9 581.3,692.4 581.4,692 581.6,691.6 581.8,691.2 582.2,690.1 582.6,689.1 583,688.2 583.4,687.2 584.2,685.3 585.1,683.4 585.9,681.7 586.7,679.9 588.4,676.6 589.2,675 590.8,672 581.1,698.1 581.3,697.6 581.4,697.2 581.6,696.7 581.8,696.3 582.2,695.2 583,693.1 583.4,692.1 584.2,690.1 585.1,688.2 585.9,686.4 586.7,684.6 587.5,682.8 588.4,681.2 589.2,679.5 590.8,676.4 581,703.7 581.1,703.2 581.3,702.8 581.4,702.3 581.6,701.8 581.8,701.4 582.2,700.3 583,698.1 583.4,697 584.2,694.9 585.1,693 585.9,691 586.7,689.2 587.5,687.4 588.4,685.6 589.2,683.9 590.8,680.7 581.1,708.4 581.3,707.9 581.4,707.4 581.6,707 581.8,706.5 582.2,705.3 582.6,704.1 583,703 583.4,701.9 585.1,697.6 585.9,695.6 586.7,693.7 587.5,691.8 588.4,690 589.2,688.2 590.8,684.8 581,714.1 581.1,713.6 581.3,713.1 581.4,712.6 581.6,712.1 581.8,711.5 582.2,710.3 582.6,709.1 583,707.9 583.4,706.7 584.2,704.4 585.1,702.2 585.9,700.1 586.7,698.1 587.5,696.1 588.4,694.2 589.2,692.4 590.8,688.9 581,719.3 581.1,718.8 581.3,718.2 581.4,717.7 581.6,717.1 581.8,716.6 582.2,715.3 582.6,714 583,712.7 583.4,711.4 584.2,709 585.1,706.7 586.7,702.4 587.5,700.4 589.2,696.5 590.8,692.8 581,724.5 581.1,724 581.3,723.4 581.4,722.8 581.6,722.2 581.8,721.6 582.2,720.2 582.6,718.8 583,717.4 583.4,716.1 584.2,713.6 585.1,711.1 585.9,708.8 586.7,706.6 587.5,704.4 588.4,702.3 590.8,696.5 581,729.7 581.1,729.1 581.3,728.5 581.4,727.8 581.6,727.2 581.8,726.6 582.2,725.1 582.6,723.6 583,722.1 583.4,720.7 584.2,718 585.1,715.4 585.9,712.9 586.7,710.6 587.5,708.3 588.4,706.1 589.2,704 629.3,694.4 629.3,690.7 629.3,687.1 629.3,683.7 629.3,680.6 629.3,677.6 629.3,674.7 629.3,672 629.3,669.3 629.3,666.8 629.3,664.4 631,699.4 631,695.5 631,691.8 631,688.3 631,685 631,681.9 631,679 631,676.2 631,673.5 631,670.9 631,668.4 632.6,704.4 632.6,700.3 632.6,696.4 632.6,692.8 632.6,689.4 632.6,686.2 632.6,683.2 632.6,680.3 632.6,677.5 632.6,674.9 632.6,672.3 634.3,709.4 634.3,705.1 634.3,701.1 634.3,697.3 634.3,693.8 634.3,690.4 634.3,687.3 634.3,684.3 634.3,681.5 634.3,678.7 634.3,676.1 635.9,714.4 635.9,709.9 635.9,705.6 635.9,701.7 635.9,698 635.9,694.6 635.9,691.3 635.9,688.2 635.9,685.3 635.9,682.5 635.9,679.8 637.6,719.4 637.6,714.6 637.6,710.2 637.6,706 637.6,702.2 637.6,698.6 637.6,695.2 637.6,692 637.6,689 637.6,686.1 637.6,683.3 639.2,724.4 639.2,719.3 639.2,714.6 639.2,710.3 639.2,706.3 639.2,702.5 639.2,699 639.2,695.7 639.2,692.5 639.2,689.5 639.2,686.7 640.9,729.4 640.9,724 640.9,719 640.9,714.4 640.9,710.2 640.9,706.3 640.9,702.6 640.9,699.1 640.9,695.9 640.9,692.8 640.9,689.8 642.5,734.4 642.5,728.6 642.5,723.2 642.5,718.4 642.5,713.9 642.5,709.8 642.5,706 642.5,702.4 642.5,699 642.5,695.7 642.5,692.7 644.2,739.4 644.2,733.1 644.2,727.4 644.2,722.2 644.2,717.5 644.2,713.1 644.2,709.1 644.2,705.3 644.2,701.8 644.2,698.4 644.2,695.2 645.8,744.4 645.8,737.5 645.8,731.3 645.8,725.8 645.8,720.8 645.8,716.2 645.8,711.9 645.8,707.9 645.8,704.2 645.8,700.7 645.8,697.4 583.4,686.2 584.2,684.5 585.1,682.9 585.9,681.3 586.7,679.8 587.5,678.3 588.4,676.8 589.2,675.4 590,674 590.8,672.6 581,693.9 581.3,693.1 581.6,692.4 581.9,691.7 582.3,690.9 582.6,690.2 583.4,688.4 584.2,686.7 585.1,685.1 585.9,683.5 586.7,681.9 587.5,680.4 588.4,678.9 589.2,677.4 590,676 590.8,674.6 581,696.2 581.3,695.4 581.6,694.7 581.9,693.9 582.3,693.2 582.6,692.4 583.4,690.7 584.2,688.9 585.1,687.2 585.9,685.6 586.7,684 587.5,682.4 588.4,680.9 589.2,679.4 590,678 590.8,676.6 581,698.5 581.3,697.8 581.6,697 581.9,696.2 582.3,695.4 582.6,694.7 583.4,692.9 584.2,691.1 585.1,689.4 585.9,687.7 586.7,686.1 587.5,684.5 588.4,682.9 589.2,681.4 590,680 590.8,678.5 581,700.8 581.3,700.1 581.6,699.3 581.9,698.5 582.3,697.7 582.6,696.9 583.4,695 584.2,693.2 585.1,691.5 585.9,689.8 586.7,688.1 587.5,686.5 588.4,684.9 589.2,683.4 590,681.9 581,703.2 581.3,702.4 581.6,701.5 581.9,700.7 582.3,699.9 582.6,699.2 583.4,697.2 585.1,693.6 585.9,691.9 586.7,690.2 587.5,688.5 588.4,686.9 589.2,685.4 590,683.9 590.8,682.4 581,705.5 581.3,704.7 581.6,703.8 581.9,703 582.3,702.2 582.6,701.4 583.4,699.4 584.2,697.5 585.9,693.9 586.7,692.2 587.5,690.5 588.4,688.9 589.2,687.3 590,685.8 590.8,684.3 581,707.8 581.3,707 581.6,706.1 581.9,705.3 582.3,704.4 582.6,703.6 583.4,701.6 585.1,697.8 585.9,696 586.7,694.2 587.5,692.5 588.4,690.9 589.2,689.3 590,687.7 590.8,686.2 581,710.1 581.3,709.3 581.6,708.4 581.9,707.5 582.3,706.7 582.6,705.8 583.4,703.8 584.2,701.8 585.1,699.9 585.9,698 586.7,696.2 587.5,694.5 588.4,692.8 589.2,691.2 590,689.6 590.8,688 581,712.5 581.3,711.6 581.6,710.7 581.9,709.8 582.3,708.9 582.6,708 583.4,705.9 584.2,703.9 585.1,701.9 585.9,700 586.7,698.2 587.5,696.4 588.4,694.7 589.2,693 590,691.4 590.8,689.8 581,714.8 581.3,713.9 581.6,712.9 581.9,712 582.3,711.1 582.6,710.2 583.4,708.1 584.2,706 585.1,704 585.9,702 586.7,700.2 587.5,698.3 588.4,696.6 589.2,694.9 590,693.2 590.8,691.6 581,717.1 581.3,716.2 581.6,715.2 581.9,714.3 582.3,713.3 582.6,712.4 583.4,710.2 585.1,706 585.9,704 586.7,702.1 587.5,700.2 588.4,698.4 589.2,696.7 590,695 590.8,693.4 581,719.4 581.3,718.5 581.6,717.5 581.9,716.5 582.3,715.5 582.6,714.6 583.4,712.3 584.2,710.1 585.1,708 585.9,706 586.7,704 587.5,702.1 588.4,700.3 589.2,698.5 590,696.8 590.8,695.1 581,721.7 581.3,720.8 581.6,719.7 581.9,718.7 582.3,717.7 582.6,716.8 583.4,714.4 585.1,710 585.9,707.9 586.7,705.9 587.5,703.9 588.4,702.1 589.2,700.3 590,698.5 590.8,696.8 581.3,723 581.6,722 581.9,720.9 582.3,719.9 582.6,718.9 583.4,716.5 584.2,714.2 585.1,711.9 585.9,709.8 586.7,707.7 587.5,705.8 588.4,703.8 589.2,702 590,700.2 590.8,698.4 582.6,721.1 583.4,718.6 585.1,713.9 585.9,711.7 586.7,709.6 587.5,707.5 589.2,703.6 590,701.8 590.8,700 581,728.7 581.3,727.6 581.6,726.5 581.9,725.4 582.3,724.3 582.6,723.2 583.4,720.6 584.2,718.1 585.1,715.8 585.9,713.5 586.7,711.3 587.5,709.2 588.4,707.2 589.2,705.3 590,703.4 590.8,701.6 592.5,673.9 594.1,671.3 595.8,668.8 597.4,666.4 600.8,661.8 592.5,681.4 594.1,678.6 595.8,676 597.4,673.5 600.8,668.7 604.1,664.3 607.4,660.1 592.5,688.5 594.1,685.6 595.8,682.8 597.4,680.1 600.8,675.1 604.1,670.4 607.4,666 610.7,661.9 614,658.1 592.5,695.1 594.1,691.9 595.8,688.9 597.4,686 600.8,680.7 604.1,675.7 607.4,671.1 610.7,666.8 614,662.8 581,733.4 581.3,732.2 581.6,730.9 581.9,729.7 582.3,728.5 582.6,727.4 583.4,724.6 584.2,722 585.1,719.5 585.9,717.1 586.7,714.8 587.5,712.5 588.4,710.4 589.2,708.4 590,706.4 590.8,704.5 592.5,700.8 594.1,697.4 595.8,694.1 597.4,691 581,742.7 581.3,741.2 581.6,739.7 581.9,738.3 582.3,736.9 582.6,735.5 583.4,732.2 584.2,729.2 585.1,726.3 585.9,723.5 586.7,720.9 587.5,718.4 588.4,716 589.2,713.7 590,711.4 590.8,709.3 592.5,705.3 594.1,701.5 595.8,697.9 597.4,694.5 581,752 581.3,750.1 581.6,748.2 581.9,746.4 582.3,744.6 582.6,743 583.4,739 584.2,735.2 585.1,731.8 585.9,728.5 586.7,725.4 587.5,722.5 588.4,719.7 589.2,717.1 590,714.5 590.8,712.1 581,683.8 581.8,682 582.6,680.3 583.4,678.6 585.1,675.3 586.7,672.1 581,691.6 581.8,689.6 582.6,687.7 583.4,685.8 585.1,682.3 586.7,678.9 581,699.4 581.8,697.2 582.6,695.1 583.4,693 585.1,689.1 586.7,685.5 581,707.1 581.8,704.7 582.6,702.3 583.4,700 585.1,695.7 586.7,691.7 581,714.9 581.8,712.1 582.6,709.4 583.4,706.8 585.1,702 586.7,697.6 581,691.5 581.3,690.8 581.6,690.1 581.9,689.4 582.3,688.7 582.6,688 583.4,686.3 584.2,684.6 585.1,683 585.9,681.5 586.7,680 587.5,678.5 588.4,677 589.2,675.6 590,674.3 590.8,672.9 581,700.2 581.3,699.5 581.6,698.7 581.9,697.9 582.3,697.1 582.6,696.4 583.4,694.6 584.2,692.8 585.1,691.1 585.9,689.4 586.7,687.8 587.5,686.2 588.4,684.6 589.2,683.1 590,681.7 590.8,680.2 581,708.9 581.3,708.1 581.6,707.2 581.9,706.4 582.3,705.6 582.6,704.7 583.4,702.7 584.2,700.8 585.1,698.9 585.9,697.1 586.7,695.3 587.5,693.6 588.4,692 589.2,690.4 590,688.8 590.8,687.3 581,717.7 581.3,716.7 581.6,715.8 581.9,714.8 582.3,713.9 582.6,713 583.4,710.7 584.2,708.6 585.1,706.5 585.9,704.5 586.7,702.6 587.5,700.8 588.4,699 589.2,697.2 590,695.5 590.8,693.9 581,726.4 581.3,725.3 581.6,724.2 581.9,723.1 582.3,722.1 582.6,721 583.4,718.5 584.2,716.1 585.1,713.8 585.9,711.6 586.7,709.5 587.5,707.4 588.4,705.5 589.2,703.5 590,701.7 590.8,699.9 581,735.1 581.3,733.9 581.6,732.6 581.9,731.3 582.3,730.1 582.6,728.9 583.4,726 584.2,723.2 585.1,720.6 585.9,718.1 586.7,715.7 587.5,713.4 588.4,711.2 589.2,709.1 590,707 590.8,705.1 581,743.9 581.3,742.3 581.6,740.7 581.9,739.2 582.3,737.7 582.6,736.2 583.4,732.8 584.2,729.5 585.1,726.5 585.9,723.6 586.7,720.8 581,703.9 581.8,702 582.6,700.1 583.4,698.3 584.2,696.5 585.1,694.8 586.7,691.5 581,712.3 581.8,710.2 582.6,708.1 583.4,706.1 584.2,704.2 585.1,702.3 586.7,698.8 581,720.7 581.8,718.3 582.6,716 583.4,713.8 584.2,711.7 585.1,709.6 586.7,705.8 581,729.1 581.8,726.4 582.6,723.8 583.4,721.3 584.2,718.9 585.1,716.6 586.7,712.3 581,697.4 582.6,694.2 584.2,691.2 585.9,688.3 587.5,685.6 589.2,683 590.8,680.5 592.5,678.1 594.1,675.8 595.8,673.6 597.4,671.5 581,701.8 582.6,698.6 584.2,695.4 585.9,692.5 587.5,689.7 589.2,687 590.8,684.4 592.5,682 594.1,679.6 595.8,677.4 597.4,675.2 581,706.3 582.6,702.9 584.2,699.7 585.9,696.6 587.5,693.7 589.2,690.9 590.8,688.3 592.5,685.8 594.1,683.4 595.8,681.1 597.4,678.8 581,710.7 582.6,707.2 584.2,703.8 585.9,700.7 587.5,697.7 589.2,694.8 590.8,692.1 592.5,689.5 594.1,687.1 595.8,684.7 597.4,682.4 581,715.2 582.6,711.5 584.2,708 585.9,704.7 587.5,701.6 589.2,698.7 590.8,695.9 592.5,693.2 594.1,690.7 595.8,688.2 597.4,685.9 581,719.7 582.6,715.8 584.2,712.1 585.9,708.7 587.5,705.5 589.2,702.5 590.8,699.6 592.5,696.8 594.1,694.2 595.8,691.7 597.4,689.3 581,724.1 582.6,720.1 584.2,716.2 585.9,712.7 587.5,709.3 589.2,706.2 590.8,703.2 592.5,700.3 594.1,697.6 595.8,695 597.4,692.6 581,728.6 582.6,724.3 584.2,720.3 585.9,716.6 587.5,713.1 589.2,709.8 590.8,706.7 592.5,703.7 594.1,700.9 595.8,698.3 597.4,695.7 581,733 582.6,728.5 584.2,724.3 585.9,720.4 587.5,716.7 589.2,713.3 590.8,710.1 592.5,707 594.1,704.1 595.8,701.4 597.4,698.7 581,737.5 582.6,732.7 584.2,728.2 585.9,724.1 587.5,720.3 589.2,716.7 590.8,713.3 592.5,710.2 594.1,707.2 595.8,704.3 597.4,701.6 581,742 582.6,736.8 584.2,732.1 585.9,727.7 587.5,723.7 589.2,719.9 590.8,716.4 592.5,713.1 594.1,710 595.8,707 597.4,704.2 581,750.9 581.8,747.8 582.6,744.8 584.2,739.4 585.9,734.5 587.5,730 589.2,725.8 590.8,721.9" fill="none" stroke="none" marker-start="url(#d)" marker-mid="url(#d)" marker-end="url(#d)"/>
<path d="M565.60,653.40V756.65H661.20" fill="none" stroke="#000" stroke-width="0.507" stroke-linecap="square"/>
<path d="M580.94,756.65v2.2M613.96,756.65v2.2M646.97,756.65v2.2M565.60,747.37h-2.2M565.60,732.66h-2.2M565.60,717.95h-2.2M565.60,703.24h-2.2M565.60,688.54h-2.2M565.60,673.83h-2.2M565.60,659.12h-2.2" stroke="#000" stroke-width="0.6" fill="none"/>
<text x="580.94" y="765.86" text-anchor="middle">0</text>
<text x="613.96" y="765.86" text-anchor="middle">200</text>
<text x="646.97" y="765.86" text-anchor="middle">400</text>
<text x="613.40" y="774.70" text-anchor="middle">Pressure (MPa)</text>
</g>
<g>
<path d="M672.34,653.40V756.65H767.94" fill="none" stroke="#000" stroke-width="0.507" stroke-linecap="square"/>
<clipPath id="c6"><rect x="672.34" y="653.40" width="95.6" height="103.25"/></clipPath>
<path d="M676.69,756.64 676.69,756.65 677.12,756.65 677.56,756.65 678.00,756.65 678.43,756.65 678.87,756.65 679.31,756.65 679.74,756.65 680.18,756.65 680.62,756.65 681.05,756.65 681.49,756.65 681.93,756.65 682.36,756.65 682.80,756.65 683.24,756.65 683.67,756.65 684.11,756.65 684.55,756.65 684.98,756.65 685.42,756.65 685.86,756.65 686.29,756.65 686.73,756.65 687.17,756.65 687.60,756.65 688.04,756.65 688.48,756.65 688.91,756.65 689.35,756.65 689.79,756.65 690.22,756.65 690.66,756.65 691.10,756.65 691.53,756.65 691.97,756.65 692.41,756.65 692.84,756.65 693.28,756.65 693.72,756.65 694.15,756.65 694.59,756.65 695.03,756.65 695.46,756.65 695.90,756.65 696.34,756.65 696.77,756.65 697.21,756.65 697.65,756.65 698.09,756.65 698.52,756.65 698.96,756.65 699.40,756.65 699.83,756.65 700.27,756.65 700.71,756.65 701.14,756.65 701.58,756.65 702.02,756.65 702.45,756.65 702.89,756.65 703.33,756.65 703.76,756.65 704.20,756.65 704.64,756.65 705.07,756.65 705.51,756.65 705.95,756.65 706.38,756.65 706.82,756.65 707.26,756.65 707.69,756.65 708.13,756.65 708.57,756.65 709.00,756.65 709.44,756.65 709.88,756.65 710.31,756.65 710.75,756.65 711.19,756.65 711.62,756.65 712.06,756.65 712.50,756.65 712.93,756.65 713.37,756.65 713.81,756.65 714.24,756.65 714.68,756.65 715.12,756.65 715.55,756.65 715.99,756.65 716.43,756.65 716.86,756.65 717.30,756.65 717.74,756.65 718.17,756.65 718.61,756.65 719.05,756.65 719.48,756.65 719.92,756.65 720.36,756.65 720.80,756.65 721.23,756.65 721.67,756.65 722.11,756.65 722.54,756.65 722.98,756.65 723.42,756.65 723.85,756.65 724.29,756.65 724.73,756.65 725.16,756.65 725.60,756.65 726.04,756.65 726.47,756.65 726.91,756.65 727.35,756.65 727.78,756.65 728.22,756.65 728.66,756.65 729.09,756.65 729.53,756.65 729.97,756.65 730.40,756.65 730.84,756.65 731.28,756.65 731.71,756.65 732.15,756.65 732.59,756.65 733.02,756.65 733.46,756.65 733.90,756.65 734.33,756.65 734.77,756.65 735.21,756.65 735.64,756.65 736.08,756.65 736.52,756.65 736.95,756.65 737.39,756.65 737.83,756.65 738.26,756.65 738.70,756.65 739.14,756.65 739.57,756.65 740.01,756.65 740.45,756.65 740.88,756.65 741.32,756.65 741.76,756.65 742.19,756.65 742.63,756.65 743.07,756.65 743.51,756.65 743.94,756.65 744.38,756.65 744.82,756.65 745.25,756.65 745.69,756.65 746.13,756.65 746.56,756.65 747.00,756.65 747.44,756.65 747.87,756.65 748.31,756.65 748.75,756.65 749.18,756.65 749.62,756.65 750.06,756.65 750.49,756.65 750.93,756.65 751.37,756.65 751.80,756.65 752.24,756.65 752.68,756.65 753.11,756.65 753.55,756.65 753.99,756.65 754.42,756.65 754.86,756.65 755.30,756.65 755.73,756.65 756.17,756.65 756.61,756.65 757.04,756.65 757.48,756.65 757.92,756.65 758.35,756.65 758.79,756.65 759.23,756.65 759.66,756.65 760.10,756.65 760.54,756.65 760.97,756.65 761.41,756.65 761.85,756.65 762.28,756.65 762.72,756.65 763.16,756.65 763.59,756.65 763.59,756.65 763.59,756.65 763.16,756.64 762.72,756.64 762.28,756.63 761.85,756.62 761.41,756.61 760.97,756.59 760.54,756.56 760.10,756.52 759.66,756.46 759.23,756.40 758.79,756.31 758.35,756.20 757.92,756.07 757.48,755.91 757.04,755.72 756.61,755.50 756.17,755.27 755.73,755.00 755.30,754.73 754.86,754.44 754.42,754.14 753.99,753.85 753.55,753.57 753.11,753.30 752.68,753.04 752.24,752.81 751.80,752.59 751.37,752.38 750.93,752.17 750.49,751.96 750.06,751.73 749.62,751.47 749.18,751.17 748.75,750.81 748.31,750.39 747.87,749.90 747.44,749.33 747.00,748.67 746.56,747.92 746.13,747.08 745.69,746.14 745.25,745.11 744.82,743.99 744.38,742.77 743.94,741.46 743.51,740.04 743.07,738.51 742.63,736.86 742.19,735.09 741.76,733.18 741.32,731.12 740.88,728.92 740.45,726.57 740.01,724.09 739.57,721.48 739.14,718.76 738.70,715.97 738.26,713.12 737.83,710.24 737.39,707.36 736.95,704.50 736.52,701.67 736.08,698.87 735.64,696.09 735.21,693.34 734.77,690.61 734.33,687.88 733.90,685.17 733.46,682.47 733.02,679.82 732.59,677.24 732.15,674.77 731.71,672.44 731.28,670.28 730.84,668.33 730.40,666.60 729.97,665.09 729.53,663.80 729.09,662.69 728.66,661.75 728.22,660.94 727.78,660.24 727.35,659.65 726.91,659.15 726.47,658.75 726.04,658.46 725.60,658.32 725.16,658.33 724.73,658.53 724.29,658.92 723.85,659.52 723.42,660.31 722.98,661.29 722.54,662.43 722.11,663.70 721.67,665.07 721.23,666.51 720.80,667.99 720.36,669.48 719.92,670.97 719.48,672.45 719.05,673.93 718.61,675.39 718.17,676.85 717.74,678.31 717.30,679.77 716.86,681.23 716.43,682.68 715.99,684.14 715.55,685.58 715.12,687.02 714.68,688.44 714.24,689.85 713.81,691.25 713.37,692.66 712.93,694.09 712.50,695.53 712.06,697.01 711.62,698.53 711.19,700.09 710.75,701.68 710.31,703.30 709.88,704.95 709.44,706.60 709.00,708.25 708.57,709.88 708.13,711.51 707.69,713.11 707.26,714.69 706.82,716.27 706.38,717.83 705.95,719.39 705.51,720.96 705.07,722.54 704.64,724.13 704.20,725.73 703.76,727.35 703.33,728.97 702.89,730.59 702.45,732.20 702.02,733.79 701.58,735.34 701.14,736.85 700.71,738.29 700.27,739.67 699.83,740.96 699.40,742.16 698.96,743.26 698.52,744.26 698.09,745.15 697.65,745.95 697.21,746.65 696.77,747.27 696.34,747.81 695.90,748.28 695.46,748.70 695.03,749.07 694.59,749.42 694.15,749.73 693.72,750.03 693.28,750.33 692.84,750.61 692.41,750.90 691.97,751.18 691.53,751.46 691.10,751.75 690.66,752.03 690.22,752.31 689.79,752.58 689.35,752.85 688.91,753.11 688.48,753.36 688.04,753.60 687.60,753.83 687.17,754.05 686.73,754.27 686.29,754.48 685.86,754.69 685.42,754.89 684.98,755.08 684.55,755.28 684.11,755.46 683.67,755.63 683.24,755.79 682.80,755.94 682.36,756.08 681.93,756.19 681.49,756.29 681.05,756.38 680.62,756.44 680.18,756.50 679.74,756.54 679.31,756.57 678.87,756.60 678.43,756.61 678.00,756.63 677.56,756.64 677.12,756.64 676.69,756.64 676.69,756.64Z" clip-path="url(#c6)" fill="#1f77b4" fill-opacity="0.25" stroke="#1f77b4" stroke-width="0.95" stroke-linejoin="round"/>
<path d="M677.32,756.65v2.2M699.40,756.65v2.2M721.48,756.65v2.2M743.55,756.65v2.2M765.63,756.65v2.2M672.34,747.37h-2.2M672.34,732.66h-2.2M672.34,717.95h-2.2M672.34,703.24h-2.2M672.34,688.54h-2.2M672.34,673.83h-2.2M672.34,659.12h-2.2" stroke="#000" stroke-width="0.6" fill="none"/>
<text x="677.32" y="765.86" text-anchor="middle">750</text>
<text x="699.40" y="765.86" text-anchor="middle">800</text>
<text x="721.48" y="765.86" text-anchor="middle">850</text>
<text x="743.55" y="765.86" text-anchor="middle">900</text>
<text x="765.63" y="765.86" text-anchor="middle">950</text>
<text x="720.14" y="774.70" text-anchor="middle">Density (kg/m3)</text>
</g>
</svg>
</body></html>
